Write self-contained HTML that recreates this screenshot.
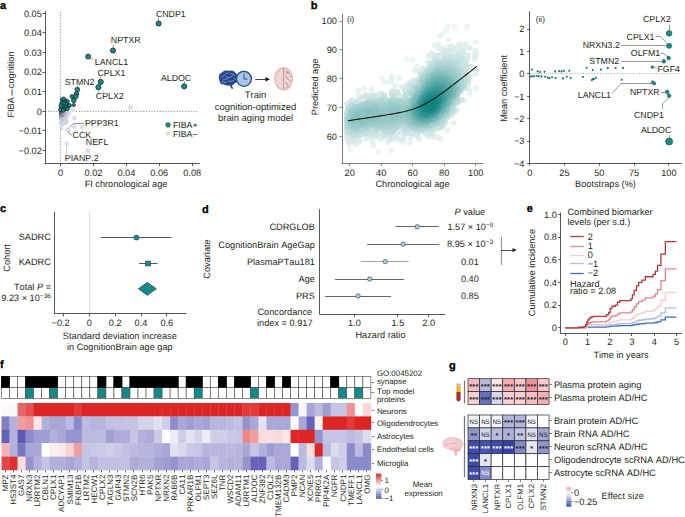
<!DOCTYPE html>
<html><head><meta charset="utf-8"><style>
html,body{margin:0;padding:0;background:#fff;}
svg{display:block;font-family:"Liberation Sans", sans-serif;text-rendering:geometricPrecision;font-kerning:none;}
</style></head><body>
<svg width="685" height="517" viewBox="0 0 685 517">
<rect width="685" height="517" fill="#fff"/>
<text x="0" y="8.6" font-size="11" font-weight="bold" fill="#000" stroke="#000" stroke-width="0.3">a</text>
<line x1="45.50" y1="11.00" x2="45.50" y2="163.40" stroke="#231f20" stroke-width="0.75" />
<line x1="44.65" y1="163.50" x2="199.80" y2="163.50" stroke="#231f20" stroke-width="0.75" />
<line x1="42.50" y1="13.50" x2="45.00" y2="13.50" stroke="#231f20" stroke-width="0.75" />
<text x="41.80" y="16.51" font-size="9.2" text-anchor="end" fill="#231f20" >0.05</text>
<line x1="42.50" y1="32.50" x2="45.00" y2="32.50" stroke="#231f20" stroke-width="0.75" />
<text x="41.80" y="36.11" font-size="9.2" text-anchor="end" fill="#231f20" >0.04</text>
<line x1="42.50" y1="52.50" x2="45.00" y2="52.50" stroke="#231f20" stroke-width="0.75" />
<text x="41.80" y="55.71" font-size="9.2" text-anchor="end" fill="#231f20" >0.03</text>
<line x1="42.50" y1="72.50" x2="45.00" y2="72.50" stroke="#231f20" stroke-width="0.75" />
<text x="41.80" y="75.31" font-size="9.2" text-anchor="end" fill="#231f20" >0.02</text>
<line x1="42.50" y1="91.50" x2="45.00" y2="91.50" stroke="#231f20" stroke-width="0.75" />
<text x="41.80" y="94.91" font-size="9.2" text-anchor="end" fill="#231f20" >0.01</text>
<line x1="42.50" y1="111.50" x2="45.00" y2="111.50" stroke="#231f20" stroke-width="0.75" />
<text x="41.80" y="114.51" font-size="9.2" text-anchor="end" fill="#231f20" >0</text>
<line x1="42.50" y1="130.50" x2="45.00" y2="130.50" stroke="#231f20" stroke-width="0.75" />
<text x="41.80" y="134.11" font-size="9.2" text-anchor="end" fill="#231f20" >−0.01</text>
<line x1="42.50" y1="150.50" x2="45.00" y2="150.50" stroke="#231f20" stroke-width="0.75" />
<text x="41.80" y="153.71" font-size="9.2" text-anchor="end" fill="#231f20" >−0.02</text>
<line x1="60.50" y1="163.40" x2="60.50" y2="166.00" stroke="#231f20" stroke-width="0.75" />
<text x="60.60" y="175.91" font-size="9.2" text-anchor="middle" fill="#231f20" >0</text>
<line x1="93.50" y1="163.40" x2="93.50" y2="166.00" stroke="#231f20" stroke-width="0.75" />
<text x="93.50" y="175.91" font-size="9.2" text-anchor="middle" fill="#231f20" >0.02</text>
<line x1="126.50" y1="163.40" x2="126.50" y2="166.00" stroke="#231f20" stroke-width="0.75" />
<text x="126.40" y="175.91" font-size="9.2" text-anchor="middle" fill="#231f20" >0.04</text>
<line x1="159.50" y1="163.40" x2="159.50" y2="166.00" stroke="#231f20" stroke-width="0.75" />
<text x="159.30" y="175.91" font-size="9.2" text-anchor="middle" fill="#231f20" >0.06</text>
<line x1="192.50" y1="163.40" x2="192.50" y2="166.00" stroke="#231f20" stroke-width="0.75" />
<text x="192.20" y="175.91" font-size="9.2" text-anchor="middle" fill="#231f20" >0.08</text>
<text x="126.00" y="187.01" font-size="9.2" text-anchor="middle" fill="#231f20" >FI chronological age</text>
<text transform="translate(14.11,84.50) rotate(-90)" font-size="9.2" text-anchor="middle" fill="#231f20">FIBA<tspan dx="1.3" dy="0.9" font-size="11.8">–</tspan><tspan dx="1.1" dy="-0.9">cognition</tspan></text>
<line x1="45.00" y1="111.50" x2="199.00" y2="111.50" stroke="#555" stroke-width="0.6" stroke-dasharray="1.2,1.6"/>
<line x1="60.50" y1="12.00" x2="60.50" y2="163.00" stroke="#555" stroke-width="0.6" stroke-dasharray="1.2,1.6"/>
<circle cx="72.60" cy="109.80" r="2.40" fill="#dcdfeb" stroke="none" stroke-width="0.5" />
<circle cx="74.50" cy="118.20" r="2.40" fill="#dcdfeb" stroke="none" stroke-width="0.5" />
<circle cx="74.50" cy="126.40" r="2.40" fill="#dcdfeb" stroke="none" stroke-width="0.5" />
<circle cx="82.10" cy="127.00" r="2.40" fill="#dcdfeb" stroke="none" stroke-width="0.5" />
<circle cx="67.00" cy="129.60" r="2.40" fill="#dcdfeb" stroke="none" stroke-width="0.5" />
<circle cx="130.60" cy="107.50" r="2.50" fill="#dcdfeb" stroke="none" stroke-width="0.5" />
<circle cx="87.70" cy="150.60" r="2.50" fill="#dcdfeb" stroke="none" stroke-width="0.5" />
<circle cx="66.70" cy="144.00" r="2.20" fill="#dcdfeb" stroke="none" stroke-width="0.5" />
<circle cx="68.50" cy="130.50" r="2.30" fill="#dcdfeb" stroke="none" stroke-width="0.5" />
<circle cx="66.00" cy="116.00" r="2.30" fill="#dcdfeb" stroke="none" stroke-width="0.5" />
<circle cx="63.00" cy="124.00" r="2.00" fill="#dcdfeb" stroke="none" stroke-width="0.5" />
<circle cx="69.00" cy="113.00" r="2.20" fill="#dcdfeb" stroke="none" stroke-width="0.5" />
<circle cx="64.00" cy="119.00" r="2.00" fill="#dcdfeb" stroke="none" stroke-width="0.5" />
<circle cx="60.93" cy="117.38" r="1.70" fill="#a0a3b7" stroke="none" stroke-width="0.5" />
<circle cx="63.62" cy="115.18" r="1.70" fill="#abaec1" stroke="none" stroke-width="0.5" />
<circle cx="66.21" cy="111.37" r="1.70" fill="#d0d3e4" stroke="none" stroke-width="0.5" />
<circle cx="61.74" cy="128.55" r="1.70" fill="#d0d3e4" stroke="none" stroke-width="0.5" />
<circle cx="62.73" cy="115.86" r="1.70" fill="#9fa2b7" stroke="none" stroke-width="0.5" />
<circle cx="63.73" cy="116.83" r="1.70" fill="#bcc0d2" stroke="none" stroke-width="0.5" />
<circle cx="65.89" cy="111.81" r="1.70" fill="#d0d3e4" stroke="none" stroke-width="0.5" />
<circle cx="65.56" cy="114.13" r="1.70" fill="#d0d3e4" stroke="none" stroke-width="0.5" />
<circle cx="61.48" cy="111.81" r="1.70" fill="#565972" stroke="none" stroke-width="0.5" />
<circle cx="65.96" cy="111.99" r="1.70" fill="#d0d3e4" stroke="none" stroke-width="0.5" />
<circle cx="62.18" cy="122.58" r="1.70" fill="#d0d3e4" stroke="none" stroke-width="0.5" />
<circle cx="62.35" cy="116.16" r="1.70" fill="#9ca0b4" stroke="none" stroke-width="0.5" />
<circle cx="61.35" cy="112.22" r="1.70" fill="#565972" stroke="none" stroke-width="0.5" />
<circle cx="62.33" cy="124.46" r="1.70" fill="#d0d3e4" stroke="none" stroke-width="0.5" />
<circle cx="62.59" cy="113.83" r="1.70" fill="#868aa0" stroke="none" stroke-width="0.5" />
<circle cx="63.00" cy="113.86" r="1.70" fill="#9194a9" stroke="none" stroke-width="0.5" />
<circle cx="66.63" cy="116.52" r="1.70" fill="#d0d3e4" stroke="none" stroke-width="0.5" />
<circle cx="66.72" cy="115.18" r="1.70" fill="#d0d3e4" stroke="none" stroke-width="0.5" />
<circle cx="62.08" cy="113.39" r="1.70" fill="#767990" stroke="none" stroke-width="0.5" />
<circle cx="67.23" cy="113.13" r="1.70" fill="#d0d3e4" stroke="none" stroke-width="0.5" />
<circle cx="61.66" cy="114.19" r="1.70" fill="#777a91" stroke="none" stroke-width="0.5" />
<circle cx="62.48" cy="112.51" r="1.70" fill="#797c93" stroke="none" stroke-width="0.5" />
<circle cx="65.83" cy="123.73" r="1.70" fill="#d0d3e4" stroke="none" stroke-width="0.5" />
<circle cx="61.34" cy="115.87" r="1.70" fill="#8c8fa4" stroke="none" stroke-width="0.5" />
<circle cx="62.65" cy="119.56" r="1.70" fill="#cccfe0" stroke="none" stroke-width="0.5" />
<circle cx="64.24" cy="112.58" r="1.70" fill="#aaadc1" stroke="none" stroke-width="0.5" />
<circle cx="61.79" cy="115.33" r="1.70" fill="#898ca2" stroke="none" stroke-width="0.5" />
<circle cx="64.93" cy="111.29" r="1.70" fill="#bbbed0" stroke="none" stroke-width="0.5" />
<circle cx="61.36" cy="112.55" r="1.70" fill="#5a5e76" stroke="none" stroke-width="0.5" />
<circle cx="62.64" cy="111.21" r="1.70" fill="#797d93" stroke="none" stroke-width="0.5" />
<circle cx="61.59" cy="112.55" r="1.70" fill="#60647c" stroke="none" stroke-width="0.5" />
<circle cx="63.11" cy="114.02" r="1.70" fill="#9598ad" stroke="none" stroke-width="0.5" />
<circle cx="63.08" cy="113.74" r="1.70" fill="#9295aa" stroke="none" stroke-width="0.5" />
<circle cx="65.19" cy="111.49" r="1.70" fill="#c2c5d7" stroke="none" stroke-width="0.5" />
<circle cx="65.22" cy="113.28" r="1.70" fill="#c6c9db" stroke="none" stroke-width="0.5" />
<circle cx="64.25" cy="110.76" r="1.70" fill="#a8abbf" stroke="none" stroke-width="0.5" />
<circle cx="61.57" cy="115.14" r="1.70" fill="#83879d" stroke="none" stroke-width="0.5" />
<circle cx="63.96" cy="111.42" r="1.70" fill="#a0a3b7" stroke="none" stroke-width="0.5" />
<circle cx="63.63" cy="114.18" r="1.70" fill="#a3a6ba" stroke="none" stroke-width="0.5" />
<circle cx="63.44" cy="115.67" r="1.70" fill="#abaec2" stroke="none" stroke-width="0.5" />
<circle cx="63.36" cy="114.92" r="1.70" fill="#a2a6ba" stroke="none" stroke-width="0.5" />
<circle cx="63.91" cy="117.39" r="1.70" fill="#c5c8da" stroke="none" stroke-width="0.5" />
<circle cx="62.06" cy="110.77" r="1.70" fill="#676a82" stroke="none" stroke-width="0.5" />
<circle cx="62.97" cy="111.46" r="1.70" fill="#83879d" stroke="none" stroke-width="0.5" />
<circle cx="62.84" cy="113.16" r="1.70" fill="#878ba0" stroke="none" stroke-width="0.5" />
<circle cx="62.02" cy="115.38" r="1.70" fill="#8d90a6" stroke="none" stroke-width="0.5" />
<circle cx="62.04" cy="115.59" r="1.70" fill="#9093a8" stroke="none" stroke-width="0.5" />
<circle cx="64.92" cy="111.70" r="1.70" fill="#bbbed0" stroke="none" stroke-width="0.5" />
<circle cx="61.95" cy="114.13" r="1.70" fill="#7b7f95" stroke="none" stroke-width="0.5" />
<circle cx="60.86" cy="114.03" r="1.70" fill="#6a6e85" stroke="none" stroke-width="0.5" />
<circle cx="61.03" cy="112.91" r="1.70" fill="#595d75" stroke="none" stroke-width="0.5" />
<circle cx="63.58" cy="119.51" r="1.70" fill="#d0d3e4" stroke="none" stroke-width="0.5" />
<circle cx="61.73" cy="113.14" r="1.70" fill="#6a6e86" stroke="none" stroke-width="0.5" />
<circle cx="64.40" cy="119.76" r="1.70" fill="#d0d3e4" stroke="none" stroke-width="0.5" />
<circle cx="61.07" cy="113.26" r="1.70" fill="#5f637b" stroke="none" stroke-width="0.5" />
<circle cx="63.18" cy="119.79" r="1.70" fill="#d0d3e4" stroke="none" stroke-width="0.5" />
<circle cx="62.15" cy="114.56" r="1.70" fill="#85889e" stroke="none" stroke-width="0.5" />
<circle cx="64.03" cy="118.25" r="1.70" fill="#d0d3e4" stroke="none" stroke-width="0.5" />
<circle cx="62.86" cy="113.83" r="1.70" fill="#8d91a6" stroke="none" stroke-width="0.5" />
<circle cx="61.07" cy="115.53" r="1.70" fill="#84879d" stroke="none" stroke-width="0.5" />
<circle cx="64.00" cy="113.23" r="1.70" fill="#a7aabd" stroke="none" stroke-width="0.5" />
<circle cx="61.49" cy="110.94" r="1.70" fill="#535770" stroke="none" stroke-width="0.5" />
<circle cx="67.16" cy="121.59" r="1.70" fill="#d0d3e4" stroke="none" stroke-width="0.5" />
<circle cx="67.00" cy="114.38" r="1.70" fill="#d0d3e4" stroke="none" stroke-width="0.5" />
<circle cx="61.16" cy="120.97" r="1.70" fill="#d0d3e4" stroke="none" stroke-width="0.5" />
<circle cx="63.07" cy="111.04" r="1.70" fill="#86899f" stroke="none" stroke-width="0.5" />
<circle cx="61.07" cy="112.54" r="1.70" fill="#535770" stroke="none" stroke-width="0.5" />
<circle cx="61.51" cy="120.26" r="1.70" fill="#cccfe0" stroke="none" stroke-width="0.5" />
<circle cx="65.10" cy="115.32" r="1.70" fill="#ced1e2" stroke="none" stroke-width="0.5" />
<circle cx="66.01" cy="117.64" r="1.70" fill="#d0d3e4" stroke="none" stroke-width="0.5" />
<circle cx="65.35" cy="111.25" r="1.70" fill="#c6c9da" stroke="none" stroke-width="0.5" />
<circle cx="62.19" cy="118.22" r="1.70" fill="#b5b8cb" stroke="none" stroke-width="0.5" />
<circle cx="67.01" cy="117.21" r="1.70" fill="#d0d3e4" stroke="none" stroke-width="0.5" />
<circle cx="62.48" cy="114.02" r="1.70" fill="#86899f" stroke="none" stroke-width="0.5" />
<circle cx="65.81" cy="111.87" r="1.70" fill="#d0d3e4" stroke="none" stroke-width="0.5" />
<circle cx="62.39" cy="116.93" r="1.70" fill="#a7aabe" stroke="none" stroke-width="0.5" />
<circle cx="63.83" cy="119.07" r="1.70" fill="#d0d3e4" stroke="none" stroke-width="0.5" />
<circle cx="62.14" cy="120.11" r="1.70" fill="#ced1e2" stroke="none" stroke-width="0.5" />
<circle cx="64.39" cy="118.42" r="1.70" fill="#d0d3e4" stroke="none" stroke-width="0.5" />
<circle cx="61.15" cy="114.81" r="1.70" fill="#797d93" stroke="none" stroke-width="0.5" />
<circle cx="64.14" cy="113.40" r="1.70" fill="#abaec2" stroke="none" stroke-width="0.5" />
<circle cx="61.36" cy="110.52" r="1.70" fill="#4f536c" stroke="none" stroke-width="0.5" />
<circle cx="62.17" cy="111.96" r="1.70" fill="#6d7088" stroke="none" stroke-width="0.5" />
<circle cx="61.58" cy="112.35" r="1.70" fill="#5e617a" stroke="none" stroke-width="0.5" />
<circle cx="61.67" cy="114.88" r="1.70" fill="#81849a" stroke="none" stroke-width="0.5" />
<circle cx="63.04" cy="116.33" r="1.70" fill="#aaadc1" stroke="none" stroke-width="0.5" />
<circle cx="61.32" cy="115.08" r="1.70" fill="#7f8399" stroke="none" stroke-width="0.5" />
<circle cx="65.13" cy="113.48" r="1.70" fill="#c5c8da" stroke="none" stroke-width="0.5" />
<circle cx="62.30" cy="112.16" r="1.70" fill="#71758c" stroke="none" stroke-width="0.5" />
<circle cx="64.81" cy="116.36" r="1.70" fill="#ced1e2" stroke="none" stroke-width="0.5" />
<circle cx="62.04" cy="117.79" r="1.70" fill="#aeb1c4" stroke="none" stroke-width="0.5" />
<circle cx="63.49" cy="115.13" r="1.70" fill="#a7aabe" stroke="none" stroke-width="0.5" />
<circle cx="64.81" cy="114.55" r="1.70" fill="#c2c5d7" stroke="none" stroke-width="0.5" />
<circle cx="61.15" cy="117.31" r="1.70" fill="#a0a3b7" stroke="none" stroke-width="0.5" />
<circle cx="63.55" cy="113.02" r="1.70" fill="#9a9db1" stroke="none" stroke-width="0.5" />
<circle cx="65.77" cy="119.36" r="1.70" fill="#d0d3e4" stroke="none" stroke-width="0.5" />
<circle cx="64.77" cy="116.33" r="1.70" fill="#cdd0e1" stroke="none" stroke-width="0.5" />
<circle cx="62.68" cy="111.13" r="1.70" fill="#7a7e94" stroke="none" stroke-width="0.5" />
<circle cx="64.43" cy="120.29" r="1.70" fill="#d0d3e4" stroke="none" stroke-width="0.5" />
<circle cx="63.29" cy="118.27" r="1.70" fill="#c5c8d9" stroke="none" stroke-width="0.5" />
<circle cx="63.39" cy="114.92" r="1.70" fill="#a3a6ba" stroke="none" stroke-width="0.5" />
<circle cx="63.46" cy="117.94" r="1.70" fill="#c3c7d8" stroke="none" stroke-width="0.5" />
<circle cx="62.41" cy="111.87" r="1.70" fill="#73778e" stroke="none" stroke-width="0.5" />
<circle cx="61.49" cy="111.58" r="1.70" fill="#555871" stroke="none" stroke-width="0.5" />
<circle cx="65.19" cy="117.82" r="1.70" fill="#d0d3e4" stroke="none" stroke-width="0.5" />
<circle cx="64.71" cy="122.13" r="1.70" fill="#d0d3e4" stroke="none" stroke-width="0.5" />
<circle cx="61.37" cy="111.93" r="1.70" fill="#535770" stroke="none" stroke-width="0.5" />
<circle cx="65.07" cy="111.12" r="1.70" fill="#bec1d3" stroke="none" stroke-width="0.5" />
<circle cx="60.32" cy="123.34" r="1.70" fill="#d0d3e4" stroke="none" stroke-width="0.5" />
<circle cx="62.93" cy="116.83" r="1.70" fill="#aeb1c4" stroke="none" stroke-width="0.5" />
<circle cx="60.59" cy="113.96" r="1.70" fill="#686b83" stroke="none" stroke-width="0.5" />
<circle cx="64.42" cy="116.63" r="1.70" fill="#c8cbdd" stroke="none" stroke-width="0.5" />
<circle cx="62.65" cy="114.59" r="1.70" fill="#8f93a8" stroke="none" stroke-width="0.5" />
<circle cx="61.89" cy="111.63" r="1.70" fill="#62667e" stroke="none" stroke-width="0.5" />
<circle cx="64.15" cy="111.46" r="1.70" fill="#a5a9bc" stroke="none" stroke-width="0.5" />
<circle cx="63.56" cy="117.63" r="1.70" fill="#c2c5d7" stroke="none" stroke-width="0.5" />
<circle cx="62.45" cy="116.39" r="1.70" fill="#a1a4b8" stroke="none" stroke-width="0.5" />
<circle cx="64.37" cy="119.68" r="1.70" fill="#d0d3e4" stroke="none" stroke-width="0.5" />
<circle cx="65.41" cy="115.67" r="1.70" fill="#d0d3e4" stroke="none" stroke-width="0.5" />
<circle cx="64.29" cy="111.14" r="1.70" fill="#a9acc0" stroke="none" stroke-width="0.5" />
<circle cx="61.36" cy="114.49" r="1.70" fill="#777a91" stroke="none" stroke-width="0.5" />
<circle cx="62.72" cy="112.95" r="1.70" fill="#83869c" stroke="none" stroke-width="0.5" />
<circle cx="63.24" cy="123.20" r="1.70" fill="#d0d3e4" stroke="none" stroke-width="0.5" />
<circle cx="62.08" cy="115.96" r="1.70" fill="#9699ae" stroke="none" stroke-width="0.5" />
<circle cx="62.50" cy="112.70" r="1.70" fill="#7b7e95" stroke="none" stroke-width="0.5" />
<circle cx="64.05" cy="111.41" r="1.70" fill="#a3a6ba" stroke="none" stroke-width="0.5" />
<circle cx="61.92" cy="115.09" r="1.70" fill="#878ba1" stroke="none" stroke-width="0.5" />
<circle cx="61.64" cy="113.53" r="1.70" fill="#6d7188" stroke="none" stroke-width="0.5" />
<circle cx="64.78" cy="111.45" r="1.70" fill="#b7bacc" stroke="none" stroke-width="0.5" />
<circle cx="63.69" cy="119.30" r="1.70" fill="#d0d3e4" stroke="none" stroke-width="0.5" />
<circle cx="65.99" cy="111.53" r="1.70" fill="#d0d3e4" stroke="none" stroke-width="0.5" />
<circle cx="65.30" cy="115.75" r="1.70" fill="#d0d3e4" stroke="none" stroke-width="0.5" />
<circle cx="62.60" cy="111.31" r="1.70" fill="#787b92" stroke="none" stroke-width="0.5" />
<circle cx="62.26" cy="118.58" r="1.70" fill="#bbbed0" stroke="none" stroke-width="0.5" />
<circle cx="61.78" cy="113.75" r="1.70" fill="#73778e" stroke="none" stroke-width="0.5" />
<circle cx="61.15" cy="114.04" r="1.70" fill="#6d7088" stroke="none" stroke-width="0.5" />
<circle cx="64.56" cy="119.66" r="1.70" fill="#d0d3e4" stroke="none" stroke-width="0.5" />
<circle cx="62.43" cy="114.08" r="1.70" fill="#85899e" stroke="none" stroke-width="0.5" />
<circle cx="60.48" cy="112.81" r="1.70" fill="#52566f" stroke="none" stroke-width="0.5" />
<circle cx="61.88" cy="114.45" r="1.70" fill="#7e8298" stroke="none" stroke-width="0.5" />
<circle cx="64.15" cy="114.49" r="1.70" fill="#b2b5c8" stroke="none" stroke-width="0.5" />
<circle cx="62.41" cy="115.57" r="1.70" fill="#9699ae" stroke="none" stroke-width="0.5" />
<circle cx="62.33" cy="117.57" r="1.70" fill="#aeb2c5" stroke="none" stroke-width="0.5" />
<circle cx="63.26" cy="114.86" r="1.70" fill="#a0a3b7" stroke="none" stroke-width="0.5" />
<circle cx="61.02" cy="118.54" r="1.70" fill="#b1b5c7" stroke="none" stroke-width="0.5" />
<circle cx="65.30" cy="118.33" r="1.70" fill="#d0d3e4" stroke="none" stroke-width="0.5" />
<circle cx="63.84" cy="112.42" r="1.70" fill="#9fa2b6" stroke="none" stroke-width="0.5" />
<circle cx="61.13" cy="115.10" r="1.70" fill="#7e8197" stroke="none" stroke-width="0.5" />
<circle cx="63.60" cy="118.71" r="1.70" fill="#ced1e2" stroke="none" stroke-width="0.5" />
<circle cx="61.21" cy="124.52" r="1.70" fill="#d0d3e4" stroke="none" stroke-width="0.5" />
<circle cx="62.23" cy="111.11" r="1.70" fill="#6c6f87" stroke="none" stroke-width="0.5" />
<circle cx="63.87" cy="117.51" r="1.70" fill="#c6c9db" stroke="none" stroke-width="0.5" />
<circle cx="62.71" cy="111.91" r="1.70" fill="#7d8097" stroke="none" stroke-width="0.5" />
<circle cx="62.55" cy="113.03" r="1.70" fill="#7f8298" stroke="none" stroke-width="0.5" />
<circle cx="62.18" cy="112.84" r="1.70" fill="#73768e" stroke="none" stroke-width="0.5" />
<circle cx="62.76" cy="114.33" r="1.70" fill="#8f93a8" stroke="none" stroke-width="0.5" />
<circle cx="64.10" cy="114.52" r="1.70" fill="#b1b4c7" stroke="none" stroke-width="0.5" />
<circle cx="62.92" cy="111.75" r="1.70" fill="#82869c" stroke="none" stroke-width="0.5" />
<circle cx="65.43" cy="114.15" r="1.70" fill="#cfd2e3" stroke="none" stroke-width="0.5" />
<circle cx="65.37" cy="112.92" r="1.70" fill="#c9ccdd" stroke="none" stroke-width="0.5" />
<circle cx="61.54" cy="115.88" r="1.70" fill="#8e91a6" stroke="none" stroke-width="0.5" />
<circle cx="63.93" cy="112.21" r="1.70" fill="#a1a4b8" stroke="none" stroke-width="0.5" />
<circle cx="60.93" cy="115.61" r="1.70" fill="#84889e" stroke="none" stroke-width="0.5" />
<circle cx="64.20" cy="114.42" r="1.70" fill="#b2b6c9" stroke="none" stroke-width="0.5" />
<circle cx="63.84" cy="119.01" r="1.70" fill="#d0d3e4" stroke="none" stroke-width="0.5" />
<circle cx="60.51" cy="113.00" r="1.70" fill="#565a72" stroke="none" stroke-width="0.5" />
<circle cx="61.30" cy="119.22" r="1.70" fill="#bcbfd2" stroke="none" stroke-width="0.5" />
<circle cx="62.25" cy="115.80" r="1.70" fill="#969aae" stroke="none" stroke-width="0.5" />
<circle cx="62.91" cy="118.87" r="1.70" fill="#c6c9db" stroke="none" stroke-width="0.5" />
<circle cx="62.26" cy="114.91" r="1.70" fill="#8b8fa4" stroke="none" stroke-width="0.5" />
<line x1="66.50" y1="146.40" x2="66.50" y2="153.60" stroke="#c8cad6" stroke-width="0.9" />
<path d="M83.7,123.5 L73.5,123.5 L68.5,128.2" stroke="#555" stroke-width="0.6" fill="none" />
<path d="M72,135.2 Q69,134.5 68.6,131.5" stroke="#555" stroke-width="0.6" fill="none" />
<circle cx="158.60" cy="23.50" r="2.60" fill="#178b89" stroke="#101c1c" stroke-width="0.7" />
<circle cx="113.00" cy="50.50" r="2.60" fill="#178b89" stroke="#101c1c" stroke-width="0.7" />
<circle cx="88.20" cy="56.60" r="2.50" fill="#178b89" stroke="#101c1c" stroke-width="0.7" />
<circle cx="100.70" cy="81.90" r="2.60" fill="#178b89" stroke="#101c1c" stroke-width="0.7" />
<circle cx="98.40" cy="87.20" r="2.60" fill="#178b89" stroke="#101c1c" stroke-width="0.7" />
<circle cx="184.20" cy="86.30" r="2.60" fill="#178b89" stroke="#101c1c" stroke-width="0.7" />
<circle cx="77.30" cy="89.70" r="2.40" fill="#178b89" stroke="#101c1c" stroke-width="0.7" />
<circle cx="76.40" cy="94.10" r="2.30" fill="#178b89" stroke="#101c1c" stroke-width="0.7" />
<circle cx="72.00" cy="96.50" r="2.00" fill="#178b89" stroke="#101c1c" stroke-width="0.7" />
<circle cx="75.80" cy="96.50" r="2.30" fill="#178b89" stroke="#101c1c" stroke-width="0.7" />
<circle cx="73.80" cy="100.40" r="2.30" fill="#178b89" stroke="#101c1c" stroke-width="0.7" />
<circle cx="73.80" cy="105.00" r="1.60" fill="#178b89" stroke="#101c1c" stroke-width="0.7" />
<circle cx="62.20" cy="99.60" r="1.85" fill="#178b89" stroke="#101c1c" stroke-width="0.7" />
<circle cx="65.10" cy="100.40" r="1.85" fill="#178b89" stroke="#101c1c" stroke-width="0.7" />
<circle cx="67.40" cy="101.30" r="1.85" fill="#178b89" stroke="#101c1c" stroke-width="0.7" />
<circle cx="61.60" cy="103.10" r="1.85" fill="#178b89" stroke="#101c1c" stroke-width="0.7" />
<circle cx="64.50" cy="103.60" r="1.85" fill="#178b89" stroke="#101c1c" stroke-width="0.7" />
<circle cx="67.20" cy="104.20" r="1.85" fill="#178b89" stroke="#101c1c" stroke-width="0.7" />
<circle cx="68.60" cy="106.00" r="1.85" fill="#178b89" stroke="#101c1c" stroke-width="0.7" />
<circle cx="62.80" cy="106.20" r="1.85" fill="#178b89" stroke="#101c1c" stroke-width="0.7" />
<circle cx="65.70" cy="107.10" r="1.85" fill="#178b89" stroke="#101c1c" stroke-width="0.7" />
<circle cx="61.60" cy="108.30" r="1.85" fill="#178b89" stroke="#101c1c" stroke-width="0.7" />
<circle cx="64.50" cy="109.20" r="1.85" fill="#178b89" stroke="#101c1c" stroke-width="0.7" />
<circle cx="67.40" cy="108.90" r="1.85" fill="#178b89" stroke="#101c1c" stroke-width="0.7" />
<circle cx="69.60" cy="105.40" r="1.85" fill="#178b89" stroke="#101c1c" stroke-width="0.7" />
<circle cx="60.40" cy="110.00" r="1.85" fill="#178b89" stroke="#101c1c" stroke-width="0.7" />
<circle cx="63.30" cy="110.40" r="1.85" fill="#178b89" stroke="#101c1c" stroke-width="0.7" />
<circle cx="60.80" cy="105.50" r="1.85" fill="#178b89" stroke="#101c1c" stroke-width="0.7" />
<circle cx="63.60" cy="98.80" r="1.85" fill="#178b89" stroke="#101c1c" stroke-width="0.7" />
<line x1="158.50" y1="17.80" x2="158.50" y2="20.80" stroke="#555" stroke-width="0.6" />
<line x1="113.50" y1="45.20" x2="113.50" y2="47.80" stroke="#555" stroke-width="0.6" />
<line x1="90.60" y1="58.00" x2="93.30" y2="59.60" stroke="#555" stroke-width="0.6" />
<line x1="77.50" y1="85.80" x2="77.50" y2="87.20" stroke="#555" stroke-width="0.6" />
<line x1="100.50" y1="77.30" x2="100.50" y2="79.20" stroke="#555" stroke-width="0.6" />
<line x1="98.50" y1="89.90" x2="98.50" y2="91.60" stroke="#555" stroke-width="0.6" />
<line x1="184.50" y1="81.80" x2="184.50" y2="83.60" stroke="#555" stroke-width="0.6" />
<text x="155.90" y="16.80" font-size="8.8" fill="#231f20" >CNDP1</text>
<text x="110.80" y="43.40" font-size="8.8" fill="#231f20" >NPTXR</text>
<text x="94.80" y="64.70" font-size="8.8" fill="#231f20" >LANCL1</text>
<text x="97.50" y="76.10" font-size="8.8" fill="#231f20" >CPLX1</text>
<text x="95.80" y="99.40" font-size="8.8" fill="#231f20" >CPLX2</text>
<text x="160.90" y="80.50" font-size="8.8" fill="#231f20" >ALDOC</text>
<text x="64.70" y="84.50" font-size="8.8" fill="#231f20" >STMN2</text>
<text x="85.00" y="126.20" font-size="8.8" fill="#231f20" >PPP3R1</text>
<text x="72.60" y="137.50" font-size="8.8" fill="#231f20" >CCK</text>
<text x="85.80" y="145.30" font-size="8.8" fill="#231f20" >NEFL</text>
<text x="64.80" y="161.00" font-size="8.8" fill="#231f20" >PIANP.2</text>
<circle cx="168.00" cy="124.90" r="2.30" fill="#178b89" stroke="#203a3a" stroke-width="0.55" />
<circle cx="168.00" cy="133.60" r="2.30" fill="#dcdfeb" stroke="none" stroke-width="0.5" />
<text x="172.90" y="128.07" font-size="8.8" fill="#231f20" >FIBA+</text>
<text x="172.90" y="136.57" font-size="8.8" fill="#231f20" >FIBA–</text>
<path d="M219.5,80 C218,77 219,73.5 222,72.5 C223.5,70.5 227,70 229,71 C231.5,70 234.5,71 235.5,73 C237.5,74 238,77 237,79 C237.8,81 236.5,83 234.5,83.3 C234,85 232.5,85.5 231.5,85 L233.3,88.5 L231.8,89 L229.5,85.3 C227.5,86 225,85.5 224,84.3 C222,84.8 220,83.5 220,82 C219.3,81.5 219.2,80.8 219.5,80 Z" fill="#24458f"/>
<g stroke="#dfe8f6" stroke-width="0.5" fill="none" stroke-linecap="round">
<path d="M221,77.5 C222.5,75.5 224,76.5 225,74.5 C226,73 227.5,74 228.5,72.8 M223,80 C225,78.5 226.5,79.8 228,78 C229.5,76.5 231,77.8 232.5,76 M221.5,82 C223.5,81.5 224.5,83 226.5,82 M228.5,81.5 C230,80.5 231.5,82 233.5,80.8 M230.5,73.5 C232,74.8 233.5,73.8 234.5,75.5 M226,76.5 L227.5,77.3 M234,78.5 C235,79.5 236,78.5 236.5,80"/>
</g>
<circle cx="243.90" cy="78.80" r="7.50" fill="#a9c6e6" stroke="#24448c" stroke-width="1.3" />
<path d="M243.9,73.6 L243.9,79 L247.6,79" stroke="#24448c" stroke-width="0.9" fill="none" />
<line x1="255.30" y1="79.50" x2="267.00" y2="79.50" stroke="#111" stroke-width="0.8" />
<path d="M270,79.2 L265.5,77 L265.5,81.4 Z" fill="#111"/>
<ellipse cx="283.6" cy="78.8" rx="8.9" ry="11" fill="#f3d6d6" stroke="#dcb6ac" stroke-width="1.2"/>
<g fill="#e0b4b4"><circle cx="277" cy="74" r="0.45"/><circle cx="279" cy="71.5" r="0.45"/><circle cx="278.5" cy="77" r="0.45"/><circle cx="280.5" cy="75" r="0.45"/><circle cx="277.5" cy="80.5" r="0.45"/><circle cx="280" cy="82" r="0.45"/><circle cx="278" cy="85" r="0.45"/><circle cx="281" cy="87" r="0.45"/><circle cx="281.5" cy="72.5" r="0.45"/><circle cx="280.5" cy="78.5" r="0.45"/><circle cx="276.8" cy="77.6" r="0.45"/><circle cx="279.5" cy="88" r="0.45"/><circle cx="282" cy="84.5" r="0.45"/><circle cx="282.2" cy="80" r="0.45"/></g>
<path d="M283.8,68.2 C283.2,72 284.3,75 283.4,79 C284.2,83 283.3,86 283.8,89.5" stroke="#8c6464" stroke-width="0.6" fill="none" />
<path d="M285.5,70.5 C287.5,71.5 286,73.5 288.5,74 M285.3,75.5 C287,77 285.8,78.5 288,79.2 C289.3,79.8 289.5,81 290.8,81.3 M285.6,82 C287.3,83 286.6,85 288.5,85.6 M287.2,71.8 L289.6,73.6 M286.2,87.2 L288.4,86.4 M289.8,76.5 L291.5,76" stroke="#6e4c4c" stroke-width="0.55" fill="none" />
<text x="255.50" y="98.40" font-size="9.45" text-anchor="middle" fill="#231f20" >Train</text>
<text x="255.50" y="109.90" font-size="9.45" text-anchor="middle" fill="#231f20" >cognition-optimized</text>
<text x="255.50" y="120.80" font-size="9.45" text-anchor="middle" fill="#231f20" >brain aging model</text>
<text x="310.8" y="8.9" font-size="11" font-weight="bold" fill="#000" stroke="#000" stroke-width="0.3">b</text>
<line x1="342.50" y1="14.00" x2="342.50" y2="163.00" stroke="#6d6d6d" stroke-width="0.9" />
<line x1="341.50" y1="163.50" x2="483.20" y2="163.50" stroke="#6d6d6d" stroke-width="0.9" />
<line x1="339.50" y1="21.50" x2="342.00" y2="21.50" stroke="#6d6d6d" stroke-width="0.8" />
<text x="336.90" y="24.31" font-size="9.2" text-anchor="end" fill="#231f20" >100</text>
<line x1="339.50" y1="49.50" x2="342.00" y2="49.50" stroke="#6d6d6d" stroke-width="0.8" />
<text x="336.90" y="53.11" font-size="9.2" text-anchor="end" fill="#231f20" >90</text>
<line x1="339.50" y1="78.50" x2="342.00" y2="78.50" stroke="#6d6d6d" stroke-width="0.8" />
<text x="336.90" y="81.91" font-size="9.2" text-anchor="end" fill="#231f20" >80</text>
<line x1="339.50" y1="107.50" x2="342.00" y2="107.50" stroke="#6d6d6d" stroke-width="0.8" />
<text x="336.90" y="110.71" font-size="9.2" text-anchor="end" fill="#231f20" >70</text>
<line x1="339.50" y1="136.50" x2="342.00" y2="136.50" stroke="#6d6d6d" stroke-width="0.8" />
<text x="336.90" y="139.51" font-size="9.2" text-anchor="end" fill="#231f20" >60</text>
<line x1="349.50" y1="163.40" x2="349.50" y2="166.00" stroke="#6d6d6d" stroke-width="0.8" />
<text x="349.70" y="175.91" font-size="9.2" text-anchor="middle" fill="#231f20" >20</text>
<line x1="381.50" y1="163.40" x2="381.50" y2="166.00" stroke="#6d6d6d" stroke-width="0.8" />
<text x="381.20" y="175.91" font-size="9.2" text-anchor="middle" fill="#231f20" >40</text>
<line x1="412.50" y1="163.40" x2="412.50" y2="166.00" stroke="#6d6d6d" stroke-width="0.8" />
<text x="412.70" y="175.91" font-size="9.2" text-anchor="middle" fill="#231f20" >60</text>
<line x1="444.50" y1="163.40" x2="444.50" y2="166.00" stroke="#6d6d6d" stroke-width="0.8" />
<text x="444.20" y="175.91" font-size="9.2" text-anchor="middle" fill="#231f20" >80</text>
<line x1="475.50" y1="163.40" x2="475.50" y2="166.00" stroke="#6d6d6d" stroke-width="0.8" />
<text x="475.70" y="175.91" font-size="9.2" text-anchor="middle" fill="#231f20" >100</text>
<text x="412.50" y="187.01" font-size="9.2" text-anchor="middle" fill="#231f20" >Chronological age</text>
<text transform="translate(317.51,86.90) rotate(-90)" font-size="9.2" text-anchor="middle" fill="#231f20">Predicted age</text>
<text x="347.00" y="22.25" font-size="8.2" fill="#231f20" >(i)</text>
<circle cx="467.0" cy="26.8" r="2.9" fill="#e8f2f1" fill-opacity="0.8"/>
<circle cx="406.7" cy="59.3" r="2.9" fill="#e8f2f1" fill-opacity="0.8"/>
<circle cx="454.4" cy="26.8" r="2.9" fill="#e8f2f1" fill-opacity="0.8"/>
<circle cx="378.5" cy="152.1" r="2.9" fill="#e8f2f1" fill-opacity="0.8"/>
<circle cx="448.1" cy="26.8" r="2.9" fill="#e7f2f1" fill-opacity="0.8"/>
<circle cx="391.5" cy="150.5" r="2.9" fill="#e7f2f1" fill-opacity="0.8"/>
<circle cx="412.4" cy="59.5" r="2.9" fill="#e7f2f1" fill-opacity="0.8"/>
<circle cx="382.0" cy="78.5" r="2.9" fill="#e7f2f1" fill-opacity="0.8"/>
<circle cx="445.9" cy="30.6" r="2.9" fill="#e7f2f1" fill-opacity="0.8"/>
<circle cx="442.2" cy="34.5" r="2.9" fill="#e7f2f1" fill-opacity="0.8"/>
<circle cx="439.9" cy="36.0" r="2.9" fill="#e7f2f1" fill-opacity="0.8"/>
<circle cx="475.7" cy="42.1" r="2.9" fill="#e6f1f0" fill-opacity="0.8"/>
<circle cx="392.2" cy="76.4" r="2.9" fill="#e6f1f0" fill-opacity="0.8"/>
<circle cx="350.2" cy="149.4" r="2.9" fill="#e6f1f0" fill-opacity="0.8"/>
<circle cx="391.1" cy="78.9" r="2.9" fill="#e5f1f0" fill-opacity="0.8"/>
<circle cx="385.3" cy="82.2" r="2.9" fill="#e5f1f0" fill-opacity="0.8"/>
<circle cx="398.9" cy="78.0" r="2.9" fill="#e5f1f0" fill-opacity="0.8"/>
<circle cx="434.5" cy="44.9" r="2.9" fill="#e5f1f0" fill-opacity="0.8"/>
<circle cx="448.6" cy="39.8" r="2.9" fill="#e5f1f0" fill-opacity="0.8"/>
<circle cx="440.5" cy="138.9" r="2.9" fill="#e5f1f0" fill-opacity="0.8"/>
<circle cx="475.7" cy="88.2" r="2.9" fill="#e5f1f0" fill-opacity="0.8"/>
<circle cx="373.5" cy="144.9" r="2.9" fill="#e5f0ef" fill-opacity="0.8"/>
<circle cx="358.4" cy="90.4" r="2.9" fill="#e4f0ef" fill-opacity="0.8"/>
<circle cx="364.2" cy="88.3" r="2.9" fill="#e4f0ef" fill-opacity="0.8"/>
<circle cx="391.5" cy="81.8" r="2.9" fill="#e4f0ef" fill-opacity="0.8"/>
<circle cx="409.9" cy="142.8" r="2.9" fill="#e4f0ef" fill-opacity="0.8"/>
<circle cx="438.8" cy="44.3" r="2.9" fill="#e4f0ef" fill-opacity="0.8"/>
<circle cx="403.3" cy="142.4" r="2.9" fill="#e3f0ef" fill-opacity="0.8"/>
<circle cx="475.3" cy="50.1" r="2.9" fill="#e3f0ee" fill-opacity="0.8"/>
<circle cx="475.7" cy="51.1" r="2.9" fill="#e3efee" fill-opacity="0.8"/>
<circle cx="465.0" cy="43.8" r="2.9" fill="#e2efee" fill-opacity="0.8"/>
<circle cx="475.7" cy="52.6" r="2.9" fill="#e2efee" fill-opacity="0.8"/>
<circle cx="438.1" cy="137.3" r="2.9" fill="#e2efee" fill-opacity="0.8"/>
<circle cx="465.9" cy="44.4" r="2.9" fill="#e2efee" fill-opacity="0.8"/>
<circle cx="447.2" cy="130.7" r="2.9" fill="#e2efee" fill-opacity="0.8"/>
<circle cx="416.8" cy="67.0" r="2.9" fill="#e1efee" fill-opacity="0.8"/>
<circle cx="453.2" cy="123.1" r="2.9" fill="#e1efee" fill-opacity="0.8"/>
<circle cx="475.3" cy="54.5" r="2.9" fill="#e1efee" fill-opacity="0.8"/>
<circle cx="475.7" cy="57.1" r="2.9" fill="#e1efee" fill-opacity="0.8"/>
<circle cx="475.3" cy="55.1" r="2.9" fill="#e1efee" fill-opacity="0.8"/>
<circle cx="469.9" cy="93.9" r="2.9" fill="#e1efee" fill-opacity="0.8"/>
<circle cx="371.6" cy="89.6" r="2.9" fill="#e1efee" fill-opacity="0.8"/>
<circle cx="414.5" cy="70.5" r="2.9" fill="#e1efee" fill-opacity="0.8"/>
<circle cx="416.5" cy="68.1" r="2.9" fill="#e1efee" fill-opacity="0.8"/>
<circle cx="475.7" cy="73.5" r="2.9" fill="#e1efee" fill-opacity="0.8"/>
<circle cx="475.7" cy="73.1" r="2.9" fill="#e1efee" fill-opacity="0.8"/>
<circle cx="469.6" cy="47.8" r="2.9" fill="#e1eeed" fill-opacity="0.8"/>
<circle cx="348.6" cy="143.6" r="2.9" fill="#e1eeed" fill-opacity="0.8"/>
<circle cx="460.1" cy="44.9" r="2.9" fill="#e0eeed" fill-opacity="0.8"/>
<circle cx="475.7" cy="68.9" r="2.9" fill="#e0eeed" fill-opacity="0.8"/>
<circle cx="438.6" cy="48.3" r="2.9" fill="#e0eeed" fill-opacity="0.8"/>
<circle cx="475.6" cy="68.8" r="2.9" fill="#e0eeed" fill-opacity="0.8"/>
<circle cx="419.4" cy="138.9" r="2.9" fill="#e0eeed" fill-opacity="0.8"/>
<circle cx="458.9" cy="45.1" r="2.9" fill="#e0eeed" fill-opacity="0.8"/>
<circle cx="469.2" cy="48.1" r="2.9" fill="#e0eeed" fill-opacity="0.8"/>
<circle cx="372.3" cy="141.1" r="2.9" fill="#e0eeed" fill-opacity="0.8"/>
<circle cx="387.7" cy="142.0" r="2.9" fill="#e0eeed" fill-opacity="0.8"/>
<circle cx="474.6" cy="56.6" r="2.9" fill="#e0eeed" fill-opacity="0.8"/>
<circle cx="355.4" cy="144.3" r="2.9" fill="#e0eeed" fill-opacity="0.8"/>
<circle cx="474.8" cy="58.9" r="2.9" fill="#e0eeed" fill-opacity="0.8"/>
<circle cx="466.1" cy="46.8" r="2.9" fill="#e0eeed" fill-opacity="0.8"/>
<circle cx="428.5" cy="56.0" r="2.9" fill="#e0eeed" fill-opacity="0.8"/>
<circle cx="395.2" cy="85.6" r="2.9" fill="#e0eeed" fill-opacity="0.8"/>
<circle cx="432.0" cy="53.1" r="2.9" fill="#dfeeed" fill-opacity="0.8"/>
<circle cx="400.0" cy="140.1" r="2.9" fill="#dfeeed" fill-opacity="0.8"/>
<circle cx="433.5" cy="136.7" r="2.9" fill="#dfeeed" fill-opacity="0.8"/>
<circle cx="434.5" cy="136.5" r="2.9" fill="#dfeeed" fill-opacity="0.8"/>
<circle cx="451.7" cy="46.3" r="2.9" fill="#dfeeed" fill-opacity="0.8"/>
<circle cx="349.8" cy="142.7" r="2.9" fill="#dfedec" fill-opacity="0.8"/>
<circle cx="443.7" cy="48.1" r="2.9" fill="#deedec" fill-opacity="0.8"/>
<circle cx="448.6" cy="47.0" r="2.9" fill="#deedec" fill-opacity="0.8"/>
<circle cx="410.7" cy="138.4" r="2.9" fill="#deedec" fill-opacity="0.8"/>
<circle cx="404.1" cy="138.7" r="2.9" fill="#deedec" fill-opacity="0.8"/>
<circle cx="358.4" cy="142.1" r="2.9" fill="#ddedec" fill-opacity="0.8"/>
<circle cx="473.4" cy="68.1" r="2.9" fill="#ddedec" fill-opacity="0.8"/>
<circle cx="398.8" cy="138.8" r="2.9" fill="#ddedec" fill-opacity="0.8"/>
<circle cx="428.6" cy="136.4" r="2.9" fill="#dceceb" fill-opacity="0.8"/>
<circle cx="401.4" cy="86.5" r="2.9" fill="#dceceb" fill-opacity="0.8"/>
<circle cx="431.5" cy="56.1" r="2.9" fill="#dceceb" fill-opacity="0.8"/>
<circle cx="455.2" cy="48.5" r="2.9" fill="#dceceb" fill-opacity="0.8"/>
<circle cx="346.7" cy="138.8" r="2.9" fill="#dceceb" fill-opacity="0.8"/>
<circle cx="463.3" cy="49.9" r="2.9" fill="#dceceb" fill-opacity="0.8"/>
<circle cx="456.0" cy="48.7" r="2.9" fill="#dbeceb" fill-opacity="0.8"/>
<circle cx="442.4" cy="50.7" r="2.9" fill="#dbeceb" fill-opacity="0.8"/>
<circle cx="469.3" cy="89.1" r="2.9" fill="#dbeceb" fill-opacity="0.8"/>
<circle cx="461.2" cy="49.8" r="2.9" fill="#dbecea" fill-opacity="0.8"/>
<circle cx="380.9" cy="138.6" r="2.9" fill="#dbecea" fill-opacity="0.8"/>
<circle cx="390.1" cy="139.2" r="2.9" fill="#dbecea" fill-opacity="0.8"/>
<circle cx="393.1" cy="138.9" r="2.9" fill="#dbecea" fill-opacity="0.8"/>
<circle cx="358.8" cy="96.1" r="2.9" fill="#daebea" fill-opacity="0.8"/>
<circle cx="451.0" cy="49.4" r="2.9" fill="#daebea" fill-opacity="0.8"/>
<circle cx="350.9" cy="140.8" r="2.9" fill="#daebea" fill-opacity="0.8"/>
<circle cx="366.1" cy="138.8" r="2.9" fill="#daebea" fill-opacity="0.8"/>
<circle cx="462.9" cy="50.8" r="2.9" fill="#daebea" fill-opacity="0.8"/>
<circle cx="468.1" cy="55.0" r="2.9" fill="#daebea" fill-opacity="0.8"/>
<circle cx="355.2" cy="141.3" r="2.9" fill="#daebea" fill-opacity="0.8"/>
<circle cx="348.9" cy="139.7" r="2.9" fill="#daebea" fill-opacity="0.8"/>
<circle cx="471.5" cy="66.7" r="2.9" fill="#daebea" fill-opacity="0.8"/>
<circle cx="463.1" cy="100.2" r="2.9" fill="#d9ebea" fill-opacity="0.8"/>
<circle cx="396.7" cy="137.4" r="2.9" fill="#d9ebea" fill-opacity="0.8"/>
<circle cx="449.6" cy="50.4" r="2.9" fill="#d9ebea" fill-opacity="0.8"/>
<circle cx="445.8" cy="51.3" r="2.9" fill="#d9ebe9" fill-opacity="0.8"/>
<circle cx="418.0" cy="135.8" r="2.9" fill="#d9ebe9" fill-opacity="0.8"/>
<circle cx="467.9" cy="57.0" r="2.9" fill="#d9eae9" fill-opacity="0.8"/>
<circle cx="359.2" cy="139.9" r="2.9" fill="#d8eae9" fill-opacity="0.8"/>
<circle cx="431.7" cy="134.1" r="2.9" fill="#d8eae9" fill-opacity="0.8"/>
<circle cx="463.0" cy="52.7" r="2.9" fill="#d8eae9" fill-opacity="0.8"/>
<circle cx="365.6" cy="94.8" r="2.9" fill="#d8eae9" fill-opacity="0.8"/>
<circle cx="352.1" cy="99.8" r="2.9" fill="#d8eae9" fill-opacity="0.8"/>
<circle cx="346.7" cy="103.6" r="2.9" fill="#d7eae9" fill-opacity="0.8"/>
<circle cx="409.6" cy="82.4" r="2.9" fill="#d7eae9" fill-opacity="0.8"/>
<circle cx="462.6" cy="53.2" r="2.9" fill="#d7eae9" fill-opacity="0.8"/>
<circle cx="449.3" cy="51.7" r="2.9" fill="#d7eae9" fill-opacity="0.8"/>
<circle cx="470.6" cy="75.8" r="2.9" fill="#d7eae9" fill-opacity="0.8"/>
<circle cx="392.3" cy="91.3" r="2.9" fill="#d7eae8" fill-opacity="0.8"/>
<circle cx="406.8" cy="85.5" r="2.9" fill="#d7e9e8" fill-opacity="0.8"/>
<circle cx="393.8" cy="91.2" r="2.9" fill="#d7e9e8" fill-opacity="0.8"/>
<circle cx="443.5" cy="53.1" r="2.9" fill="#d7e9e8" fill-opacity="0.8"/>
<circle cx="379.5" cy="93.6" r="2.9" fill="#d6e9e8" fill-opacity="0.8"/>
<circle cx="451.5" cy="51.9" r="2.9" fill="#d6e9e8" fill-opacity="0.8"/>
<circle cx="370.8" cy="136.4" r="2.9" fill="#d6e9e8" fill-opacity="0.8"/>
<circle cx="375.9" cy="136.3" r="2.9" fill="#d6e9e8" fill-opacity="0.8"/>
<circle cx="391.3" cy="137.2" r="2.9" fill="#d6e9e8" fill-opacity="0.8"/>
<circle cx="352.6" cy="139.5" r="2.9" fill="#d6e9e8" fill-opacity="0.8"/>
<circle cx="448.3" cy="52.3" r="2.9" fill="#d6e9e8" fill-opacity="0.8"/>
<circle cx="415.4" cy="135.0" r="2.9" fill="#d6e9e8" fill-opacity="0.8"/>
<circle cx="396.0" cy="136.2" r="2.9" fill="#d6e9e8" fill-opacity="0.8"/>
<circle cx="437.1" cy="55.5" r="2.9" fill="#d6e9e8" fill-opacity="0.8"/>
<circle cx="435.4" cy="56.4" r="2.9" fill="#d6e9e8" fill-opacity="0.8"/>
<circle cx="392.6" cy="91.6" r="2.9" fill="#d6e9e8" fill-opacity="0.8"/>
<circle cx="436.7" cy="55.8" r="2.9" fill="#d6e9e8" fill-opacity="0.8"/>
<circle cx="383.8" cy="136.9" r="2.9" fill="#d6e9e8" fill-opacity="0.8"/>
<circle cx="425.6" cy="134.2" r="2.9" fill="#d6e9e8" fill-opacity="0.8"/>
<circle cx="403.4" cy="134.5" r="2.9" fill="#d5e9e8" fill-opacity="0.8"/>
<circle cx="419.5" cy="71.8" r="2.9" fill="#d5e9e8" fill-opacity="0.8"/>
<circle cx="382.3" cy="93.6" r="2.9" fill="#d5e9e8" fill-opacity="0.8"/>
<circle cx="428.4" cy="62.5" r="2.9" fill="#d5e9e8" fill-opacity="0.8"/>
<circle cx="462.1" cy="99.9" r="2.9" fill="#d5e9e8" fill-opacity="0.8"/>
<circle cx="432.5" cy="132.9" r="2.9" fill="#d5e9e8" fill-opacity="0.8"/>
<circle cx="428.7" cy="133.6" r="2.9" fill="#d5e9e8" fill-opacity="0.8"/>
<circle cx="372.4" cy="135.9" r="2.9" fill="#d5e9e8" fill-opacity="0.8"/>
<circle cx="423.0" cy="68.3" r="2.9" fill="#d5e8e7" fill-opacity="0.8"/>
<circle cx="465.7" cy="58.4" r="2.9" fill="#d5e8e7" fill-opacity="0.8"/>
<circle cx="390.3" cy="136.7" r="2.9" fill="#d5e8e7" fill-opacity="0.8"/>
<circle cx="440.2" cy="55.0" r="2.9" fill="#d5e8e7" fill-opacity="0.8"/>
<circle cx="413.0" cy="80.2" r="2.9" fill="#d5e8e7" fill-opacity="0.8"/>
<circle cx="457.1" cy="53.2" r="2.9" fill="#d5e8e7" fill-opacity="0.8"/>
<circle cx="376.8" cy="135.7" r="2.9" fill="#d4e8e7" fill-opacity="0.8"/>
<circle cx="468.8" cy="66.7" r="2.9" fill="#d4e8e7" fill-opacity="0.8"/>
<circle cx="397.6" cy="91.8" r="2.9" fill="#d4e8e7" fill-opacity="0.8"/>
<circle cx="466.9" cy="60.9" r="2.9" fill="#d4e8e7" fill-opacity="0.8"/>
<circle cx="456.6" cy="109.4" r="2.9" fill="#d4e8e7" fill-opacity="0.8"/>
<circle cx="405.5" cy="88.2" r="2.9" fill="#d4e8e7" fill-opacity="0.8"/>
<circle cx="461.5" cy="55.2" r="2.9" fill="#d4e8e7" fill-opacity="0.8"/>
<circle cx="435.0" cy="57.5" r="2.9" fill="#d4e8e7" fill-opacity="0.8"/>
<circle cx="446.0" cy="53.9" r="2.9" fill="#d4e8e7" fill-opacity="0.8"/>
<circle cx="468.3" cy="66.8" r="2.9" fill="#d3e8e7" fill-opacity="0.8"/>
<circle cx="366.2" cy="96.1" r="2.9" fill="#d3e8e7" fill-opacity="0.8"/>
<circle cx="404.9" cy="89.2" r="2.9" fill="#d3e8e7" fill-opacity="0.8"/>
<circle cx="363.6" cy="96.8" r="2.9" fill="#d3e8e7" fill-opacity="0.8"/>
<circle cx="351.8" cy="101.4" r="2.9" fill="#d3e8e7" fill-opacity="0.8"/>
<circle cx="395.0" cy="92.4" r="2.9" fill="#d3e8e7" fill-opacity="0.8"/>
<circle cx="468.5" cy="83.6" r="2.9" fill="#d3e8e7" fill-opacity="0.8"/>
<circle cx="454.9" cy="111.8" r="2.9" fill="#d3e8e6" fill-opacity="0.8"/>
<circle cx="468.1" cy="66.9" r="2.9" fill="#d3e8e6" fill-opacity="0.8"/>
<circle cx="459.1" cy="54.8" r="2.9" fill="#d3e7e6" fill-opacity="0.8"/>
<circle cx="394.5" cy="92.6" r="2.9" fill="#d3e7e6" fill-opacity="0.8"/>
<circle cx="362.5" cy="97.4" r="2.9" fill="#d3e7e6" fill-opacity="0.8"/>
<circle cx="349.4" cy="103.0" r="2.9" fill="#d2e7e6" fill-opacity="0.8"/>
<circle cx="404.7" cy="89.9" r="2.9" fill="#d2e7e6" fill-opacity="0.8"/>
<circle cx="463.1" cy="57.6" r="2.9" fill="#d2e7e6" fill-opacity="0.8"/>
<circle cx="406.2" cy="133.2" r="2.9" fill="#d2e7e6" fill-opacity="0.8"/>
<circle cx="371.6" cy="95.5" r="2.9" fill="#d2e7e6" fill-opacity="0.8"/>
<circle cx="374.7" cy="95.3" r="2.9" fill="#d2e7e6" fill-opacity="0.8"/>
<circle cx="407.9" cy="86.9" r="2.9" fill="#d2e7e6" fill-opacity="0.8"/>
<circle cx="398.1" cy="92.7" r="2.9" fill="#d2e7e6" fill-opacity="0.8"/>
<circle cx="410.1" cy="84.5" r="2.9" fill="#d2e7e6" fill-opacity="0.8"/>
<circle cx="369.4" cy="95.9" r="2.9" fill="#d2e7e6" fill-opacity="0.8"/>
<circle cx="377.4" cy="134.8" r="2.9" fill="#d2e7e6" fill-opacity="0.8"/>
<circle cx="429.0" cy="63.4" r="2.9" fill="#d2e7e6" fill-opacity="0.8"/>
<circle cx="412.9" cy="133.5" r="2.9" fill="#d1e7e6" fill-opacity="0.8"/>
<circle cx="405.0" cy="132.8" r="2.9" fill="#d1e7e6" fill-opacity="0.8"/>
<circle cx="468.4" cy="81.3" r="2.9" fill="#d1e7e6" fill-opacity="0.8"/>
<circle cx="391.5" cy="93.5" r="2.9" fill="#d1e7e5" fill-opacity="0.8"/>
<circle cx="346.9" cy="134.0" r="2.9" fill="#d1e7e5" fill-opacity="0.8"/>
<circle cx="410.2" cy="133.2" r="2.9" fill="#d1e7e5" fill-opacity="0.8"/>
<circle cx="441.9" cy="127.0" r="2.9" fill="#d1e6e5" fill-opacity="0.8"/>
<circle cx="410.9" cy="84.1" r="2.9" fill="#d1e6e5" fill-opacity="0.8"/>
<circle cx="467.4" cy="68.3" r="2.9" fill="#d1e6e5" fill-opacity="0.8"/>
<circle cx="434.4" cy="59.3" r="2.9" fill="#d0e6e5" fill-opacity="0.8"/>
<circle cx="390.7" cy="135.3" r="2.9" fill="#d0e6e5" fill-opacity="0.8"/>
<circle cx="347.9" cy="134.6" r="2.9" fill="#d0e6e5" fill-opacity="0.8"/>
<circle cx="440.9" cy="127.5" r="2.9" fill="#d0e6e5" fill-opacity="0.8"/>
<circle cx="375.1" cy="95.9" r="2.9" fill="#d0e6e5" fill-opacity="0.8"/>
<circle cx="468.0" cy="76.6" r="2.9" fill="#cfe6e5" fill-opacity="0.8"/>
<circle cx="383.6" cy="134.9" r="2.9" fill="#cfe6e5" fill-opacity="0.8"/>
<circle cx="461.1" cy="58.0" r="2.9" fill="#cfe6e5" fill-opacity="0.8"/>
<circle cx="454.4" cy="111.1" r="2.9" fill="#cfe6e5" fill-opacity="0.8"/>
<circle cx="468.0" cy="78.0" r="2.9" fill="#cfe6e5" fill-opacity="0.8"/>
<circle cx="373.9" cy="96.2" r="2.9" fill="#cfe6e4" fill-opacity="0.8"/>
<circle cx="405.0" cy="132.1" r="2.9" fill="#cfe6e4" fill-opacity="0.8"/>
<circle cx="463.9" cy="61.3" r="2.9" fill="#cfe5e4" fill-opacity="0.8"/>
<circle cx="465.3" cy="64.0" r="2.9" fill="#cfe5e4" fill-opacity="0.8"/>
<circle cx="384.1" cy="134.7" r="2.9" fill="#cee5e4" fill-opacity="0.8"/>
<circle cx="465.7" cy="65.4" r="2.9" fill="#cee5e4" fill-opacity="0.8"/>
<circle cx="405.3" cy="91.3" r="2.9" fill="#cee5e4" fill-opacity="0.8"/>
<circle cx="451.7" cy="115.1" r="2.9" fill="#cee5e4" fill-opacity="0.8"/>
<circle cx="406.2" cy="132.0" r="2.9" fill="#cee5e4" fill-opacity="0.8"/>
<circle cx="359.3" cy="99.7" r="2.9" fill="#cee5e4" fill-opacity="0.8"/>
<circle cx="467.6" cy="79.6" r="2.9" fill="#cee5e4" fill-opacity="0.8"/>
<circle cx="427.4" cy="131.9" r="2.9" fill="#cee5e4" fill-opacity="0.8"/>
<circle cx="456.4" cy="56.7" r="2.9" fill="#cee5e4" fill-opacity="0.8"/>
<circle cx="465.8" cy="67.2" r="2.9" fill="#cee5e4" fill-opacity="0.8"/>
<circle cx="381.6" cy="134.1" r="2.9" fill="#cde5e4" fill-opacity="0.8"/>
<circle cx="460.7" cy="58.9" r="2.9" fill="#cde5e4" fill-opacity="0.8"/>
<circle cx="387.5" cy="134.5" r="2.9" fill="#cde5e4" fill-opacity="0.8"/>
<circle cx="397.5" cy="94.4" r="2.9" fill="#cde5e3" fill-opacity="0.8"/>
<circle cx="462.7" cy="61.4" r="2.9" fill="#cde4e3" fill-opacity="0.8"/>
<circle cx="368.6" cy="97.4" r="2.9" fill="#cde4e3" fill-opacity="0.8"/>
<circle cx="367.2" cy="97.7" r="2.9" fill="#cde4e3" fill-opacity="0.8"/>
<circle cx="449.8" cy="56.6" r="2.9" fill="#cce4e3" fill-opacity="0.8"/>
<circle cx="457.0" cy="57.5" r="2.9" fill="#cce4e3" fill-opacity="0.8"/>
<circle cx="436.9" cy="128.8" r="2.9" fill="#cce4e3" fill-opacity="0.8"/>
<circle cx="384.9" cy="95.9" r="2.9" fill="#cce4e3" fill-opacity="0.8"/>
<circle cx="443.3" cy="124.5" r="2.9" fill="#cce4e3" fill-opacity="0.8"/>
<circle cx="445.5" cy="122.3" r="2.9" fill="#cce4e3" fill-opacity="0.8"/>
<circle cx="452.1" cy="56.7" r="2.9" fill="#cce4e3" fill-opacity="0.8"/>
<circle cx="392.5" cy="94.9" r="2.9" fill="#cce4e3" fill-opacity="0.8"/>
<circle cx="464.3" cy="64.9" r="2.9" fill="#cce4e3" fill-opacity="0.8"/>
<circle cx="399.0" cy="131.8" r="2.9" fill="#cce4e3" fill-opacity="0.8"/>
<circle cx="413.6" cy="83.0" r="2.9" fill="#cce4e3" fill-opacity="0.8"/>
<circle cx="433.7" cy="61.4" r="2.9" fill="#cce4e3" fill-opacity="0.8"/>
<circle cx="462.7" cy="62.3" r="2.9" fill="#cce4e3" fill-opacity="0.8"/>
<circle cx="444.8" cy="57.4" r="2.9" fill="#cce4e3" fill-opacity="0.8"/>
<circle cx="420.8" cy="74.1" r="2.9" fill="#cce4e3" fill-opacity="0.8"/>
<circle cx="346.9" cy="131.8" r="2.9" fill="#cbe4e3" fill-opacity="0.8"/>
<circle cx="464.8" cy="66.9" r="2.9" fill="#cbe4e3" fill-opacity="0.8"/>
<circle cx="458.9" cy="101.5" r="2.9" fill="#cbe4e3" fill-opacity="0.8"/>
<circle cx="391.8" cy="95.2" r="2.9" fill="#cbe4e2" fill-opacity="0.8"/>
<circle cx="357.0" cy="136.0" r="2.9" fill="#cbe4e2" fill-opacity="0.8"/>
<circle cx="462.7" cy="62.7" r="2.9" fill="#cbe4e2" fill-opacity="0.8"/>
<circle cx="366.2" cy="133.6" r="2.9" fill="#cbe4e2" fill-opacity="0.8"/>
<circle cx="459.5" cy="59.6" r="2.9" fill="#cbe4e2" fill-opacity="0.8"/>
<circle cx="347.7" cy="132.6" r="2.9" fill="#cbe3e2" fill-opacity="0.8"/>
<circle cx="383.8" cy="96.5" r="2.9" fill="#cbe3e2" fill-opacity="0.8"/>
<circle cx="439.1" cy="127.2" r="2.9" fill="#cbe3e2" fill-opacity="0.8"/>
<circle cx="370.7" cy="132.8" r="2.9" fill="#cbe3e2" fill-opacity="0.8"/>
<circle cx="356.3" cy="101.7" r="2.9" fill="#cae3e2" fill-opacity="0.8"/>
<circle cx="354.4" cy="135.9" r="2.9" fill="#cae3e2" fill-opacity="0.8"/>
<circle cx="444.1" cy="58.0" r="2.9" fill="#cae3e2" fill-opacity="0.8"/>
<circle cx="464.8" cy="68.3" r="2.9" fill="#cae3e2" fill-opacity="0.8"/>
<circle cx="354.2" cy="135.8" r="2.9" fill="#cae3e2" fill-opacity="0.8"/>
<circle cx="346.7" cy="131.1" r="2.9" fill="#cae3e2" fill-opacity="0.8"/>
<circle cx="410.2" cy="87.8" r="2.9" fill="#cae3e2" fill-opacity="0.8"/>
<circle cx="451.8" cy="57.6" r="2.9" fill="#cae3e2" fill-opacity="0.8"/>
<circle cx="348.5" cy="133.0" r="2.9" fill="#cae3e2" fill-opacity="0.8"/>
<circle cx="449.5" cy="57.7" r="2.9" fill="#cae3e2" fill-opacity="0.8"/>
<circle cx="364.9" cy="133.5" r="2.9" fill="#c9e3e2" fill-opacity="0.8"/>
<circle cx="466.2" cy="81.3" r="2.9" fill="#c9e3e1" fill-opacity="0.8"/>
<circle cx="432.3" cy="63.4" r="2.9" fill="#c9e3e1" fill-opacity="0.8"/>
<circle cx="391.9" cy="95.8" r="2.9" fill="#c9e3e1" fill-opacity="0.8"/>
<circle cx="464.7" cy="88.2" r="2.9" fill="#c9e3e1" fill-opacity="0.8"/>
<circle cx="357.2" cy="135.4" r="2.9" fill="#c9e2e1" fill-opacity="0.8"/>
<circle cx="410.3" cy="88.1" r="2.9" fill="#c9e2e1" fill-opacity="0.8"/>
<circle cx="365.9" cy="133.1" r="2.9" fill="#c9e2e1" fill-opacity="0.8"/>
<circle cx="436.9" cy="60.6" r="2.9" fill="#c8e2e1" fill-opacity="0.8"/>
<circle cx="360.6" cy="134.5" r="2.9" fill="#c8e2e1" fill-opacity="0.8"/>
<circle cx="352.5" cy="135.0" r="2.9" fill="#c8e2e1" fill-opacity="0.8"/>
<circle cx="352.2" cy="134.9" r="2.9" fill="#c8e2e1" fill-opacity="0.8"/>
<circle cx="354.8" cy="102.7" r="2.9" fill="#c8e2e1" fill-opacity="0.8"/>
<circle cx="405.7" cy="130.1" r="2.9" fill="#c8e2e1" fill-opacity="0.8"/>
<circle cx="412.1" cy="86.1" r="2.9" fill="#c8e2e1" fill-opacity="0.8"/>
<circle cx="465.2" cy="72.9" r="2.9" fill="#c8e2e1" fill-opacity="0.8"/>
<circle cx="417.3" cy="79.8" r="2.9" fill="#c8e2e1" fill-opacity="0.8"/>
<circle cx="432.0" cy="129.6" r="2.9" fill="#c8e2e1" fill-opacity="0.8"/>
<circle cx="359.6" cy="134.6" r="2.9" fill="#c8e2e1" fill-opacity="0.8"/>
<circle cx="383.6" cy="97.3" r="2.9" fill="#c8e2e1" fill-opacity="0.8"/>
<circle cx="438.2" cy="127.0" r="2.9" fill="#c8e2e1" fill-opacity="0.8"/>
<circle cx="369.3" cy="132.2" r="2.9" fill="#c8e2e1" fill-opacity="0.8"/>
<circle cx="348.7" cy="106.8" r="2.9" fill="#c7e2e0" fill-opacity="0.8"/>
<circle cx="375.2" cy="131.8" r="2.9" fill="#c7e2e0" fill-opacity="0.8"/>
<circle cx="458.3" cy="60.9" r="2.9" fill="#c7e2e0" fill-opacity="0.8"/>
<circle cx="440.9" cy="59.8" r="2.9" fill="#c7e1e0" fill-opacity="0.8"/>
<circle cx="436.0" cy="61.6" r="2.9" fill="#c7e1e0" fill-opacity="0.8"/>
<circle cx="351.6" cy="104.6" r="2.9" fill="#c7e1e0" fill-opacity="0.8"/>
<circle cx="364.9" cy="132.8" r="2.9" fill="#c7e1e0" fill-opacity="0.8"/>
<circle cx="465.5" cy="82.2" r="2.9" fill="#c6e1e0" fill-opacity="0.8"/>
<circle cx="419.6" cy="131.2" r="2.9" fill="#c6e1e0" fill-opacity="0.8"/>
<circle cx="442.1" cy="123.9" r="2.9" fill="#c6e1e0" fill-opacity="0.8"/>
<circle cx="404.4" cy="129.4" r="2.9" fill="#c6e1e0" fill-opacity="0.8"/>
<circle cx="465.4" cy="82.5" r="2.9" fill="#c6e1e0" fill-opacity="0.8"/>
<circle cx="440.0" cy="125.6" r="2.9" fill="#c6e1e0" fill-opacity="0.8"/>
<circle cx="358.9" cy="134.4" r="2.9" fill="#c6e1e0" fill-opacity="0.8"/>
<circle cx="465.5" cy="79.5" r="2.9" fill="#c6e1e0" fill-opacity="0.8"/>
<circle cx="441.2" cy="124.6" r="2.9" fill="#c6e1e0" fill-opacity="0.8"/>
<circle cx="389.9" cy="132.3" r="2.9" fill="#c6e1e0" fill-opacity="0.8"/>
<circle cx="450.9" cy="59.1" r="2.9" fill="#c6e1e0" fill-opacity="0.8"/>
<circle cx="456.1" cy="60.3" r="2.9" fill="#c6e1e0" fill-opacity="0.8"/>
<circle cx="367.7" cy="131.9" r="2.9" fill="#c6e1e0" fill-opacity="0.8"/>
<circle cx="353.5" cy="134.5" r="2.9" fill="#c5e1e0" fill-opacity="0.8"/>
<circle cx="452.9" cy="110.1" r="2.9" fill="#c5e1e0" fill-opacity="0.8"/>
<circle cx="348.5" cy="107.6" r="2.9" fill="#c5e1df" fill-opacity="0.8"/>
<circle cx="457.1" cy="102.5" r="2.9" fill="#c5e0df" fill-opacity="0.8"/>
<circle cx="464.8" cy="76.0" r="2.9" fill="#c5e0df" fill-opacity="0.8"/>
<circle cx="394.1" cy="96.8" r="2.9" fill="#c5e0df" fill-opacity="0.8"/>
<circle cx="428.1" cy="68.6" r="2.9" fill="#c4e0df" fill-opacity="0.8"/>
<circle cx="421.0" cy="76.2" r="2.9" fill="#c4e0df" fill-opacity="0.8"/>
<circle cx="403.2" cy="96.7" r="2.9" fill="#c4e0df" fill-opacity="0.8"/>
<circle cx="406.1" cy="95.0" r="2.9" fill="#c4e0df" fill-opacity="0.8"/>
<circle cx="415.7" cy="130.7" r="2.9" fill="#c4e0df" fill-opacity="0.8"/>
<circle cx="464.9" cy="78.1" r="2.9" fill="#c4e0df" fill-opacity="0.8"/>
<circle cx="422.7" cy="130.6" r="2.9" fill="#c4e0df" fill-opacity="0.8"/>
<circle cx="463.2" cy="70.2" r="2.9" fill="#c4e0df" fill-opacity="0.8"/>
<circle cx="424.4" cy="72.3" r="2.9" fill="#c4e0df" fill-opacity="0.8"/>
<circle cx="426.6" cy="70.0" r="2.9" fill="#c4e0df" fill-opacity="0.8"/>
<circle cx="464.6" cy="84.4" r="2.9" fill="#c4e0df" fill-opacity="0.8"/>
<circle cx="464.2" cy="86.3" r="2.9" fill="#c4e0df" fill-opacity="0.8"/>
<circle cx="393.1" cy="131.2" r="2.9" fill="#c4e0df" fill-opacity="0.8"/>
<circle cx="353.5" cy="134.1" r="2.9" fill="#c4e0df" fill-opacity="0.8"/>
<circle cx="374.4" cy="130.9" r="2.9" fill="#c3e0df" fill-opacity="0.8"/>
<circle cx="434.7" cy="63.3" r="2.9" fill="#c3e0de" fill-opacity="0.8"/>
<circle cx="464.6" cy="77.7" r="2.9" fill="#c3e0de" fill-opacity="0.8"/>
<circle cx="437.7" cy="61.8" r="2.9" fill="#c3e0de" fill-opacity="0.8"/>
<circle cx="353.9" cy="133.9" r="2.9" fill="#c3dfde" fill-opacity="0.8"/>
<circle cx="372.9" cy="99.1" r="2.9" fill="#c3dfde" fill-opacity="0.8"/>
<circle cx="445.3" cy="60.2" r="2.9" fill="#c3dfde" fill-opacity="0.8"/>
<circle cx="382.4" cy="98.6" r="2.9" fill="#c3dfde" fill-opacity="0.8"/>
<circle cx="391.1" cy="131.4" r="2.9" fill="#c3dfde" fill-opacity="0.8"/>
<circle cx="433.1" cy="128.2" r="2.9" fill="#c3dfde" fill-opacity="0.8"/>
<circle cx="451.1" cy="60.2" r="2.9" fill="#c3dfde" fill-opacity="0.8"/>
<circle cx="413.3" cy="86.7" r="2.9" fill="#c3dfde" fill-opacity="0.8"/>
<circle cx="437.1" cy="62.3" r="2.9" fill="#c3dfde" fill-opacity="0.8"/>
<circle cx="375.2" cy="130.7" r="2.9" fill="#c3dfde" fill-opacity="0.8"/>
<circle cx="350.9" cy="106.1" r="2.9" fill="#c2dfde" fill-opacity="0.8"/>
<circle cx="427.9" cy="69.3" r="2.9" fill="#c2dfde" fill-opacity="0.8"/>
<circle cx="406.5" cy="95.3" r="2.9" fill="#c2dfde" fill-opacity="0.8"/>
<circle cx="351.1" cy="106.0" r="2.9" fill="#c2dfde" fill-opacity="0.8"/>
<circle cx="439.9" cy="124.6" r="2.9" fill="#c2dfde" fill-opacity="0.8"/>
<circle cx="436.7" cy="62.6" r="2.9" fill="#c2dfde" fill-opacity="0.8"/>
<circle cx="430.5" cy="67.0" r="2.9" fill="#c2dfde" fill-opacity="0.8"/>
<circle cx="456.6" cy="102.5" r="2.9" fill="#c2dfde" fill-opacity="0.8"/>
<circle cx="435.9" cy="126.8" r="2.9" fill="#c2dfde" fill-opacity="0.8"/>
<circle cx="458.1" cy="99.8" r="2.9" fill="#c2dfde" fill-opacity="0.8"/>
<circle cx="387.5" cy="131.4" r="2.9" fill="#c2dfde" fill-opacity="0.8"/>
<circle cx="447.8" cy="116.7" r="2.9" fill="#c2dfde" fill-opacity="0.8"/>
<circle cx="403.4" cy="128.1" r="2.9" fill="#c2dfde" fill-opacity="0.8"/>
<circle cx="409.5" cy="92.1" r="2.9" fill="#c1dfde" fill-opacity="0.8"/>
<circle cx="410.5" cy="129.3" r="2.9" fill="#c1dfdd" fill-opacity="0.8"/>
<circle cx="393.8" cy="130.3" r="2.9" fill="#c1dfdd" fill-opacity="0.8"/>
<circle cx="346.7" cy="127.6" r="2.9" fill="#c1dfdd" fill-opacity="0.8"/>
<circle cx="389.4" cy="131.2" r="2.9" fill="#c1dfdd" fill-opacity="0.8"/>
<circle cx="380.7" cy="99.2" r="2.9" fill="#c1dfdd" fill-opacity="0.8"/>
<circle cx="382.7" cy="99.0" r="2.9" fill="#c1dfdd" fill-opacity="0.8"/>
<circle cx="462.0" cy="69.9" r="2.9" fill="#c1dedd" fill-opacity="0.8"/>
<circle cx="420.3" cy="130.2" r="2.9" fill="#c1dedd" fill-opacity="0.8"/>
<circle cx="463.8" cy="76.1" r="2.9" fill="#c1dedd" fill-opacity="0.8"/>
<circle cx="454.4" cy="61.6" r="2.9" fill="#c1dedd" fill-opacity="0.8"/>
<circle cx="427.3" cy="70.2" r="2.9" fill="#c1dedd" fill-opacity="0.8"/>
<circle cx="441.1" cy="123.4" r="2.9" fill="#c1dedd" fill-opacity="0.8"/>
<circle cx="347.7" cy="110.0" r="2.9" fill="#c1dedd" fill-opacity="0.8"/>
<circle cx="459.1" cy="65.2" r="2.9" fill="#c1dedd" fill-opacity="0.8"/>
<circle cx="348.5" cy="130.2" r="2.9" fill="#c0dedd" fill-opacity="0.8"/>
<circle cx="456.1" cy="62.7" r="2.9" fill="#c0dedd" fill-opacity="0.8"/>
<circle cx="407.6" cy="128.4" r="2.9" fill="#c0dedd" fill-opacity="0.8"/>
<circle cx="422.5" cy="75.6" r="2.9" fill="#c0dedd" fill-opacity="0.8"/>
<circle cx="463.8" cy="84.3" r="2.9" fill="#c0dedd" fill-opacity="0.8"/>
<circle cx="377.0" cy="99.6" r="2.9" fill="#c0dedd" fill-opacity="0.8"/>
<circle cx="384.5" cy="99.0" r="2.9" fill="#c0dedd" fill-opacity="0.8"/>
<circle cx="446.9" cy="61.0" r="2.9" fill="#c0dedd" fill-opacity="0.8"/>
<circle cx="362.7" cy="131.8" r="2.9" fill="#c0dedd" fill-opacity="0.8"/>
<circle cx="408.2" cy="128.4" r="2.9" fill="#c0dedd" fill-opacity="0.8"/>
<circle cx="378.5" cy="99.6" r="2.9" fill="#c0dedd" fill-opacity="0.8"/>
<circle cx="440.5" cy="123.7" r="2.9" fill="#c0dedd" fill-opacity="0.8"/>
<circle cx="453.0" cy="108.1" r="2.9" fill="#c0dedd" fill-opacity="0.8"/>
<circle cx="457.3" cy="63.9" r="2.9" fill="#c0dedd" fill-opacity="0.8"/>
<circle cx="428.8" cy="128.8" r="2.9" fill="#bfdedc" fill-opacity="0.8"/>
<circle cx="410.8" cy="91.2" r="2.9" fill="#bfdedc" fill-opacity="0.8"/>
<circle cx="422.0" cy="76.5" r="2.9" fill="#bfdddc" fill-opacity="0.8"/>
<circle cx="461.5" cy="70.4" r="2.9" fill="#bfdddc" fill-opacity="0.8"/>
<circle cx="378.2" cy="99.9" r="2.9" fill="#bfdddc" fill-opacity="0.8"/>
<circle cx="463.6" cy="78.7" r="2.9" fill="#bfdddc" fill-opacity="0.8"/>
<circle cx="394.0" cy="129.6" r="2.9" fill="#bfdddc" fill-opacity="0.8"/>
<circle cx="378.8" cy="130.0" r="2.9" fill="#bfdddc" fill-opacity="0.8"/>
<circle cx="393.7" cy="98.3" r="2.9" fill="#bedddc" fill-opacity="0.8"/>
<circle cx="446.0" cy="118.1" r="2.9" fill="#bedddc" fill-opacity="0.8"/>
<circle cx="384.8" cy="99.4" r="2.9" fill="#bedddc" fill-opacity="0.8"/>
<circle cx="463.3" cy="85.0" r="2.9" fill="#bedddc" fill-opacity="0.8"/>
<circle cx="384.7" cy="130.4" r="2.9" fill="#bedddc" fill-opacity="0.8"/>
<circle cx="463.2" cy="85.2" r="2.9" fill="#bedddc" fill-opacity="0.8"/>
<circle cx="393.6" cy="98.5" r="2.9" fill="#bedddc" fill-opacity="0.8"/>
<circle cx="379.4" cy="100.1" r="2.9" fill="#bedddc" fill-opacity="0.8"/>
<circle cx="460.7" cy="69.7" r="2.9" fill="#bedddc" fill-opacity="0.8"/>
<circle cx="385.5" cy="130.3" r="2.9" fill="#bddddb" fill-opacity="0.8"/>
<circle cx="347.0" cy="112.6" r="2.9" fill="#bddddb" fill-opacity="0.8"/>
<circle cx="438.6" cy="63.1" r="2.9" fill="#bddddb" fill-opacity="0.8"/>
<circle cx="351.6" cy="131.8" r="2.9" fill="#bddddb" fill-opacity="0.8"/>
<circle cx="393.6" cy="129.3" r="2.9" fill="#bddddb" fill-opacity="0.8"/>
<circle cx="404.5" cy="98.4" r="2.9" fill="#bddddb" fill-opacity="0.8"/>
<circle cx="405.9" cy="97.7" r="2.9" fill="#bddcdb" fill-opacity="0.8"/>
<circle cx="432.8" cy="66.5" r="2.9" fill="#bcdcdb" fill-opacity="0.8"/>
<circle cx="457.3" cy="99.6" r="2.9" fill="#bcdcdb" fill-opacity="0.8"/>
<circle cx="461.4" cy="72.3" r="2.9" fill="#bcdcdb" fill-opacity="0.8"/>
<circle cx="362.3" cy="131.1" r="2.9" fill="#bcdcdb" fill-opacity="0.8"/>
<circle cx="463.2" cy="81.9" r="2.9" fill="#bcdcdb" fill-opacity="0.8"/>
<circle cx="453.8" cy="63.3" r="2.9" fill="#bcdcdb" fill-opacity="0.8"/>
<circle cx="443.7" cy="120.0" r="2.9" fill="#bcdcdb" fill-opacity="0.8"/>
<circle cx="426.4" cy="72.4" r="2.9" fill="#bcdcdb" fill-opacity="0.8"/>
<circle cx="452.9" cy="63.0" r="2.9" fill="#bcdcdb" fill-opacity="0.8"/>
<circle cx="432.2" cy="67.2" r="2.9" fill="#bbdcda" fill-opacity="0.8"/>
<circle cx="416.9" cy="129.2" r="2.9" fill="#bbdcda" fill-opacity="0.8"/>
<circle cx="461.6" cy="73.6" r="2.9" fill="#bbdcda" fill-opacity="0.8"/>
<circle cx="415.3" cy="129.0" r="2.9" fill="#bbdcda" fill-opacity="0.8"/>
<circle cx="390.4" cy="129.6" r="2.9" fill="#bbdcda" fill-opacity="0.8"/>
<circle cx="444.7" cy="62.5" r="2.9" fill="#bbdbda" fill-opacity="0.8"/>
<circle cx="356.2" cy="132.2" r="2.9" fill="#bbdbda" fill-opacity="0.8"/>
<circle cx="391.2" cy="129.3" r="2.9" fill="#bbdbda" fill-opacity="0.8"/>
<circle cx="369.6" cy="101.2" r="2.9" fill="#bbdbda" fill-opacity="0.8"/>
<circle cx="455.5" cy="64.7" r="2.9" fill="#bbdbda" fill-opacity="0.8"/>
<circle cx="348.2" cy="127.8" r="2.9" fill="#bbdbda" fill-opacity="0.8"/>
<circle cx="453.6" cy="63.7" r="2.9" fill="#bbdbda" fill-opacity="0.8"/>
<circle cx="346.9" cy="114.0" r="2.9" fill="#badbda" fill-opacity="0.8"/>
<circle cx="452.3" cy="63.3" r="2.9" fill="#badbda" fill-opacity="0.8"/>
<circle cx="460.0" cy="70.6" r="2.9" fill="#badbda" fill-opacity="0.8"/>
<circle cx="429.6" cy="127.6" r="2.9" fill="#badbda" fill-opacity="0.8"/>
<circle cx="351.3" cy="107.7" r="2.9" fill="#badbda" fill-opacity="0.8"/>
<circle cx="437.0" cy="64.6" r="2.9" fill="#badbda" fill-opacity="0.8"/>
<circle cx="380.6" cy="100.9" r="2.9" fill="#badbda" fill-opacity="0.8"/>
<circle cx="347.6" cy="126.6" r="2.9" fill="#badbda" fill-opacity="0.8"/>
<circle cx="349.8" cy="109.1" r="2.9" fill="#badbda" fill-opacity="0.8"/>
<circle cx="350.2" cy="108.7" r="2.9" fill="#b9dbd9" fill-opacity="0.8"/>
<circle cx="449.1" cy="63.0" r="2.9" fill="#b9dbd9" fill-opacity="0.8"/>
<circle cx="414.7" cy="87.7" r="2.9" fill="#b9dbd9" fill-opacity="0.8"/>
<circle cx="453.7" cy="104.9" r="2.9" fill="#b9dbd9" fill-opacity="0.8"/>
<circle cx="448.7" cy="113.3" r="2.9" fill="#b9dad9" fill-opacity="0.8"/>
<circle cx="432.1" cy="67.9" r="2.9" fill="#b9dad9" fill-opacity="0.8"/>
<circle cx="396.7" cy="127.2" r="2.9" fill="#b9dad9" fill-opacity="0.8"/>
<circle cx="393.0" cy="128.4" r="2.9" fill="#b9dad9" fill-opacity="0.8"/>
<circle cx="349.9" cy="109.1" r="2.9" fill="#b9dad9" fill-opacity="0.8"/>
<circle cx="365.9" cy="129.4" r="2.9" fill="#b9dad9" fill-opacity="0.8"/>
<circle cx="418.6" cy="82.7" r="2.9" fill="#b9dad9" fill-opacity="0.8"/>
<circle cx="376.4" cy="128.5" r="2.9" fill="#b9dad9" fill-opacity="0.8"/>
<circle cx="351.8" cy="130.8" r="2.9" fill="#b9dad9" fill-opacity="0.8"/>
<circle cx="460.7" cy="91.2" r="2.9" fill="#b9dad9" fill-opacity="0.8"/>
<circle cx="398.1" cy="100.1" r="2.9" fill="#b8dad9" fill-opacity="0.8"/>
<circle cx="441.9" cy="63.5" r="2.9" fill="#b8dad9" fill-opacity="0.8"/>
<circle cx="361.6" cy="103.8" r="2.9" fill="#b8dad9" fill-opacity="0.8"/>
<circle cx="376.7" cy="101.4" r="2.9" fill="#b8dad9" fill-opacity="0.8"/>
<circle cx="449.1" cy="112.5" r="2.9" fill="#b8dad9" fill-opacity="0.8"/>
<circle cx="395.3" cy="127.4" r="2.9" fill="#b8dad9" fill-opacity="0.8"/>
<circle cx="371.5" cy="128.4" r="2.9" fill="#b8dad9" fill-opacity="0.8"/>
<circle cx="358.5" cy="131.2" r="2.9" fill="#b8dad9" fill-opacity="0.8"/>
<circle cx="422.7" cy="128.5" r="2.9" fill="#b8dad9" fill-opacity="0.8"/>
<circle cx="414.1" cy="89.1" r="2.9" fill="#b8dad8" fill-opacity="0.8"/>
<circle cx="399.4" cy="100.5" r="2.9" fill="#b8dad8" fill-opacity="0.8"/>
<circle cx="411.0" cy="93.5" r="2.9" fill="#b7dad8" fill-opacity="0.8"/>
<circle cx="348.0" cy="126.5" r="2.9" fill="#b7dad8" fill-opacity="0.8"/>
<circle cx="451.7" cy="64.1" r="2.9" fill="#b7dad8" fill-opacity="0.8"/>
<circle cx="391.9" cy="128.3" r="2.9" fill="#b7dad8" fill-opacity="0.8"/>
<circle cx="407.8" cy="126.4" r="2.9" fill="#b7dad8" fill-opacity="0.8"/>
<circle cx="449.5" cy="111.6" r="2.9" fill="#b7d9d8" fill-opacity="0.8"/>
<circle cx="398.2" cy="126.3" r="2.9" fill="#b7d9d8" fill-opacity="0.8"/>
<circle cx="425.1" cy="128.2" r="2.9" fill="#b7d9d8" fill-opacity="0.8"/>
<circle cx="437.1" cy="65.3" r="2.9" fill="#b7d9d8" fill-opacity="0.8"/>
<circle cx="462.2" cy="82.7" r="2.9" fill="#b7d9d8" fill-opacity="0.8"/>
<circle cx="441.5" cy="64.0" r="2.9" fill="#b7d9d8" fill-opacity="0.8"/>
<circle cx="352.3" cy="107.6" r="2.9" fill="#b7d9d8" fill-opacity="0.8"/>
<circle cx="383.8" cy="128.6" r="2.9" fill="#b7d9d8" fill-opacity="0.8"/>
<circle cx="461.5" cy="87.4" r="2.9" fill="#b7d9d8" fill-opacity="0.8"/>
<circle cx="347.1" cy="123.8" r="2.9" fill="#b6d9d8" fill-opacity="0.8"/>
<circle cx="398.9" cy="100.7" r="2.9" fill="#b6d9d8" fill-opacity="0.8"/>
<circle cx="354.4" cy="106.5" r="2.9" fill="#b6d9d8" fill-opacity="0.8"/>
<circle cx="376.9" cy="101.8" r="2.9" fill="#b6d9d8" fill-opacity="0.8"/>
<circle cx="346.6" cy="119.5" r="2.9" fill="#b6d9d8" fill-opacity="0.8"/>
<circle cx="365.7" cy="102.9" r="2.9" fill="#b6d9d8" fill-opacity="0.8"/>
<circle cx="461.4" cy="87.5" r="2.9" fill="#b6d9d8" fill-opacity="0.8"/>
<circle cx="347.6" cy="124.9" r="2.9" fill="#b6d9d8" fill-opacity="0.8"/>
<circle cx="441.6" cy="64.2" r="2.9" fill="#b6d9d8" fill-opacity="0.8"/>
<circle cx="385.2" cy="128.5" r="2.9" fill="#b6d9d8" fill-opacity="0.8"/>
<circle cx="351.3" cy="129.8" r="2.9" fill="#b6d9d8" fill-opacity="0.8"/>
<circle cx="400.7" cy="125.3" r="2.9" fill="#b6d9d8" fill-opacity="0.8"/>
<circle cx="346.9" cy="117.0" r="2.9" fill="#b6d9d8" fill-opacity="0.8"/>
<circle cx="436.9" cy="65.7" r="2.9" fill="#b6d9d7" fill-opacity="0.8"/>
<circle cx="346.8" cy="121.0" r="2.9" fill="#b6d9d7" fill-opacity="0.8"/>
<circle cx="425.7" cy="74.6" r="2.9" fill="#b5d9d7" fill-opacity="0.8"/>
<circle cx="404.1" cy="125.1" r="2.9" fill="#b5d9d7" fill-opacity="0.8"/>
<circle cx="349.0" cy="127.4" r="2.9" fill="#b5d9d7" fill-opacity="0.8"/>
<circle cx="424.1" cy="128.0" r="2.9" fill="#b5d9d7" fill-opacity="0.8"/>
<circle cx="461.6" cy="79.7" r="2.9" fill="#b5d9d7" fill-opacity="0.8"/>
<circle cx="389.3" cy="100.7" r="2.9" fill="#b5d8d7" fill-opacity="0.8"/>
<circle cx="388.1" cy="128.3" r="2.9" fill="#b5d8d7" fill-opacity="0.8"/>
<circle cx="416.2" cy="87.1" r="2.9" fill="#b5d8d7" fill-opacity="0.8"/>
<circle cx="384.1" cy="128.1" r="2.9" fill="#b5d8d7" fill-opacity="0.8"/>
<circle cx="382.6" cy="128.0" r="2.9" fill="#b5d8d7" fill-opacity="0.8"/>
<circle cx="413.2" cy="127.5" r="2.9" fill="#b4d8d7" fill-opacity="0.8"/>
<circle cx="377.7" cy="127.6" r="2.9" fill="#b4d8d7" fill-opacity="0.8"/>
<circle cx="395.2" cy="126.6" r="2.9" fill="#b4d8d7" fill-opacity="0.8"/>
<circle cx="442.1" cy="120.0" r="2.9" fill="#b4d8d7" fill-opacity="0.8"/>
<circle cx="451.4" cy="107.7" r="2.9" fill="#b4d8d7" fill-opacity="0.8"/>
<circle cx="450.4" cy="64.8" r="2.9" fill="#b4d8d7" fill-opacity="0.8"/>
<circle cx="363.9" cy="103.8" r="2.9" fill="#b4d8d7" fill-opacity="0.8"/>
<circle cx="425.2" cy="127.7" r="2.9" fill="#b4d8d7" fill-opacity="0.8"/>
<circle cx="363.5" cy="129.1" r="2.9" fill="#b4d8d7" fill-opacity="0.8"/>
<circle cx="371.3" cy="102.3" r="2.9" fill="#b4d8d7" fill-opacity="0.8"/>
<circle cx="392.5" cy="100.6" r="2.9" fill="#b4d8d7" fill-opacity="0.8"/>
<circle cx="457.4" cy="69.7" r="2.9" fill="#b4d8d7" fill-opacity="0.8"/>
<circle cx="383.4" cy="102.0" r="2.9" fill="#b4d8d7" fill-opacity="0.8"/>
<circle cx="420.7" cy="81.2" r="2.9" fill="#b4d8d7" fill-opacity="0.8"/>
<circle cx="452.0" cy="65.4" r="2.9" fill="#b4d8d7" fill-opacity="0.8"/>
<circle cx="449.9" cy="64.8" r="2.9" fill="#b4d8d7" fill-opacity="0.8"/>
<circle cx="417.8" cy="128.0" r="2.9" fill="#b4d8d6" fill-opacity="0.8"/>
<circle cx="383.9" cy="102.0" r="2.9" fill="#b4d8d6" fill-opacity="0.8"/>
<circle cx="461.0" cy="87.4" r="2.9" fill="#b4d8d6" fill-opacity="0.8"/>
<circle cx="423.6" cy="77.4" r="2.9" fill="#b4d8d6" fill-opacity="0.8"/>
<circle cx="420.3" cy="81.9" r="2.9" fill="#b3d8d6" fill-opacity="0.8"/>
<circle cx="413.0" cy="127.2" r="2.9" fill="#b3d8d6" fill-opacity="0.8"/>
<circle cx="441.1" cy="120.7" r="2.9" fill="#b3d8d6" fill-opacity="0.8"/>
<circle cx="456.1" cy="68.5" r="2.9" fill="#b3d8d6" fill-opacity="0.8"/>
<circle cx="402.3" cy="101.8" r="2.9" fill="#b3d8d6" fill-opacity="0.8"/>
<circle cx="457.9" cy="70.9" r="2.9" fill="#b3d7d6" fill-opacity="0.8"/>
<circle cx="433.3" cy="125.4" r="2.9" fill="#b3d7d6" fill-opacity="0.8"/>
<circle cx="369.6" cy="102.7" r="2.9" fill="#b3d7d6" fill-opacity="0.8"/>
<circle cx="439.9" cy="65.3" r="2.9" fill="#b3d7d6" fill-opacity="0.8"/>
<circle cx="430.6" cy="70.6" r="2.9" fill="#b3d7d6" fill-opacity="0.8"/>
<circle cx="412.6" cy="92.7" r="2.9" fill="#b3d7d6" fill-opacity="0.8"/>
<circle cx="448.6" cy="111.9" r="2.9" fill="#b3d7d6" fill-opacity="0.8"/>
<circle cx="371.1" cy="102.6" r="2.9" fill="#b3d7d6" fill-opacity="0.8"/>
<circle cx="347.2" cy="117.7" r="2.9" fill="#b2d7d6" fill-opacity="0.8"/>
<circle cx="448.3" cy="65.0" r="2.9" fill="#b2d7d6" fill-opacity="0.8"/>
<circle cx="454.7" cy="67.6" r="2.9" fill="#b2d7d6" fill-opacity="0.8"/>
<circle cx="458.0" cy="71.6" r="2.9" fill="#b2d7d6" fill-opacity="0.8"/>
<circle cx="390.3" cy="127.4" r="2.9" fill="#b2d7d6" fill-opacity="0.8"/>
<circle cx="399.3" cy="101.7" r="2.9" fill="#b2d7d6" fill-opacity="0.8"/>
<circle cx="356.4" cy="106.5" r="2.9" fill="#b2d7d6" fill-opacity="0.8"/>
<circle cx="364.7" cy="128.3" r="2.9" fill="#b2d7d6" fill-opacity="0.8"/>
<circle cx="421.2" cy="80.9" r="2.9" fill="#b2d7d6" fill-opacity="0.8"/>
<circle cx="422.1" cy="79.8" r="2.9" fill="#b2d7d6" fill-opacity="0.8"/>
<circle cx="416.7" cy="87.3" r="2.9" fill="#b2d7d6" fill-opacity="0.8"/>
<circle cx="460.9" cy="79.6" r="2.9" fill="#b2d7d6" fill-opacity="0.8"/>
<circle cx="382.3" cy="127.3" r="2.9" fill="#b2d7d5" fill-opacity="0.8"/>
<circle cx="401.2" cy="102.2" r="2.9" fill="#b2d7d5" fill-opacity="0.8"/>
<circle cx="450.6" cy="65.7" r="2.9" fill="#b2d7d5" fill-opacity="0.8"/>
<circle cx="354.3" cy="107.5" r="2.9" fill="#b2d7d5" fill-opacity="0.8"/>
<circle cx="356.6" cy="130.2" r="2.9" fill="#b2d7d5" fill-opacity="0.8"/>
<circle cx="349.3" cy="126.7" r="2.9" fill="#b2d7d5" fill-opacity="0.8"/>
<circle cx="419.5" cy="83.5" r="2.9" fill="#b2d7d5" fill-opacity="0.8"/>
<circle cx="449.8" cy="65.5" r="2.9" fill="#b1d7d5" fill-opacity="0.8"/>
<circle cx="395.1" cy="101.3" r="2.9" fill="#b1d7d5" fill-opacity="0.8"/>
<circle cx="461.1" cy="82.3" r="2.9" fill="#b1d6d5" fill-opacity="0.8"/>
<circle cx="442.5" cy="118.9" r="2.9" fill="#b1d6d5" fill-opacity="0.8"/>
<circle cx="453.4" cy="103.2" r="2.9" fill="#b1d6d5" fill-opacity="0.8"/>
<circle cx="461.0" cy="82.6" r="2.9" fill="#b1d6d5" fill-opacity="0.8"/>
<circle cx="448.4" cy="65.4" r="2.9" fill="#b1d6d5" fill-opacity="0.8"/>
<circle cx="389.9" cy="101.5" r="2.9" fill="#b1d6d5" fill-opacity="0.8"/>
<circle cx="367.4" cy="127.5" r="2.9" fill="#b1d6d5" fill-opacity="0.8"/>
<circle cx="365.1" cy="104.2" r="2.9" fill="#b1d6d5" fill-opacity="0.8"/>
<circle cx="395.7" cy="125.5" r="2.9" fill="#b1d6d5" fill-opacity="0.8"/>
<circle cx="384.0" cy="127.2" r="2.9" fill="#b1d6d5" fill-opacity="0.8"/>
<circle cx="452.9" cy="67.1" r="2.9" fill="#b0d6d5" fill-opacity="0.8"/>
<circle cx="366.8" cy="103.7" r="2.9" fill="#b0d6d5" fill-opacity="0.8"/>
<circle cx="358.1" cy="106.3" r="2.9" fill="#b0d6d5" fill-opacity="0.8"/>
<circle cx="390.0" cy="101.7" r="2.9" fill="#b0d6d5" fill-opacity="0.8"/>
<circle cx="422.9" cy="79.2" r="2.9" fill="#b0d6d5" fill-opacity="0.8"/>
<circle cx="383.3" cy="102.9" r="2.9" fill="#b0d6d5" fill-opacity="0.8"/>
<circle cx="386.9" cy="102.3" r="2.9" fill="#b0d6d5" fill-opacity="0.8"/>
<circle cx="393.8" cy="125.9" r="2.9" fill="#b0d6d5" fill-opacity="0.8"/>
<circle cx="398.6" cy="124.4" r="2.9" fill="#b0d6d5" fill-opacity="0.8"/>
<circle cx="407.7" cy="100.2" r="2.9" fill="#b0d6d5" fill-opacity="0.8"/>
<circle cx="379.5" cy="103.2" r="2.9" fill="#b0d6d5" fill-opacity="0.8"/>
<circle cx="385.1" cy="102.7" r="2.9" fill="#b0d6d5" fill-opacity="0.8"/>
<circle cx="377.0" cy="103.2" r="2.9" fill="#b0d6d4" fill-opacity="0.8"/>
<circle cx="436.3" cy="123.4" r="2.9" fill="#b0d6d4" fill-opacity="0.8"/>
<circle cx="351.8" cy="109.4" r="2.9" fill="#b0d6d4" fill-opacity="0.8"/>
<circle cx="358.1" cy="129.6" r="2.9" fill="#b0d6d4" fill-opacity="0.8"/>
<circle cx="404.3" cy="123.8" r="2.9" fill="#b0d6d4" fill-opacity="0.8"/>
<circle cx="453.6" cy="67.9" r="2.9" fill="#b0d6d4" fill-opacity="0.8"/>
<circle cx="377.3" cy="126.6" r="2.9" fill="#b0d6d4" fill-opacity="0.8"/>
<circle cx="375.8" cy="126.5" r="2.9" fill="#afd6d4" fill-opacity="0.8"/>
<circle cx="452.6" cy="67.3" r="2.9" fill="#afd5d4" fill-opacity="0.8"/>
<circle cx="403.3" cy="102.8" r="2.9" fill="#afd5d4" fill-opacity="0.8"/>
<circle cx="458.3" cy="73.8" r="2.9" fill="#afd5d4" fill-opacity="0.8"/>
<circle cx="382.4" cy="103.3" r="2.9" fill="#afd5d4" fill-opacity="0.8"/>
<circle cx="348.9" cy="125.1" r="2.9" fill="#afd5d4" fill-opacity="0.8"/>
<circle cx="455.2" cy="99.7" r="2.9" fill="#afd5d4" fill-opacity="0.8"/>
<circle cx="368.0" cy="103.9" r="2.9" fill="#afd5d4" fill-opacity="0.8"/>
<circle cx="367.5" cy="104.0" r="2.9" fill="#aed5d4" fill-opacity="0.8"/>
<circle cx="450.4" cy="66.6" r="2.9" fill="#aed5d4" fill-opacity="0.8"/>
<circle cx="348.2" cy="122.9" r="2.9" fill="#aed5d4" fill-opacity="0.8"/>
<circle cx="357.4" cy="129.4" r="2.9" fill="#aed5d4" fill-opacity="0.8"/>
<circle cx="412.7" cy="93.9" r="2.9" fill="#aed5d4" fill-opacity="0.8"/>
<circle cx="456.3" cy="71.1" r="2.9" fill="#aed5d4" fill-opacity="0.8"/>
<circle cx="365.9" cy="104.4" r="2.9" fill="#aed5d4" fill-opacity="0.8"/>
<circle cx="353.9" cy="129.2" r="2.9" fill="#aed5d4" fill-opacity="0.8"/>
<circle cx="457.7" cy="73.5" r="2.9" fill="#aed5d3" fill-opacity="0.8"/>
<circle cx="438.6" cy="66.9" r="2.9" fill="#aed5d3" fill-opacity="0.8"/>
<circle cx="375.7" cy="126.2" r="2.9" fill="#aed5d3" fill-opacity="0.8"/>
<circle cx="384.7" cy="126.5" r="2.9" fill="#aed5d3" fill-opacity="0.8"/>
<circle cx="413.6" cy="126.4" r="2.9" fill="#aed5d3" fill-opacity="0.8"/>
<circle cx="359.4" cy="106.4" r="2.9" fill="#aed5d3" fill-opacity="0.8"/>
<circle cx="364.6" cy="104.9" r="2.9" fill="#add5d3" fill-opacity="0.8"/>
<circle cx="360.2" cy="106.2" r="2.9" fill="#add4d3" fill-opacity="0.8"/>
<circle cx="444.8" cy="115.7" r="2.9" fill="#add4d3" fill-opacity="0.8"/>
<circle cx="356.0" cy="107.6" r="2.9" fill="#add4d3" fill-opacity="0.8"/>
<circle cx="445.7" cy="114.8" r="2.9" fill="#add4d3" fill-opacity="0.8"/>
<circle cx="426.4" cy="75.7" r="2.9" fill="#add4d3" fill-opacity="0.8"/>
<circle cx="410.0" cy="125.1" r="2.9" fill="#add4d3" fill-opacity="0.8"/>
<circle cx="440.7" cy="66.5" r="2.9" fill="#add4d3" fill-opacity="0.8"/>
<circle cx="391.2" cy="102.3" r="2.9" fill="#add4d3" fill-opacity="0.8"/>
<circle cx="459.8" cy="79.4" r="2.9" fill="#add4d3" fill-opacity="0.8"/>
<circle cx="377.9" cy="126.0" r="2.9" fill="#add4d3" fill-opacity="0.8"/>
<circle cx="399.9" cy="103.2" r="2.9" fill="#add4d3" fill-opacity="0.8"/>
<circle cx="405.1" cy="102.9" r="2.9" fill="#add4d3" fill-opacity="0.8"/>
<circle cx="437.5" cy="122.3" r="2.9" fill="#add4d3" fill-opacity="0.8"/>
<circle cx="442.8" cy="66.3" r="2.9" fill="#add4d3" fill-opacity="0.8"/>
<circle cx="438.3" cy="67.2" r="2.9" fill="#add4d3" fill-opacity="0.8"/>
<circle cx="413.8" cy="126.3" r="2.9" fill="#add4d3" fill-opacity="0.8"/>
<circle cx="396.3" cy="102.5" r="2.9" fill="#add4d3" fill-opacity="0.8"/>
<circle cx="400.0" cy="103.3" r="2.9" fill="#add4d3" fill-opacity="0.8"/>
<circle cx="460.0" cy="86.9" r="2.9" fill="#add4d3" fill-opacity="0.8"/>
<circle cx="388.8" cy="126.1" r="2.9" fill="#add4d3" fill-opacity="0.8"/>
<circle cx="443.3" cy="117.3" r="2.9" fill="#acd4d3" fill-opacity="0.8"/>
<circle cx="459.3" cy="78.0" r="2.9" fill="#acd4d3" fill-opacity="0.8"/>
<circle cx="372.2" cy="103.8" r="2.9" fill="#acd4d3" fill-opacity="0.8"/>
<circle cx="350.4" cy="111.8" r="2.9" fill="#acd4d3" fill-opacity="0.8"/>
<circle cx="349.2" cy="124.8" r="2.9" fill="#acd4d3" fill-opacity="0.8"/>
<circle cx="459.7" cy="88.3" r="2.9" fill="#acd4d3" fill-opacity="0.8"/>
<circle cx="377.8" cy="104.0" r="2.9" fill="#acd4d3" fill-opacity="0.8"/>
<circle cx="436.7" cy="68.0" r="2.9" fill="#acd4d3" fill-opacity="0.8"/>
<circle cx="348.2" cy="117.3" r="2.9" fill="#acd4d3" fill-opacity="0.8"/>
<circle cx="457.5" cy="94.7" r="2.9" fill="#acd4d3" fill-opacity="0.8"/>
<circle cx="399.4" cy="103.3" r="2.9" fill="#acd4d3" fill-opacity="0.8"/>
<circle cx="446.4" cy="66.6" r="2.9" fill="#acd4d3" fill-opacity="0.8"/>
<circle cx="348.9" cy="114.7" r="2.9" fill="#acd4d2" fill-opacity="0.8"/>
<circle cx="353.1" cy="128.5" r="2.9" fill="#acd4d2" fill-opacity="0.8"/>
<circle cx="446.1" cy="114.0" r="2.9" fill="#acd4d2" fill-opacity="0.8"/>
<circle cx="424.5" cy="78.1" r="2.9" fill="#acd4d2" fill-opacity="0.8"/>
<circle cx="426.9" cy="126.3" r="2.9" fill="#acd4d2" fill-opacity="0.8"/>
<circle cx="364.1" cy="105.4" r="2.9" fill="#acd4d2" fill-opacity="0.8"/>
<circle cx="455.3" cy="98.9" r="2.9" fill="#abd4d2" fill-opacity="0.8"/>
<circle cx="417.6" cy="87.8" r="2.9" fill="#abd4d2" fill-opacity="0.8"/>
<circle cx="348.4" cy="122.1" r="2.9" fill="#abd4d2" fill-opacity="0.8"/>
<circle cx="398.5" cy="123.3" r="2.9" fill="#abd4d2" fill-opacity="0.8"/>
<circle cx="458.2" cy="92.8" r="2.9" fill="#abd4d2" fill-opacity="0.8"/>
<circle cx="417.3" cy="126.8" r="2.9" fill="#abd4d2" fill-opacity="0.8"/>
<circle cx="422.7" cy="80.7" r="2.9" fill="#abd3d2" fill-opacity="0.8"/>
<circle cx="386.2" cy="125.9" r="2.9" fill="#abd3d2" fill-opacity="0.8"/>
<circle cx="380.8" cy="104.3" r="2.9" fill="#abd3d2" fill-opacity="0.8"/>
<circle cx="430.8" cy="125.1" r="2.9" fill="#abd3d2" fill-opacity="0.8"/>
<circle cx="366.5" cy="126.5" r="2.9" fill="#abd3d2" fill-opacity="0.8"/>
<circle cx="391.9" cy="102.6" r="2.9" fill="#abd3d2" fill-opacity="0.8"/>
<circle cx="459.5" cy="88.5" r="2.9" fill="#abd3d2" fill-opacity="0.8"/>
<circle cx="369.3" cy="104.3" r="2.9" fill="#abd3d2" fill-opacity="0.8"/>
<circle cx="418.3" cy="126.8" r="2.9" fill="#abd3d2" fill-opacity="0.8"/>
<circle cx="355.9" cy="128.8" r="2.9" fill="#abd3d2" fill-opacity="0.8"/>
<circle cx="351.6" cy="110.7" r="2.9" fill="#abd3d2" fill-opacity="0.8"/>
<circle cx="390.1" cy="125.5" r="2.9" fill="#abd3d2" fill-opacity="0.8"/>
<circle cx="397.4" cy="123.4" r="2.9" fill="#abd3d2" fill-opacity="0.8"/>
<circle cx="395.9" cy="123.9" r="2.9" fill="#abd3d2" fill-opacity="0.8"/>
<circle cx="406.0" cy="103.0" r="2.9" fill="#abd3d2" fill-opacity="0.8"/>
<circle cx="348.3" cy="118.3" r="2.9" fill="#abd3d2" fill-opacity="0.8"/>
<circle cx="386.4" cy="125.7" r="2.9" fill="#abd3d2" fill-opacity="0.8"/>
<circle cx="365.9" cy="105.1" r="2.9" fill="#aad3d2" fill-opacity="0.8"/>
<circle cx="451.7" cy="68.5" r="2.9" fill="#aad3d2" fill-opacity="0.8"/>
<circle cx="436.8" cy="122.3" r="2.9" fill="#aad3d2" fill-opacity="0.8"/>
<circle cx="353.1" cy="109.6" r="2.9" fill="#aad3d2" fill-opacity="0.8"/>
<circle cx="390.0" cy="103.0" r="2.9" fill="#aad3d2" fill-opacity="0.8"/>
<circle cx="408.1" cy="101.4" r="2.9" fill="#aad3d2" fill-opacity="0.8"/>
<circle cx="355.2" cy="108.5" r="2.9" fill="#aad3d2" fill-opacity="0.8"/>
<circle cx="350.0" cy="125.4" r="2.9" fill="#aad3d2" fill-opacity="0.8"/>
<circle cx="353.2" cy="109.7" r="2.9" fill="#aad3d1" fill-opacity="0.8"/>
<circle cx="396.6" cy="103.3" r="2.9" fill="#a9d3d1" fill-opacity="0.8"/>
<circle cx="388.2" cy="103.5" r="2.9" fill="#a9d3d1" fill-opacity="0.8"/>
<circle cx="430.7" cy="124.9" r="2.9" fill="#a9d2d1" fill-opacity="0.8"/>
<circle cx="362.7" cy="106.3" r="2.9" fill="#a9d2d1" fill-opacity="0.8"/>
<circle cx="418.6" cy="87.0" r="2.9" fill="#a9d2d1" fill-opacity="0.8"/>
<circle cx="429.3" cy="73.7" r="2.9" fill="#a9d2d1" fill-opacity="0.8"/>
<circle cx="448.6" cy="67.7" r="2.9" fill="#a9d2d1" fill-opacity="0.8"/>
<circle cx="429.5" cy="125.2" r="2.9" fill="#a9d2d1" fill-opacity="0.8"/>
<circle cx="353.9" cy="128.1" r="2.9" fill="#a9d2d1" fill-opacity="0.8"/>
<circle cx="349.1" cy="115.4" r="2.9" fill="#a9d2d1" fill-opacity="0.8"/>
<circle cx="383.9" cy="125.3" r="2.9" fill="#a9d2d1" fill-opacity="0.8"/>
<circle cx="411.0" cy="124.7" r="2.9" fill="#a9d2d1" fill-opacity="0.8"/>
<circle cx="450.0" cy="68.2" r="2.9" fill="#a9d2d1" fill-opacity="0.8"/>
<circle cx="394.3" cy="124.0" r="2.9" fill="#a9d2d1" fill-opacity="0.8"/>
<circle cx="368.1" cy="104.9" r="2.9" fill="#a9d2d1" fill-opacity="0.8"/>
<circle cx="410.4" cy="124.4" r="2.9" fill="#a9d2d1" fill-opacity="0.8"/>
<circle cx="351.1" cy="111.8" r="2.9" fill="#a9d2d1" fill-opacity="0.8"/>
<circle cx="410.7" cy="124.5" r="2.9" fill="#a9d2d1" fill-opacity="0.8"/>
<circle cx="380.1" cy="125.0" r="2.9" fill="#a9d2d1" fill-opacity="0.8"/>
<circle cx="374.1" cy="104.6" r="2.9" fill="#a9d2d1" fill-opacity="0.8"/>
<circle cx="394.8" cy="123.7" r="2.9" fill="#a9d2d1" fill-opacity="0.8"/>
<circle cx="443.5" cy="67.3" r="2.9" fill="#a8d2d1" fill-opacity="0.8"/>
<circle cx="388.4" cy="125.0" r="2.9" fill="#a8d2d1" fill-opacity="0.8"/>
<circle cx="428.4" cy="74.7" r="2.9" fill="#a8d2d1" fill-opacity="0.8"/>
<circle cx="397.7" cy="103.8" r="2.9" fill="#a8d2d1" fill-opacity="0.8"/>
<circle cx="388.1" cy="125.0" r="2.9" fill="#a8d2d1" fill-opacity="0.8"/>
<circle cx="447.1" cy="111.8" r="2.9" fill="#a8d2d1" fill-opacity="0.8"/>
<circle cx="355.2" cy="128.1" r="2.9" fill="#a8d2d0" fill-opacity="0.8"/>
<circle cx="393.6" cy="103.3" r="2.9" fill="#a8d2d0" fill-opacity="0.8"/>
<circle cx="392.1" cy="103.3" r="2.9" fill="#a8d2d0" fill-opacity="0.8"/>
<circle cx="438.2" cy="68.4" r="2.9" fill="#a8d2d0" fill-opacity="0.8"/>
<circle cx="457.4" cy="76.0" r="2.9" fill="#a8d2d0" fill-opacity="0.8"/>
<circle cx="443.8" cy="67.6" r="2.9" fill="#a7d2d0" fill-opacity="0.8"/>
<circle cx="373.6" cy="124.9" r="2.9" fill="#a7d1d0" fill-opacity="0.8"/>
<circle cx="351.1" cy="112.1" r="2.9" fill="#a7d1d0" fill-opacity="0.8"/>
<circle cx="455.1" cy="72.6" r="2.9" fill="#a7d1d0" fill-opacity="0.8"/>
<circle cx="364.9" cy="126.0" r="2.9" fill="#a7d1d0" fill-opacity="0.8"/>
<circle cx="379.1" cy="124.6" r="2.9" fill="#a7d1d0" fill-opacity="0.8"/>
<circle cx="437.0" cy="121.6" r="2.9" fill="#a7d1d0" fill-opacity="0.8"/>
<circle cx="356.2" cy="127.9" r="2.9" fill="#a7d1d0" fill-opacity="0.8"/>
<circle cx="363.0" cy="106.7" r="2.9" fill="#a6d1d0" fill-opacity="0.8"/>
<circle cx="393.2" cy="123.6" r="2.9" fill="#a6d1d0" fill-opacity="0.8"/>
<circle cx="386.4" cy="124.6" r="2.9" fill="#a6d1d0" fill-opacity="0.8"/>
<circle cx="436.4" cy="69.4" r="2.9" fill="#a6d1d0" fill-opacity="0.8"/>
<circle cx="367.5" cy="105.6" r="2.9" fill="#a6d1d0" fill-opacity="0.8"/>
<circle cx="434.8" cy="70.3" r="2.9" fill="#a6d1d0" fill-opacity="0.8"/>
<circle cx="447.4" cy="68.3" r="2.9" fill="#a6d1cf" fill-opacity="0.8"/>
<circle cx="458.8" cy="88.4" r="2.9" fill="#a6d1cf" fill-opacity="0.8"/>
<circle cx="390.7" cy="103.9" r="2.9" fill="#a6d1cf" fill-opacity="0.8"/>
<circle cx="415.6" cy="125.7" r="2.9" fill="#a6d1cf" fill-opacity="0.8"/>
<circle cx="376.7" cy="124.4" r="2.9" fill="#a6d1cf" fill-opacity="0.8"/>
<circle cx="413.3" cy="125.0" r="2.9" fill="#a6d1cf" fill-opacity="0.8"/>
<circle cx="392.0" cy="103.8" r="2.9" fill="#a6d1cf" fill-opacity="0.8"/>
<circle cx="417.8" cy="88.9" r="2.9" fill="#a5d1cf" fill-opacity="0.8"/>
<circle cx="422.4" cy="82.5" r="2.9" fill="#a5d1cf" fill-opacity="0.8"/>
<circle cx="393.9" cy="123.2" r="2.9" fill="#a5d1cf" fill-opacity="0.8"/>
<circle cx="375.2" cy="124.4" r="2.9" fill="#a5d1cf" fill-opacity="0.8"/>
<circle cx="397.0" cy="104.4" r="2.9" fill="#a5d0cf" fill-opacity="0.8"/>
<circle cx="427.1" cy="76.6" r="2.9" fill="#a5d0cf" fill-opacity="0.8"/>
<circle cx="368.8" cy="105.5" r="2.9" fill="#a5d0cf" fill-opacity="0.8"/>
<circle cx="395.9" cy="122.5" r="2.9" fill="#a5d0cf" fill-opacity="0.8"/>
<circle cx="445.9" cy="112.9" r="2.9" fill="#a5d0cf" fill-opacity="0.8"/>
<circle cx="384.6" cy="105.4" r="2.9" fill="#a5d0cf" fill-opacity="0.8"/>
<circle cx="380.7" cy="124.2" r="2.9" fill="#a5d0cf" fill-opacity="0.8"/>
<circle cx="397.0" cy="104.4" r="2.9" fill="#a5d0cf" fill-opacity="0.8"/>
<circle cx="458.1" cy="90.7" r="2.9" fill="#a5d0cf" fill-opacity="0.8"/>
<circle cx="406.0" cy="104.6" r="2.9" fill="#a5d0cf" fill-opacity="0.8"/>
<circle cx="439.2" cy="68.7" r="2.9" fill="#a5d0cf" fill-opacity="0.8"/>
<circle cx="357.4" cy="127.5" r="2.9" fill="#a5d0cf" fill-opacity="0.8"/>
<circle cx="456.3" cy="75.3" r="2.9" fill="#a5d0cf" fill-opacity="0.8"/>
<circle cx="458.9" cy="84.9" r="2.9" fill="#a5d0cf" fill-opacity="0.8"/>
<circle cx="455.4" cy="74.1" r="2.9" fill="#a5d0cf" fill-opacity="0.8"/>
<circle cx="351.5" cy="125.6" r="2.9" fill="#a5d0cf" fill-opacity="0.8"/>
<circle cx="417.5" cy="89.6" r="2.9" fill="#a5d0cf" fill-opacity="0.8"/>
<circle cx="432.2" cy="72.3" r="2.9" fill="#a5d0cf" fill-opacity="0.8"/>
<circle cx="415.0" cy="125.3" r="2.9" fill="#a4d0cf" fill-opacity="0.8"/>
<circle cx="352.0" cy="111.8" r="2.9" fill="#a4d0cf" fill-opacity="0.8"/>
<circle cx="399.2" cy="121.2" r="2.9" fill="#a4d0ce" fill-opacity="0.8"/>
<circle cx="371.5" cy="124.4" r="2.9" fill="#a4d0ce" fill-opacity="0.8"/>
<circle cx="443.7" cy="115.3" r="2.9" fill="#a4d0ce" fill-opacity="0.8"/>
<circle cx="405.9" cy="121.2" r="2.9" fill="#a4d0ce" fill-opacity="0.8"/>
<circle cx="383.4" cy="106.0" r="2.9" fill="#a4d0ce" fill-opacity="0.8"/>
<circle cx="377.6" cy="105.9" r="2.9" fill="#a4d0ce" fill-opacity="0.8"/>
<circle cx="372.7" cy="124.3" r="2.9" fill="#a4d0ce" fill-opacity="0.8"/>
<circle cx="371.4" cy="124.3" r="2.9" fill="#a4d0ce" fill-opacity="0.8"/>
<circle cx="373.2" cy="105.5" r="2.9" fill="#a4d0ce" fill-opacity="0.8"/>
<circle cx="404.2" cy="105.9" r="2.9" fill="#a4d0ce" fill-opacity="0.8"/>
<circle cx="353.6" cy="110.6" r="2.9" fill="#a4d0ce" fill-opacity="0.8"/>
<circle cx="456.3" cy="95.0" r="2.9" fill="#a4d0ce" fill-opacity="0.8"/>
<circle cx="367.0" cy="124.8" r="2.9" fill="#a4d0ce" fill-opacity="0.8"/>
<circle cx="349.8" cy="122.2" r="2.9" fill="#a4d0ce" fill-opacity="0.8"/>
<circle cx="372.4" cy="105.6" r="2.9" fill="#a3cfce" fill-opacity="0.8"/>
<circle cx="451.2" cy="70.6" r="2.9" fill="#a3cfce" fill-opacity="0.8"/>
<circle cx="448.4" cy="69.3" r="2.9" fill="#a3cfce" fill-opacity="0.8"/>
<circle cx="453.6" cy="72.5" r="2.9" fill="#a3cfce" fill-opacity="0.8"/>
<circle cx="395.6" cy="122.1" r="2.9" fill="#a3cfce" fill-opacity="0.8"/>
<circle cx="358.6" cy="108.6" r="2.9" fill="#a3cfce" fill-opacity="0.8"/>
<circle cx="384.2" cy="123.6" r="2.9" fill="#a3cfce" fill-opacity="0.8"/>
<circle cx="450.8" cy="70.5" r="2.9" fill="#a3cfce" fill-opacity="0.8"/>
<circle cx="402.5" cy="106.2" r="2.9" fill="#a3cfce" fill-opacity="0.8"/>
<circle cx="436.7" cy="121.2" r="2.9" fill="#a3cfce" fill-opacity="0.8"/>
<circle cx="438.1" cy="69.5" r="2.9" fill="#a3cfce" fill-opacity="0.8"/>
<circle cx="386.7" cy="123.6" r="2.9" fill="#a3cfce" fill-opacity="0.8"/>
<circle cx="457.7" cy="79.3" r="2.9" fill="#a3cfce" fill-opacity="0.8"/>
<circle cx="422.6" cy="82.8" r="2.9" fill="#a3cfce" fill-opacity="0.8"/>
<circle cx="351.2" cy="113.3" r="2.9" fill="#a3cfce" fill-opacity="0.8"/>
<circle cx="383.5" cy="123.5" r="2.9" fill="#a3cfce" fill-opacity="0.8"/>
<circle cx="438.0" cy="69.5" r="2.9" fill="#a3cfce" fill-opacity="0.8"/>
<circle cx="350.4" cy="114.9" r="2.9" fill="#a3cfce" fill-opacity="0.8"/>
<circle cx="409.9" cy="101.3" r="2.9" fill="#a3cfce" fill-opacity="0.8"/>
<circle cx="390.0" cy="104.8" r="2.9" fill="#a3cfce" fill-opacity="0.8"/>
<circle cx="409.9" cy="122.9" r="2.9" fill="#a3cfce" fill-opacity="0.8"/>
<circle cx="401.7" cy="120.2" r="2.9" fill="#a2cfce" fill-opacity="0.8"/>
<circle cx="351.2" cy="113.4" r="2.9" fill="#a2cfce" fill-opacity="0.8"/>
<circle cx="360.7" cy="108.1" r="2.9" fill="#a2cfce" fill-opacity="0.8"/>
<circle cx="369.7" cy="106.0" r="2.9" fill="#a2cfce" fill-opacity="0.8"/>
<circle cx="391.7" cy="104.6" r="2.9" fill="#a2cfce" fill-opacity="0.8"/>
<circle cx="349.8" cy="121.2" r="2.9" fill="#a2cfce" fill-opacity="0.8"/>
<circle cx="350.2" cy="122.6" r="2.9" fill="#a2cfcd" fill-opacity="0.8"/>
<circle cx="439.9" cy="69.2" r="2.9" fill="#a2cfcd" fill-opacity="0.8"/>
<circle cx="385.9" cy="123.3" r="2.9" fill="#a2cfcd" fill-opacity="0.8"/>
<circle cx="443.7" cy="69.0" r="2.9" fill="#a2cfcd" fill-opacity="0.8"/>
<circle cx="433.0" cy="123.0" r="2.9" fill="#a2cfcd" fill-opacity="0.8"/>
<circle cx="416.7" cy="91.4" r="2.9" fill="#a2cfcd" fill-opacity="0.8"/>
<circle cx="361.8" cy="108.0" r="2.9" fill="#a2cfcd" fill-opacity="0.8"/>
<circle cx="391.6" cy="104.8" r="2.9" fill="#a2cfcd" fill-opacity="0.8"/>
<circle cx="456.3" cy="76.8" r="2.9" fill="#a2cfcd" fill-opacity="0.8"/>
<circle cx="381.9" cy="123.2" r="2.9" fill="#a1cecd" fill-opacity="0.8"/>
<circle cx="371.8" cy="123.8" r="2.9" fill="#a1cecd" fill-opacity="0.8"/>
<circle cx="360.8" cy="108.4" r="2.9" fill="#a1cecd" fill-opacity="0.8"/>
<circle cx="456.4" cy="77.3" r="2.9" fill="#a1cecd" fill-opacity="0.8"/>
<circle cx="388.8" cy="122.9" r="2.9" fill="#a1cecd" fill-opacity="0.8"/>
<circle cx="419.9" cy="125.6" r="2.9" fill="#a1cecd" fill-opacity="0.8"/>
<circle cx="451.6" cy="102.6" r="2.9" fill="#a1cecd" fill-opacity="0.8"/>
<circle cx="416.3" cy="92.1" r="2.9" fill="#a1cecd" fill-opacity="0.8"/>
<circle cx="436.7" cy="120.9" r="2.9" fill="#a1cecd" fill-opacity="0.8"/>
<circle cx="405.4" cy="120.2" r="2.9" fill="#a1cecd" fill-opacity="0.8"/>
<circle cx="352.1" cy="112.7" r="2.9" fill="#a1cecd" fill-opacity="0.8"/>
<circle cx="368.1" cy="106.6" r="2.9" fill="#a1cecd" fill-opacity="0.8"/>
<circle cx="456.8" cy="78.3" r="2.9" fill="#a1cecd" fill-opacity="0.8"/>
<circle cx="374.9" cy="106.4" r="2.9" fill="#a1cecd" fill-opacity="0.8"/>
<circle cx="382.8" cy="122.9" r="2.9" fill="#a1cecd" fill-opacity="0.8"/>
<circle cx="369.9" cy="123.7" r="2.9" fill="#a0cecd" fill-opacity="0.8"/>
<circle cx="390.8" cy="105.2" r="2.9" fill="#a0cecd" fill-opacity="0.8"/>
<circle cx="399.4" cy="120.0" r="2.9" fill="#a0cecd" fill-opacity="0.8"/>
<circle cx="437.5" cy="70.3" r="2.9" fill="#a0cecc" fill-opacity="0.8"/>
<circle cx="395.7" cy="105.4" r="2.9" fill="#a0cecc" fill-opacity="0.8"/>
<circle cx="410.2" cy="101.6" r="2.9" fill="#a0cecc" fill-opacity="0.8"/>
<circle cx="352.0" cy="124.8" r="2.9" fill="#a0cecc" fill-opacity="0.8"/>
<circle cx="445.5" cy="69.6" r="2.9" fill="#a0cecc" fill-opacity="0.8"/>
<circle cx="381.6" cy="122.7" r="2.9" fill="#a0cecc" fill-opacity="0.8"/>
<circle cx="393.1" cy="105.2" r="2.9" fill="#a0cecc" fill-opacity="0.8"/>
<circle cx="350.0" cy="118.8" r="2.9" fill="#a0cecc" fill-opacity="0.8"/>
<circle cx="387.5" cy="122.6" r="2.9" fill="#a0cecc" fill-opacity="0.8"/>
<circle cx="405.7" cy="120.0" r="2.9" fill="#a0cecc" fill-opacity="0.8"/>
<circle cx="399.0" cy="106.5" r="2.9" fill="#a0cecc" fill-opacity="0.8"/>
<circle cx="400.0" cy="119.7" r="2.9" fill="#a0cecc" fill-opacity="0.8"/>
<circle cx="350.8" cy="122.8" r="2.9" fill="#9fcdcc" fill-opacity="0.8"/>
<circle cx="361.4" cy="125.4" r="2.9" fill="#9fcdcc" fill-opacity="0.8"/>
<circle cx="406.4" cy="106.1" r="2.9" fill="#9fcdcc" fill-opacity="0.8"/>
<circle cx="354.0" cy="111.4" r="2.9" fill="#9fcdcc" fill-opacity="0.8"/>
<circle cx="356.7" cy="126.3" r="2.9" fill="#9fcdcc" fill-opacity="0.8"/>
<circle cx="418.6" cy="89.3" r="2.9" fill="#9fcdcc" fill-opacity="0.8"/>
<circle cx="391.5" cy="122.0" r="2.9" fill="#9fcdcc" fill-opacity="0.8"/>
<circle cx="444.3" cy="69.7" r="2.9" fill="#9fcdcc" fill-opacity="0.8"/>
<circle cx="444.6" cy="69.7" r="2.9" fill="#9fcdcc" fill-opacity="0.8"/>
<circle cx="388.6" cy="106.1" r="2.9" fill="#9fcdcc" fill-opacity="0.8"/>
<circle cx="391.1" cy="122.0" r="2.9" fill="#9fcdcc" fill-opacity="0.8"/>
<circle cx="410.5" cy="122.6" r="2.9" fill="#9fcdcc" fill-opacity="0.8"/>
<circle cx="358.5" cy="126.1" r="2.9" fill="#9fcdcc" fill-opacity="0.8"/>
<circle cx="357.1" cy="109.9" r="2.9" fill="#9fcdcc" fill-opacity="0.8"/>
<circle cx="381.9" cy="122.4" r="2.9" fill="#9fcdcc" fill-opacity="0.8"/>
<circle cx="388.1" cy="106.3" r="2.9" fill="#9fcdcc" fill-opacity="0.8"/>
<circle cx="372.0" cy="106.6" r="2.9" fill="#9fcdcc" fill-opacity="0.8"/>
<circle cx="399.6" cy="106.9" r="2.9" fill="#9fcdcc" fill-opacity="0.8"/>
<circle cx="458.0" cy="86.1" r="2.9" fill="#9fcdcc" fill-opacity="0.8"/>
<circle cx="372.5" cy="123.2" r="2.9" fill="#9fcdcc" fill-opacity="0.8"/>
<circle cx="425.5" cy="124.9" r="2.9" fill="#9fcdcc" fill-opacity="0.8"/>
<circle cx="369.8" cy="106.8" r="2.9" fill="#9fcdcc" fill-opacity="0.8"/>
<circle cx="405.9" cy="119.8" r="2.9" fill="#9fcdcc" fill-opacity="0.8"/>
<circle cx="387.3" cy="106.6" r="2.9" fill="#9fcdcc" fill-opacity="0.8"/>
<circle cx="373.0" cy="123.1" r="2.9" fill="#9fcdcc" fill-opacity="0.8"/>
<circle cx="351.5" cy="123.8" r="2.9" fill="#9fcdcc" fill-opacity="0.8"/>
<circle cx="354.2" cy="125.8" r="2.9" fill="#9ecdcc" fill-opacity="0.8"/>
<circle cx="352.6" cy="112.7" r="2.9" fill="#9ecdcc" fill-opacity="0.8"/>
<circle cx="413.7" cy="96.7" r="2.9" fill="#9ecdcc" fill-opacity="0.8"/>
<circle cx="354.8" cy="126.0" r="2.9" fill="#9ecdcc" fill-opacity="0.8"/>
<circle cx="354.7" cy="125.9" r="2.9" fill="#9ecdcc" fill-opacity="0.8"/>
<circle cx="375.1" cy="107.0" r="2.9" fill="#9ecdcc" fill-opacity="0.8"/>
<circle cx="364.8" cy="124.2" r="2.9" fill="#9ecdcc" fill-opacity="0.8"/>
<circle cx="442.2" cy="69.8" r="2.9" fill="#9ecdcb" fill-opacity="0.8"/>
<circle cx="436.1" cy="71.3" r="2.9" fill="#9ecdcb" fill-opacity="0.8"/>
<circle cx="410.0" cy="102.4" r="2.9" fill="#9ecdcb" fill-opacity="0.8"/>
<circle cx="395.8" cy="120.6" r="2.9" fill="#9ecdcb" fill-opacity="0.8"/>
<circle cx="364.1" cy="108.2" r="2.9" fill="#9ecdcb" fill-opacity="0.8"/>
<circle cx="406.4" cy="106.5" r="2.9" fill="#9ecdcb" fill-opacity="0.8"/>
<circle cx="412.0" cy="99.5" r="2.9" fill="#9ecdcb" fill-opacity="0.8"/>
<circle cx="351.9" cy="113.7" r="2.9" fill="#9ecdcb" fill-opacity="0.8"/>
<circle cx="351.1" cy="122.8" r="2.9" fill="#9ecdcb" fill-opacity="0.8"/>
<circle cx="457.0" cy="80.2" r="2.9" fill="#9ecdcb" fill-opacity="0.8"/>
<circle cx="398.8" cy="106.9" r="2.9" fill="#9ecdcb" fill-opacity="0.8"/>
<circle cx="448.0" cy="108.1" r="2.9" fill="#9ecdcb" fill-opacity="0.8"/>
<circle cx="455.8" cy="94.4" r="2.9" fill="#9ecdcb" fill-opacity="0.8"/>
<circle cx="350.4" cy="119.7" r="2.9" fill="#9ecdcb" fill-opacity="0.8"/>
<circle cx="420.0" cy="87.7" r="2.9" fill="#9ecdcb" fill-opacity="0.8"/>
<circle cx="423.3" cy="125.1" r="2.9" fill="#9dcccb" fill-opacity="0.8"/>
<circle cx="413.7" cy="123.8" r="2.9" fill="#9dcccb" fill-opacity="0.8"/>
<circle cx="385.5" cy="107.5" r="2.9" fill="#9dcccb" fill-opacity="0.8"/>
<circle cx="401.4" cy="118.6" r="2.9" fill="#9dcccb" fill-opacity="0.8"/>
<circle cx="413.1" cy="97.9" r="2.9" fill="#9dcccb" fill-opacity="0.8"/>
<circle cx="382.0" cy="108.1" r="2.9" fill="#9dcccb" fill-opacity="0.8"/>
<circle cx="375.0" cy="107.2" r="2.9" fill="#9dcccb" fill-opacity="0.8"/>
<circle cx="387.7" cy="121.7" r="2.9" fill="#9dcccb" fill-opacity="0.8"/>
<circle cx="448.4" cy="71.1" r="2.9" fill="#9dcccb" fill-opacity="0.8"/>
<circle cx="367.8" cy="123.3" r="2.9" fill="#9dcccb" fill-opacity="0.8"/>
<circle cx="430.7" cy="74.9" r="2.9" fill="#9dcccb" fill-opacity="0.8"/>
<circle cx="353.4" cy="112.4" r="2.9" fill="#9dcccb" fill-opacity="0.8"/>
<circle cx="351.8" cy="123.5" r="2.9" fill="#9dcccb" fill-opacity="0.8"/>
<circle cx="398.1" cy="119.4" r="2.9" fill="#9dcccb" fill-opacity="0.8"/>
<circle cx="367.1" cy="123.3" r="2.9" fill="#9dcccb" fill-opacity="0.8"/>
<circle cx="356.8" cy="125.8" r="2.9" fill="#9dcccb" fill-opacity="0.8"/>
<circle cx="365.6" cy="123.6" r="2.9" fill="#9dcccb" fill-opacity="0.8"/>
<circle cx="401.0" cy="108.2" r="2.9" fill="#9ccccb" fill-opacity="0.8"/>
<circle cx="405.2" cy="118.8" r="2.9" fill="#9ccccb" fill-opacity="0.8"/>
<circle cx="420.6" cy="125.0" r="2.9" fill="#9ccccb" fill-opacity="0.8"/>
<circle cx="452.1" cy="73.6" r="2.9" fill="#9ccccb" fill-opacity="0.8"/>
<circle cx="423.8" cy="82.6" r="2.9" fill="#9cccca" fill-opacity="0.8"/>
<circle cx="393.7" cy="120.7" r="2.9" fill="#9cccca" fill-opacity="0.8"/>
<circle cx="446.1" cy="110.8" r="2.9" fill="#9cccca" fill-opacity="0.8"/>
<circle cx="350.8" cy="120.9" r="2.9" fill="#9cccca" fill-opacity="0.8"/>
<circle cx="453.5" cy="75.0" r="2.9" fill="#9cccca" fill-opacity="0.8"/>
<circle cx="455.2" cy="77.4" r="2.9" fill="#9cccca" fill-opacity="0.8"/>
<circle cx="383.4" cy="121.4" r="2.9" fill="#9cccca" fill-opacity="0.8"/>
<circle cx="396.6" cy="106.7" r="2.9" fill="#9cccca" fill-opacity="0.8"/>
<circle cx="373.5" cy="122.4" r="2.9" fill="#9cccca" fill-opacity="0.8"/>
<circle cx="447.8" cy="71.3" r="2.9" fill="#9cccca" fill-opacity="0.8"/>
<circle cx="370.3" cy="107.4" r="2.9" fill="#9cccca" fill-opacity="0.8"/>
<circle cx="456.1" cy="79.2" r="2.9" fill="#9cccca" fill-opacity="0.8"/>
<circle cx="376.2" cy="107.8" r="2.9" fill="#9cccca" fill-opacity="0.8"/>
<circle cx="398.7" cy="107.6" r="2.9" fill="#9ccbca" fill-opacity="0.8"/>
<circle cx="377.3" cy="121.9" r="2.9" fill="#9ccbca" fill-opacity="0.8"/>
<circle cx="374.3" cy="107.6" r="2.9" fill="#9bcbca" fill-opacity="0.8"/>
<circle cx="404.5" cy="108.6" r="2.9" fill="#9bcbca" fill-opacity="0.8"/>
<circle cx="388.2" cy="107.2" r="2.9" fill="#9bcbca" fill-opacity="0.8"/>
<circle cx="452.5" cy="99.9" r="2.9" fill="#9bcbca" fill-opacity="0.8"/>
<circle cx="415.6" cy="94.5" r="2.9" fill="#9bcbca" fill-opacity="0.8"/>
<circle cx="451.6" cy="73.5" r="2.9" fill="#9bcbca" fill-opacity="0.8"/>
<circle cx="377.0" cy="121.8" r="2.9" fill="#9bcbca" fill-opacity="0.8"/>
<circle cx="369.8" cy="122.6" r="2.9" fill="#9bcbca" fill-opacity="0.8"/>
<circle cx="396.7" cy="107.0" r="2.9" fill="#9bcbca" fill-opacity="0.8"/>
<circle cx="452.9" cy="74.7" r="2.9" fill="#9bcbca" fill-opacity="0.8"/>
<circle cx="354.0" cy="124.9" r="2.9" fill="#9bcbca" fill-opacity="0.8"/>
<circle cx="411.5" cy="122.4" r="2.9" fill="#9bcbca" fill-opacity="0.8"/>
<circle cx="350.9" cy="120.4" r="2.9" fill="#9bcbca" fill-opacity="0.8"/>
<circle cx="351.0" cy="117.5" r="2.9" fill="#9bcbca" fill-opacity="0.8"/>
<circle cx="383.9" cy="108.8" r="2.9" fill="#9bcbca" fill-opacity="0.8"/>
<circle cx="351.8" cy="115.0" r="2.9" fill="#9bcbca" fill-opacity="0.8"/>
<circle cx="434.8" cy="72.6" r="2.9" fill="#9bcbca" fill-opacity="0.8"/>
<circle cx="414.8" cy="95.8" r="2.9" fill="#9bcbca" fill-opacity="0.8"/>
<circle cx="351.2" cy="116.7" r="2.9" fill="#9bcbca" fill-opacity="0.8"/>
<circle cx="368.5" cy="107.9" r="2.9" fill="#9acbca" fill-opacity="0.8"/>
<circle cx="396.8" cy="119.1" r="2.9" fill="#9acbca" fill-opacity="0.8"/>
<circle cx="362.4" cy="124.0" r="2.9" fill="#9acbca" fill-opacity="0.8"/>
<circle cx="381.3" cy="109.1" r="2.9" fill="#9acbca" fill-opacity="0.8"/>
<circle cx="407.3" cy="119.3" r="2.9" fill="#9acbc9" fill-opacity="0.8"/>
<circle cx="445.2" cy="71.0" r="2.9" fill="#9acbc9" fill-opacity="0.8"/>
<circle cx="390.0" cy="120.5" r="2.9" fill="#9acbc9" fill-opacity="0.8"/>
<circle cx="375.1" cy="121.8" r="2.9" fill="#9acbc9" fill-opacity="0.8"/>
<circle cx="452.8" cy="75.0" r="2.9" fill="#9acbc9" fill-opacity="0.8"/>
<circle cx="386.0" cy="108.5" r="2.9" fill="#9acbc9" fill-opacity="0.8"/>
<circle cx="392.3" cy="106.7" r="2.9" fill="#9acbc9" fill-opacity="0.8"/>
<circle cx="411.1" cy="121.9" r="2.9" fill="#9acbc9" fill-opacity="0.8"/>
<circle cx="366.1" cy="108.6" r="2.9" fill="#9acbc9" fill-opacity="0.8"/>
<circle cx="403.1" cy="109.7" r="2.9" fill="#9acbc9" fill-opacity="0.8"/>
<circle cx="456.6" cy="91.0" r="2.9" fill="#9acbc9" fill-opacity="0.8"/>
<circle cx="383.0" cy="109.3" r="2.9" fill="#9acbc9" fill-opacity="0.8"/>
<circle cx="447.1" cy="71.7" r="2.9" fill="#9acac9" fill-opacity="0.8"/>
<circle cx="374.1" cy="121.8" r="2.9" fill="#9acac9" fill-opacity="0.8"/>
<circle cx="395.5" cy="107.2" r="2.9" fill="#99cac9" fill-opacity="0.8"/>
<circle cx="419.0" cy="90.1" r="2.9" fill="#99cac9" fill-opacity="0.8"/>
<circle cx="351.2" cy="120.3" r="2.9" fill="#99cac9" fill-opacity="0.8"/>
<circle cx="436.3" cy="120.2" r="2.9" fill="#99cac9" fill-opacity="0.8"/>
<circle cx="454.5" cy="77.3" r="2.9" fill="#99cac9" fill-opacity="0.8"/>
<circle cx="398.2" cy="118.2" r="2.9" fill="#99cac9" fill-opacity="0.8"/>
<circle cx="424.6" cy="82.2" r="2.9" fill="#99cac9" fill-opacity="0.8"/>
<circle cx="430.6" cy="75.8" r="2.9" fill="#99cac9" fill-opacity="0.8"/>
<circle cx="352.4" cy="123.1" r="2.9" fill="#99cac9" fill-opacity="0.8"/>
<circle cx="361.2" cy="124.0" r="2.9" fill="#99cac9" fill-opacity="0.8"/>
<circle cx="353.6" cy="124.1" r="2.9" fill="#99cac9" fill-opacity="0.8"/>
<circle cx="376.3" cy="108.6" r="2.9" fill="#99cac9" fill-opacity="0.8"/>
<circle cx="400.9" cy="109.7" r="2.9" fill="#99cac9" fill-opacity="0.8"/>
<circle cx="424.1" cy="83.0" r="2.9" fill="#99cac9" fill-opacity="0.8"/>
<circle cx="411.4" cy="101.8" r="2.9" fill="#99cac9" fill-opacity="0.8"/>
<circle cx="351.8" cy="116.1" r="2.9" fill="#99cac9" fill-opacity="0.8"/>
<circle cx="427.0" cy="79.3" r="2.9" fill="#99cac9" fill-opacity="0.8"/>
<circle cx="408.6" cy="119.9" r="2.9" fill="#99cac9" fill-opacity="0.8"/>
<circle cx="382.9" cy="109.8" r="2.9" fill="#99cac9" fill-opacity="0.8"/>
<circle cx="379.8" cy="120.5" r="2.9" fill="#98cac9" fill-opacity="0.8"/>
<circle cx="429.3" cy="77.0" r="2.9" fill="#98cac9" fill-opacity="0.8"/>
<circle cx="409.3" cy="120.3" r="2.9" fill="#98cac8" fill-opacity="0.8"/>
<circle cx="400.6" cy="116.7" r="2.9" fill="#98cac8" fill-opacity="0.8"/>
<circle cx="368.0" cy="108.5" r="2.9" fill="#98cac8" fill-opacity="0.8"/>
<circle cx="351.9" cy="116.1" r="2.9" fill="#98cac8" fill-opacity="0.8"/>
<circle cx="390.5" cy="119.8" r="2.9" fill="#98cac8" fill-opacity="0.8"/>
<circle cx="351.4" cy="119.6" r="2.9" fill="#98cac8" fill-opacity="0.8"/>
<circle cx="351.6" cy="120.6" r="2.9" fill="#98cac8" fill-opacity="0.8"/>
<circle cx="414.1" cy="97.5" r="2.9" fill="#98cac8" fill-opacity="0.8"/>
<circle cx="405.1" cy="109.8" r="2.9" fill="#98cac8" fill-opacity="0.8"/>
<circle cx="402.5" cy="115.9" r="2.9" fill="#98cac8" fill-opacity="0.8"/>
<circle cx="406.4" cy="117.9" r="2.9" fill="#98cac8" fill-opacity="0.8"/>
<circle cx="384.6" cy="119.6" r="2.9" fill="#98cac8" fill-opacity="0.8"/>
<circle cx="388.9" cy="119.7" r="2.9" fill="#98cac8" fill-opacity="0.8"/>
<circle cx="429.6" cy="76.8" r="2.9" fill="#98cac8" fill-opacity="0.8"/>
<circle cx="383.5" cy="119.7" r="2.9" fill="#98cac8" fill-opacity="0.8"/>
<circle cx="376.4" cy="109.0" r="2.9" fill="#98cac8" fill-opacity="0.8"/>
<circle cx="380.5" cy="110.0" r="2.9" fill="#98cac8" fill-opacity="0.8"/>
<circle cx="418.2" cy="124.3" r="2.9" fill="#98cac8" fill-opacity="0.8"/>
<circle cx="358.0" cy="124.5" r="2.9" fill="#98cac8" fill-opacity="0.8"/>
<circle cx="374.6" cy="108.6" r="2.9" fill="#98c9c8" fill-opacity="0.8"/>
<circle cx="358.3" cy="111.0" r="2.9" fill="#97c9c8" fill-opacity="0.8"/>
<circle cx="360.6" cy="123.9" r="2.9" fill="#97c9c8" fill-opacity="0.8"/>
<circle cx="356.4" cy="124.6" r="2.9" fill="#97c9c8" fill-opacity="0.8"/>
<circle cx="371.0" cy="121.6" r="2.9" fill="#97c9c8" fill-opacity="0.8"/>
<circle cx="396.8" cy="108.3" r="2.9" fill="#97c9c8" fill-opacity="0.8"/>
<circle cx="417.1" cy="124.0" r="2.9" fill="#97c9c8" fill-opacity="0.8"/>
<circle cx="454.7" cy="95.1" r="2.9" fill="#97c9c8" fill-opacity="0.8"/>
<circle cx="394.7" cy="118.7" r="2.9" fill="#97c9c8" fill-opacity="0.8"/>
<circle cx="398.9" cy="117.0" r="2.9" fill="#97c9c8" fill-opacity="0.8"/>
<circle cx="455.0" cy="79.0" r="2.9" fill="#97c9c8" fill-opacity="0.8"/>
<circle cx="361.4" cy="123.5" r="2.9" fill="#97c9c8" fill-opacity="0.8"/>
<circle cx="384.1" cy="119.3" r="2.9" fill="#97c9c8" fill-opacity="0.8"/>
<circle cx="397.1" cy="117.8" r="2.9" fill="#97c9c8" fill-opacity="0.8"/>
<circle cx="436.2" cy="119.9" r="2.9" fill="#97c9c8" fill-opacity="0.8"/>
<circle cx="353.6" cy="123.5" r="2.9" fill="#97c9c8" fill-opacity="0.8"/>
<circle cx="438.3" cy="118.5" r="2.9" fill="#97c9c8" fill-opacity="0.8"/>
<circle cx="388.3" cy="108.8" r="2.9" fill="#97c9c8" fill-opacity="0.8"/>
<circle cx="453.9" cy="77.4" r="2.9" fill="#97c9c8" fill-opacity="0.8"/>
<circle cx="421.8" cy="86.8" r="2.9" fill="#97c9c8" fill-opacity="0.8"/>
<circle cx="456.7" cy="88.5" r="2.9" fill="#97c9c8" fill-opacity="0.8"/>
<circle cx="407.0" cy="108.5" r="2.9" fill="#97c9c8" fill-opacity="0.8"/>
<circle cx="400.2" cy="115.9" r="2.9" fill="#97c9c8" fill-opacity="0.8"/>
<circle cx="413.3" cy="122.5" r="2.9" fill="#97c9c8" fill-opacity="0.8"/>
<circle cx="352.0" cy="120.9" r="2.9" fill="#96c9c8" fill-opacity="0.8"/>
<circle cx="401.0" cy="115.4" r="2.9" fill="#96c9c8" fill-opacity="0.8"/>
<circle cx="392.1" cy="107.9" r="2.9" fill="#96c9c8" fill-opacity="0.8"/>
<circle cx="360.3" cy="110.8" r="2.9" fill="#96c9c7" fill-opacity="0.8"/>
<circle cx="397.2" cy="117.5" r="2.9" fill="#96c9c7" fill-opacity="0.8"/>
<circle cx="361.6" cy="123.2" r="2.9" fill="#96c9c7" fill-opacity="0.8"/>
<circle cx="398.0" cy="117.0" r="2.9" fill="#96c9c7" fill-opacity="0.8"/>
<circle cx="439.6" cy="71.9" r="2.9" fill="#96c9c7" fill-opacity="0.8"/>
<circle cx="432.6" cy="74.8" r="2.9" fill="#96c9c7" fill-opacity="0.8"/>
<circle cx="450.5" cy="74.3" r="2.9" fill="#96c9c7" fill-opacity="0.8"/>
<circle cx="446.7" cy="108.7" r="2.9" fill="#96c9c7" fill-opacity="0.8"/>
<circle cx="403.0" cy="114.0" r="2.9" fill="#96c9c7" fill-opacity="0.8"/>
<circle cx="430.6" cy="76.4" r="2.9" fill="#96c9c7" fill-opacity="0.8"/>
<circle cx="408.5" cy="119.1" r="2.9" fill="#96c9c7" fill-opacity="0.8"/>
<circle cx="400.5" cy="111.2" r="2.9" fill="#96c9c7" fill-opacity="0.8"/>
<circle cx="385.9" cy="118.7" r="2.9" fill="#96c9c7" fill-opacity="0.8"/>
<circle cx="438.5" cy="72.2" r="2.9" fill="#96c9c7" fill-opacity="0.8"/>
<circle cx="403.8" cy="114.1" r="2.9" fill="#96c9c7" fill-opacity="0.8"/>
<circle cx="407.7" cy="118.3" r="2.9" fill="#96c9c7" fill-opacity="0.8"/>
<circle cx="417.6" cy="92.8" r="2.9" fill="#96c9c7" fill-opacity="0.8"/>
<circle cx="382.8" cy="118.8" r="2.9" fill="#96c9c7" fill-opacity="0.8"/>
<circle cx="446.7" cy="108.6" r="2.9" fill="#96c9c7" fill-opacity="0.8"/>
<circle cx="429.5" cy="77.4" r="2.9" fill="#96c9c7" fill-opacity="0.8"/>
<circle cx="425.8" cy="123.8" r="2.9" fill="#96c9c7" fill-opacity="0.8"/>
<circle cx="374.7" cy="109.2" r="2.9" fill="#96c8c7" fill-opacity="0.8"/>
<circle cx="401.0" cy="114.6" r="2.9" fill="#96c8c7" fill-opacity="0.8"/>
<circle cx="404.0" cy="112.9" r="2.9" fill="#96c8c7" fill-opacity="0.8"/>
<circle cx="399.5" cy="115.7" r="2.9" fill="#95c8c7" fill-opacity="0.8"/>
<circle cx="398.2" cy="116.6" r="2.9" fill="#95c8c7" fill-opacity="0.8"/>
<circle cx="359.6" cy="111.2" r="2.9" fill="#95c8c7" fill-opacity="0.8"/>
<circle cx="383.8" cy="111.2" r="2.9" fill="#95c8c7" fill-opacity="0.8"/>
<circle cx="435.9" cy="73.1" r="2.9" fill="#95c8c7" fill-opacity="0.8"/>
<circle cx="364.4" cy="122.2" r="2.9" fill="#95c8c7" fill-opacity="0.8"/>
<circle cx="397.6" cy="116.8" r="2.9" fill="#95c8c7" fill-opacity="0.8"/>
<circle cx="399.0" cy="110.4" r="2.9" fill="#95c8c7" fill-opacity="0.8"/>
<circle cx="447.7" cy="106.9" r="2.9" fill="#95c8c7" fill-opacity="0.8"/>
<circle cx="407.8" cy="118.2" r="2.9" fill="#95c8c7" fill-opacity="0.8"/>
<circle cx="383.3" cy="118.3" r="2.9" fill="#95c8c7" fill-opacity="0.8"/>
<circle cx="415.6" cy="95.8" r="2.9" fill="#95c8c7" fill-opacity="0.8"/>
<circle cx="405.6" cy="115.6" r="2.9" fill="#95c8c7" fill-opacity="0.8"/>
<circle cx="419.3" cy="90.6" r="2.9" fill="#95c8c7" fill-opacity="0.8"/>
<circle cx="440.1" cy="72.1" r="2.9" fill="#95c8c7" fill-opacity="0.8"/>
<circle cx="366.5" cy="121.6" r="2.9" fill="#95c8c7" fill-opacity="0.8"/>
<circle cx="451.0" cy="75.0" r="2.9" fill="#95c8c7" fill-opacity="0.8"/>
<circle cx="449.1" cy="104.3" r="2.9" fill="#95c8c7" fill-opacity="0.8"/>
<circle cx="384.5" cy="111.4" r="2.9" fill="#95c8c7" fill-opacity="0.8"/>
<circle cx="456.4" cy="89.1" r="2.9" fill="#95c8c7" fill-opacity="0.8"/>
<circle cx="433.2" cy="121.3" r="2.9" fill="#95c8c7" fill-opacity="0.8"/>
<circle cx="385.9" cy="117.9" r="2.9" fill="#95c8c7" fill-opacity="0.8"/>
<circle cx="443.7" cy="112.7" r="2.9" fill="#95c8c7" fill-opacity="0.8"/>
<circle cx="376.3" cy="120.0" r="2.9" fill="#95c8c7" fill-opacity="0.8"/>
<circle cx="384.6" cy="111.6" r="2.9" fill="#94c8c7" fill-opacity="0.8"/>
<circle cx="391.5" cy="118.2" r="2.9" fill="#94c8c6" fill-opacity="0.8"/>
<circle cx="378.9" cy="119.0" r="2.9" fill="#94c8c6" fill-opacity="0.8"/>
<circle cx="364.2" cy="121.9" r="2.9" fill="#94c8c6" fill-opacity="0.8"/>
<circle cx="373.7" cy="109.5" r="2.9" fill="#94c8c6" fill-opacity="0.8"/>
<circle cx="383.1" cy="117.6" r="2.9" fill="#94c8c6" fill-opacity="0.8"/>
<circle cx="366.4" cy="121.3" r="2.9" fill="#94c8c6" fill-opacity="0.8"/>
<circle cx="392.6" cy="108.7" r="2.9" fill="#94c8c6" fill-opacity="0.8"/>
<circle cx="379.5" cy="111.4" r="2.9" fill="#94c8c6" fill-opacity="0.8"/>
<circle cx="373.9" cy="109.6" r="2.9" fill="#94c8c6" fill-opacity="0.8"/>
<circle cx="399.0" cy="114.8" r="2.9" fill="#94c8c6" fill-opacity="0.8"/>
<circle cx="438.4" cy="72.6" r="2.9" fill="#94c8c6" fill-opacity="0.8"/>
<circle cx="427.5" cy="79.7" r="2.9" fill="#94c8c6" fill-opacity="0.8"/>
<circle cx="352.5" cy="120.2" r="2.9" fill="#94c8c6" fill-opacity="0.8"/>
<circle cx="373.7" cy="109.6" r="2.9" fill="#94c8c6" fill-opacity="0.8"/>
<circle cx="392.7" cy="117.8" r="2.9" fill="#94c7c6" fill-opacity="0.8"/>
<circle cx="453.4" cy="96.8" r="2.9" fill="#94c7c6" fill-opacity="0.8"/>
<circle cx="397.1" cy="116.2" r="2.9" fill="#94c7c6" fill-opacity="0.8"/>
<circle cx="389.3" cy="117.8" r="2.9" fill="#94c7c6" fill-opacity="0.8"/>
<circle cx="453.2" cy="77.7" r="2.9" fill="#94c7c6" fill-opacity="0.8"/>
<circle cx="445.4" cy="72.8" r="2.9" fill="#94c7c6" fill-opacity="0.8"/>
<circle cx="381.5" cy="112.4" r="2.9" fill="#94c7c6" fill-opacity="0.8"/>
<circle cx="365.9" cy="110.3" r="2.9" fill="#93c7c6" fill-opacity="0.8"/>
<circle cx="410.2" cy="119.9" r="2.9" fill="#93c7c6" fill-opacity="0.8"/>
<circle cx="398.7" cy="111.7" r="2.9" fill="#93c7c6" fill-opacity="0.8"/>
<circle cx="361.4" cy="122.5" r="2.9" fill="#93c7c6" fill-opacity="0.8"/>
<circle cx="352.8" cy="120.8" r="2.9" fill="#93c7c6" fill-opacity="0.8"/>
<circle cx="378.7" cy="118.6" r="2.9" fill="#93c7c6" fill-opacity="0.8"/>
<circle cx="352.4" cy="119.0" r="2.9" fill="#93c7c6" fill-opacity="0.8"/>
<circle cx="448.6" cy="74.1" r="2.9" fill="#93c7c6" fill-opacity="0.8"/>
<circle cx="385.1" cy="116.6" r="2.9" fill="#93c7c6" fill-opacity="0.8"/>
<circle cx="414.1" cy="122.4" r="2.9" fill="#93c7c6" fill-opacity="0.8"/>
<circle cx="384.7" cy="112.8" r="2.9" fill="#93c7c6" fill-opacity="0.8"/>
<circle cx="360.7" cy="111.6" r="2.9" fill="#93c7c6" fill-opacity="0.8"/>
<circle cx="397.2" cy="110.4" r="2.9" fill="#93c7c6" fill-opacity="0.8"/>
<circle cx="446.7" cy="73.3" r="2.9" fill="#93c7c6" fill-opacity="0.8"/>
<circle cx="415.0" cy="97.3" r="2.9" fill="#93c7c6" fill-opacity="0.8"/>
<circle cx="439.8" cy="116.6" r="2.9" fill="#93c7c6" fill-opacity="0.8"/>
<circle cx="444.7" cy="111.1" r="2.9" fill="#93c7c6" fill-opacity="0.8"/>
<circle cx="383.2" cy="116.3" r="2.9" fill="#93c7c6" fill-opacity="0.8"/>
<circle cx="378.1" cy="111.4" r="2.9" fill="#93c7c6" fill-opacity="0.8"/>
<circle cx="353.9" cy="122.3" r="2.9" fill="#93c7c6" fill-opacity="0.8"/>
<circle cx="372.4" cy="120.1" r="2.9" fill="#93c7c6" fill-opacity="0.8"/>
<circle cx="394.4" cy="117.0" r="2.9" fill="#93c7c6" fill-opacity="0.8"/>
<circle cx="418.2" cy="92.6" r="2.9" fill="#93c7c6" fill-opacity="0.8"/>
<circle cx="372.4" cy="109.8" r="2.9" fill="#92c7c5" fill-opacity="0.8"/>
<circle cx="448.5" cy="104.9" r="2.9" fill="#92c7c5" fill-opacity="0.8"/>
<circle cx="383.8" cy="114.9" r="2.9" fill="#92c7c5" fill-opacity="0.8"/>
<circle cx="365.8" cy="121.0" r="2.9" fill="#92c7c5" fill-opacity="0.8"/>
<circle cx="388.5" cy="110.9" r="2.9" fill="#92c7c5" fill-opacity="0.8"/>
<circle cx="397.6" cy="114.9" r="2.9" fill="#92c7c5" fill-opacity="0.8"/>
<circle cx="372.0" cy="120.1" r="2.9" fill="#92c7c5" fill-opacity="0.8"/>
<circle cx="411.9" cy="102.7" r="2.9" fill="#92c7c5" fill-opacity="0.8"/>
<circle cx="382.4" cy="115.6" r="2.9" fill="#92c7c5" fill-opacity="0.8"/>
<circle cx="447.6" cy="73.8" r="2.9" fill="#92c7c5" fill-opacity="0.8"/>
<circle cx="397.3" cy="111.0" r="2.9" fill="#92c7c5" fill-opacity="0.8"/>
<circle cx="364.4" cy="121.3" r="2.9" fill="#92c7c5" fill-opacity="0.8"/>
<circle cx="434.9" cy="74.2" r="2.9" fill="#92c7c5" fill-opacity="0.8"/>
<circle cx="385.0" cy="114.4" r="2.9" fill="#92c7c5" fill-opacity="0.8"/>
<circle cx="406.3" cy="114.2" r="2.9" fill="#92c7c5" fill-opacity="0.8"/>
<circle cx="392.8" cy="109.4" r="2.9" fill="#92c7c5" fill-opacity="0.8"/>
<circle cx="354.4" cy="114.6" r="2.9" fill="#92c7c5" fill-opacity="0.8"/>
<circle cx="382.3" cy="115.0" r="2.9" fill="#92c7c5" fill-opacity="0.8"/>
<circle cx="385.5" cy="115.0" r="2.9" fill="#92c7c5" fill-opacity="0.8"/>
<circle cx="395.1" cy="109.8" r="2.9" fill="#92c7c5" fill-opacity="0.8"/>
<circle cx="445.7" cy="109.5" r="2.9" fill="#92c7c5" fill-opacity="0.8"/>
<circle cx="381.8" cy="115.4" r="2.9" fill="#92c7c5" fill-opacity="0.8"/>
<circle cx="375.9" cy="110.8" r="2.9" fill="#92c7c5" fill-opacity="0.8"/>
<circle cx="387.7" cy="116.3" r="2.9" fill="#92c7c5" fill-opacity="0.8"/>
<circle cx="449.3" cy="103.3" r="2.9" fill="#92c7c5" fill-opacity="0.8"/>
<circle cx="353.0" cy="117.2" r="2.9" fill="#92c7c5" fill-opacity="0.8"/>
<circle cx="389.9" cy="110.4" r="2.9" fill="#92c7c5" fill-opacity="0.8"/>
<circle cx="381.5" cy="114.7" r="2.9" fill="#92c7c5" fill-opacity="0.8"/>
<circle cx="439.0" cy="72.9" r="2.9" fill="#92c7c5" fill-opacity="0.8"/>
<circle cx="380.6" cy="113.6" r="2.9" fill="#92c7c5" fill-opacity="0.8"/>
<circle cx="394.2" cy="109.7" r="2.9" fill="#92c7c5" fill-opacity="0.8"/>
<circle cx="397.6" cy="114.3" r="2.9" fill="#92c6c5" fill-opacity="0.8"/>
<circle cx="414.9" cy="122.5" r="2.9" fill="#92c6c5" fill-opacity="0.8"/>
<circle cx="386.5" cy="115.1" r="2.9" fill="#92c6c5" fill-opacity="0.8"/>
<circle cx="390.0" cy="110.5" r="2.9" fill="#92c6c5" fill-opacity="0.8"/>
<circle cx="361.3" cy="111.8" r="2.9" fill="#92c6c5" fill-opacity="0.8"/>
<circle cx="353.9" cy="115.3" r="2.9" fill="#92c6c5" fill-opacity="0.8"/>
<circle cx="367.5" cy="110.5" r="2.9" fill="#92c6c5" fill-opacity="0.8"/>
<circle cx="380.5" cy="113.8" r="2.9" fill="#91c6c5" fill-opacity="0.8"/>
<circle cx="456.1" cy="88.2" r="2.9" fill="#91c6c5" fill-opacity="0.8"/>
<circle cx="388.1" cy="111.9" r="2.9" fill="#91c6c5" fill-opacity="0.8"/>
<circle cx="386.7" cy="113.9" r="2.9" fill="#91c6c5" fill-opacity="0.8"/>
<circle cx="436.8" cy="73.6" r="2.9" fill="#91c6c5" fill-opacity="0.8"/>
<circle cx="390.9" cy="116.7" r="2.9" fill="#91c6c5" fill-opacity="0.8"/>
<circle cx="387.3" cy="115.2" r="2.9" fill="#91c6c5" fill-opacity="0.8"/>
<circle cx="376.4" cy="111.3" r="2.9" fill="#91c6c5" fill-opacity="0.8"/>
<circle cx="374.4" cy="119.3" r="2.9" fill="#91c6c5" fill-opacity="0.8"/>
<circle cx="358.1" cy="112.7" r="2.9" fill="#91c6c5" fill-opacity="0.8"/>
<circle cx="376.6" cy="118.5" r="2.9" fill="#91c6c5" fill-opacity="0.8"/>
<circle cx="393.5" cy="116.4" r="2.9" fill="#91c6c5" fill-opacity="0.8"/>
<circle cx="438.2" cy="73.2" r="2.9" fill="#91c6c5" fill-opacity="0.8"/>
<circle cx="361.0" cy="122.0" r="2.9" fill="#91c6c5" fill-opacity="0.8"/>
<circle cx="395.5" cy="110.6" r="2.9" fill="#91c6c5" fill-opacity="0.8"/>
<circle cx="387.9" cy="113.0" r="2.9" fill="#91c6c5" fill-opacity="0.8"/>
<circle cx="396.0" cy="115.1" r="2.9" fill="#91c6c5" fill-opacity="0.8"/>
<circle cx="445.7" cy="109.3" r="2.9" fill="#91c6c5" fill-opacity="0.8"/>
<circle cx="370.2" cy="110.4" r="2.9" fill="#91c6c5" fill-opacity="0.8"/>
<circle cx="353.1" cy="118.3" r="2.9" fill="#91c6c4" fill-opacity="0.8"/>
<circle cx="392.4" cy="110.3" r="2.9" fill="#90c6c4" fill-opacity="0.8"/>
<circle cx="396.5" cy="112.0" r="2.9" fill="#90c6c4" fill-opacity="0.8"/>
<circle cx="364.1" cy="111.6" r="2.9" fill="#90c6c4" fill-opacity="0.8"/>
<circle cx="391.7" cy="110.5" r="2.9" fill="#90c6c4" fill-opacity="0.8"/>
<circle cx="429.9" cy="78.0" r="2.9" fill="#90c6c4" fill-opacity="0.8"/>
<circle cx="396.7" cy="113.0" r="2.9" fill="#90c6c4" fill-opacity="0.8"/>
<circle cx="424.2" cy="123.5" r="2.9" fill="#90c6c4" fill-opacity="0.8"/>
<circle cx="425.6" cy="82.8" r="2.9" fill="#90c6c4" fill-opacity="0.8"/>
<circle cx="455.0" cy="81.9" r="2.9" fill="#90c6c4" fill-opacity="0.8"/>
<circle cx="395.0" cy="111.0" r="2.9" fill="#90c6c4" fill-opacity="0.8"/>
<circle cx="394.3" cy="110.7" r="2.9" fill="#90c6c4" fill-opacity="0.8"/>
<circle cx="454.5" cy="80.9" r="2.9" fill="#90c6c4" fill-opacity="0.8"/>
<circle cx="374.2" cy="118.8" r="2.9" fill="#90c6c4" fill-opacity="0.8"/>
<circle cx="407.1" cy="113.1" r="2.9" fill="#90c6c4" fill-opacity="0.8"/>
<circle cx="440.1" cy="115.9" r="2.9" fill="#90c6c4" fill-opacity="0.8"/>
<circle cx="367.0" cy="120.0" r="2.9" fill="#90c6c4" fill-opacity="0.8"/>
<circle cx="455.9" cy="87.3" r="2.9" fill="#90c6c4" fill-opacity="0.8"/>
<circle cx="362.5" cy="121.1" r="2.9" fill="#90c6c4" fill-opacity="0.8"/>
<circle cx="439.5" cy="116.5" r="2.9" fill="#90c6c4" fill-opacity="0.8"/>
<circle cx="395.1" cy="114.9" r="2.9" fill="#90c5c4" fill-opacity="0.8"/>
<circle cx="444.9" cy="110.4" r="2.9" fill="#90c5c4" fill-opacity="0.8"/>
<circle cx="389.6" cy="112.4" r="2.9" fill="#90c5c4" fill-opacity="0.8"/>
<circle cx="393.2" cy="115.6" r="2.9" fill="#90c5c4" fill-opacity="0.8"/>
<circle cx="353.6" cy="120.1" r="2.9" fill="#90c5c4" fill-opacity="0.8"/>
<circle cx="375.6" cy="111.7" r="2.9" fill="#90c5c4" fill-opacity="0.8"/>
<circle cx="364.8" cy="120.4" r="2.9" fill="#90c5c4" fill-opacity="0.8"/>
<circle cx="390.3" cy="111.8" r="2.9" fill="#90c5c4" fill-opacity="0.8"/>
<circle cx="395.6" cy="114.2" r="2.9" fill="#90c5c4" fill-opacity="0.8"/>
<circle cx="393.0" cy="111.0" r="2.9" fill="#8fc5c4" fill-opacity="0.8"/>
<circle cx="354.5" cy="121.5" r="2.9" fill="#8fc5c4" fill-opacity="0.8"/>
<circle cx="378.1" cy="116.4" r="2.9" fill="#8fc5c4" fill-opacity="0.8"/>
<circle cx="389.9" cy="114.6" r="2.9" fill="#8fc5c4" fill-opacity="0.8"/>
<circle cx="377.6" cy="113.2" r="2.9" fill="#8fc5c4" fill-opacity="0.8"/>
<circle cx="417.7" cy="93.9" r="2.9" fill="#8fc5c4" fill-opacity="0.8"/>
<circle cx="372.0" cy="119.1" r="2.9" fill="#8fc5c4" fill-opacity="0.8"/>
<circle cx="371.4" cy="110.8" r="2.9" fill="#8fc5c4" fill-opacity="0.8"/>
<circle cx="363.8" cy="112.1" r="2.9" fill="#8fc5c4" fill-opacity="0.8"/>
<circle cx="373.2" cy="118.8" r="2.9" fill="#8fc5c4" fill-opacity="0.8"/>
<circle cx="417.5" cy="94.3" r="2.9" fill="#8fc5c4" fill-opacity="0.8"/>
<circle cx="395.6" cy="113.2" r="2.9" fill="#8fc5c4" fill-opacity="0.8"/>
<circle cx="389.9" cy="113.4" r="2.9" fill="#8fc5c4" fill-opacity="0.8"/>
<circle cx="357.4" cy="113.5" r="2.9" fill="#8fc5c4" fill-opacity="0.8"/>
<circle cx="372.4" cy="111.0" r="2.9" fill="#8fc5c4" fill-opacity="0.8"/>
<circle cx="408.1" cy="110.5" r="2.9" fill="#8fc5c4" fill-opacity="0.8"/>
<circle cx="448.9" cy="103.5" r="2.9" fill="#8fc5c4" fill-opacity="0.8"/>
<circle cx="354.8" cy="115.4" r="2.9" fill="#8fc5c4" fill-opacity="0.8"/>
<circle cx="376.6" cy="112.7" r="2.9" fill="#8fc5c4" fill-opacity="0.8"/>
<circle cx="445.0" cy="110.0" r="2.9" fill="#8fc5c4" fill-opacity="0.8"/>
<circle cx="367.1" cy="119.6" r="2.9" fill="#8fc5c4" fill-opacity="0.8"/>
<circle cx="440.1" cy="73.4" r="2.9" fill="#8fc5c4" fill-opacity="0.8"/>
<circle cx="393.0" cy="111.6" r="2.9" fill="#8fc5c4" fill-opacity="0.8"/>
<circle cx="432.7" cy="76.1" r="2.9" fill="#8fc5c4" fill-opacity="0.8"/>
<circle cx="371.5" cy="118.9" r="2.9" fill="#8fc5c4" fill-opacity="0.8"/>
<circle cx="394.6" cy="112.2" r="2.9" fill="#8fc5c4" fill-opacity="0.8"/>
<circle cx="353.6" cy="118.4" r="2.9" fill="#8fc5c4" fill-opacity="0.8"/>
<circle cx="422.6" cy="123.4" r="2.9" fill="#8fc5c4" fill-opacity="0.8"/>
<circle cx="375.2" cy="117.8" r="2.9" fill="#8fc5c4" fill-opacity="0.8"/>
<circle cx="373.8" cy="111.5" r="2.9" fill="#8ec5c3" fill-opacity="0.8"/>
<circle cx="393.8" cy="112.2" r="2.9" fill="#8ec5c3" fill-opacity="0.8"/>
<circle cx="376.6" cy="116.9" r="2.9" fill="#8ec5c3" fill-opacity="0.8"/>
<circle cx="391.7" cy="112.4" r="2.9" fill="#8ec5c3" fill-opacity="0.8"/>
<circle cx="418.3" cy="123.1" r="2.9" fill="#8ec5c3" fill-opacity="0.8"/>
<circle cx="439.7" cy="73.5" r="2.9" fill="#8ec5c3" fill-opacity="0.8"/>
<circle cx="392.6" cy="112.3" r="2.9" fill="#8ec5c3" fill-opacity="0.8"/>
<circle cx="412.7" cy="120.7" r="2.9" fill="#8ec5c3" fill-opacity="0.8"/>
<circle cx="393.7" cy="113.7" r="2.9" fill="#8ec5c3" fill-opacity="0.8"/>
<circle cx="393.3" cy="112.5" r="2.9" fill="#8ec5c3" fill-opacity="0.8"/>
<circle cx="393.8" cy="113.0" r="2.9" fill="#8ec5c3" fill-opacity="0.8"/>
<circle cx="375.1" cy="117.6" r="2.9" fill="#8ec5c3" fill-opacity="0.8"/>
<circle cx="393.1" cy="113.7" r="2.9" fill="#8ec5c3" fill-opacity="0.8"/>
<circle cx="363.8" cy="112.5" r="2.9" fill="#8ec5c3" fill-opacity="0.8"/>
<circle cx="362.8" cy="112.7" r="2.9" fill="#8ec5c3" fill-opacity="0.8"/>
<circle cx="408.3" cy="110.7" r="2.9" fill="#8ec5c3" fill-opacity="0.8"/>
<circle cx="355.3" cy="115.3" r="2.9" fill="#8ec5c3" fill-opacity="0.8"/>
<circle cx="368.4" cy="119.1" r="2.9" fill="#8ec5c3" fill-opacity="0.8"/>
<circle cx="376.2" cy="116.5" r="2.9" fill="#8ec4c3" fill-opacity="0.8"/>
<circle cx="376.7" cy="114.3" r="2.9" fill="#8ec4c3" fill-opacity="0.8"/>
<circle cx="453.7" cy="80.5" r="2.9" fill="#8dc4c3" fill-opacity="0.8"/>
<circle cx="357.5" cy="114.1" r="2.9" fill="#8dc4c3" fill-opacity="0.8"/>
<circle cx="376.3" cy="114.0" r="2.9" fill="#8dc4c3" fill-opacity="0.8"/>
<circle cx="373.5" cy="117.8" r="2.9" fill="#8dc4c3" fill-opacity="0.8"/>
<circle cx="437.8" cy="117.5" r="2.9" fill="#8dc4c3" fill-opacity="0.8"/>
<circle cx="440.4" cy="115.3" r="2.9" fill="#8dc4c3" fill-opacity="0.8"/>
<circle cx="408.3" cy="115.1" r="2.9" fill="#8dc4c3" fill-opacity="0.8"/>
<circle cx="375.9" cy="113.9" r="2.9" fill="#8dc4c3" fill-opacity="0.8"/>
<circle cx="417.7" cy="122.8" r="2.9" fill="#8dc4c3" fill-opacity="0.8"/>
<circle cx="367.8" cy="112.1" r="2.9" fill="#8dc4c3" fill-opacity="0.8"/>
<circle cx="362.7" cy="113.2" r="2.9" fill="#8dc4c3" fill-opacity="0.8"/>
<circle cx="359.9" cy="121.0" r="2.9" fill="#8dc4c3" fill-opacity="0.8"/>
<circle cx="354.7" cy="120.2" r="2.9" fill="#8dc4c3" fill-opacity="0.8"/>
<circle cx="442.4" cy="73.8" r="2.9" fill="#8dc4c3" fill-opacity="0.8"/>
<circle cx="453.8" cy="80.8" r="2.9" fill="#8dc4c3" fill-opacity="0.8"/>
<circle cx="421.1" cy="123.2" r="2.9" fill="#8dc4c3" fill-opacity="0.8"/>
<circle cx="433.3" cy="76.1" r="2.9" fill="#8dc4c3" fill-opacity="0.8"/>
<circle cx="375.1" cy="116.7" r="2.9" fill="#8dc4c3" fill-opacity="0.8"/>
<circle cx="365.4" cy="119.1" r="2.9" fill="#8dc4c3" fill-opacity="0.8"/>
<circle cx="453.9" cy="94.1" r="2.9" fill="#8dc4c3" fill-opacity="0.8"/>
<circle cx="426.5" cy="122.7" r="2.9" fill="#8dc4c3" fill-opacity="0.8"/>
<circle cx="354.6" cy="119.8" r="2.9" fill="#8dc4c3" fill-opacity="0.8"/>
<circle cx="408.2" cy="112.4" r="2.9" fill="#8dc4c2" fill-opacity="0.8"/>
<circle cx="362.9" cy="113.3" r="2.9" fill="#8dc4c2" fill-opacity="0.8"/>
<circle cx="452.7" cy="79.3" r="2.9" fill="#8cc4c2" fill-opacity="0.8"/>
<circle cx="375.7" cy="115.5" r="2.9" fill="#8cc4c2" fill-opacity="0.8"/>
<circle cx="427.7" cy="122.4" r="2.9" fill="#8cc4c2" fill-opacity="0.8"/>
<circle cx="374.9" cy="116.4" r="2.9" fill="#8cc4c2" fill-opacity="0.8"/>
<circle cx="360.3" cy="120.7" r="2.9" fill="#8cc4c2" fill-opacity="0.8"/>
<circle cx="362.0" cy="113.6" r="2.9" fill="#8cc4c2" fill-opacity="0.8"/>
<circle cx="447.8" cy="104.7" r="2.9" fill="#8cc4c2" fill-opacity="0.8"/>
<circle cx="372.3" cy="117.6" r="2.9" fill="#8cc4c2" fill-opacity="0.8"/>
<circle cx="372.4" cy="117.5" r="2.9" fill="#8cc4c2" fill-opacity="0.8"/>
<circle cx="369.3" cy="112.3" r="2.9" fill="#8cc4c2" fill-opacity="0.8"/>
<circle cx="408.5" cy="111.7" r="2.9" fill="#8cc4c2" fill-opacity="0.8"/>
<circle cx="369.1" cy="112.4" r="2.9" fill="#8cc4c2" fill-opacity="0.8"/>
<circle cx="424.6" cy="85.1" r="2.9" fill="#8cc4c2" fill-opacity="0.8"/>
<circle cx="455.3" cy="88.1" r="2.9" fill="#8cc4c2" fill-opacity="0.8"/>
<circle cx="375.1" cy="115.2" r="2.9" fill="#8cc4c2" fill-opacity="0.8"/>
<circle cx="370.4" cy="112.3" r="2.9" fill="#8cc3c2" fill-opacity="0.8"/>
<circle cx="354.8" cy="119.1" r="2.9" fill="#8cc3c2" fill-opacity="0.8"/>
<circle cx="359.7" cy="120.6" r="2.9" fill="#8cc3c2" fill-opacity="0.8"/>
<circle cx="452.9" cy="79.8" r="2.9" fill="#8cc3c2" fill-opacity="0.8"/>
<circle cx="436.7" cy="74.7" r="2.9" fill="#8cc3c2" fill-opacity="0.8"/>
<circle cx="448.6" cy="76.0" r="2.9" fill="#8cc3c2" fill-opacity="0.8"/>
<circle cx="453.7" cy="94.2" r="2.9" fill="#8cc3c2" fill-opacity="0.8"/>
<circle cx="374.4" cy="113.9" r="2.9" fill="#8cc3c2" fill-opacity="0.8"/>
<circle cx="361.9" cy="114.0" r="2.9" fill="#8bc3c2" fill-opacity="0.8"/>
<circle cx="370.6" cy="112.7" r="2.9" fill="#8bc3c2" fill-opacity="0.8"/>
<circle cx="413.1" cy="102.4" r="2.9" fill="#8bc3c2" fill-opacity="0.8"/>
<circle cx="416.7" cy="122.3" r="2.9" fill="#8bc3c2" fill-opacity="0.8"/>
<circle cx="445.7" cy="108.2" r="2.9" fill="#8bc3c2" fill-opacity="0.8"/>
<circle cx="418.1" cy="94.4" r="2.9" fill="#8bc3c2" fill-opacity="0.8"/>
<circle cx="427.9" cy="122.2" r="2.9" fill="#8bc3c2" fill-opacity="0.8"/>
<circle cx="410.5" cy="107.3" r="2.9" fill="#8bc3c2" fill-opacity="0.8"/>
<circle cx="359.4" cy="120.4" r="2.9" fill="#8bc3c2" fill-opacity="0.8"/>
<circle cx="359.3" cy="114.6" r="2.9" fill="#8bc3c2" fill-opacity="0.8"/>
<circle cx="369.3" cy="117.4" r="2.9" fill="#8bc3c2" fill-opacity="0.8"/>
<circle cx="370.8" cy="117.2" r="2.9" fill="#8bc3c2" fill-opacity="0.8"/>
<circle cx="356.5" cy="120.4" r="2.9" fill="#8bc3c2" fill-opacity="0.8"/>
<circle cx="364.0" cy="118.5" r="2.9" fill="#8bc3c2" fill-opacity="0.8"/>
<circle cx="412.9" cy="120.2" r="2.9" fill="#8bc3c2" fill-opacity="0.8"/>
<circle cx="371.8" cy="113.2" r="2.9" fill="#8bc3c1" fill-opacity="0.8"/>
<circle cx="360.1" cy="114.5" r="2.9" fill="#8bc3c1" fill-opacity="0.8"/>
<circle cx="373.4" cy="114.4" r="2.9" fill="#8ac3c1" fill-opacity="0.8"/>
<circle cx="367.4" cy="113.6" r="2.9" fill="#8ac3c1" fill-opacity="0.8"/>
<circle cx="369.7" cy="113.2" r="2.9" fill="#8ac3c1" fill-opacity="0.8"/>
<circle cx="417.6" cy="95.1" r="2.9" fill="#8ac3c1" fill-opacity="0.8"/>
<circle cx="356.7" cy="115.9" r="2.9" fill="#8ac3c1" fill-opacity="0.8"/>
<circle cx="409.3" cy="110.1" r="2.9" fill="#8ac3c1" fill-opacity="0.8"/>
<circle cx="411.1" cy="118.6" r="2.9" fill="#8ac3c1" fill-opacity="0.8"/>
<circle cx="372.0" cy="113.7" r="2.9" fill="#8ac3c1" fill-opacity="0.8"/>
<circle cx="454.9" cy="89.6" r="2.9" fill="#8ac3c1" fill-opacity="0.8"/>
<circle cx="366.6" cy="117.3" r="2.9" fill="#8ac3c1" fill-opacity="0.8"/>
<circle cx="372.1" cy="116.1" r="2.9" fill="#8ac3c1" fill-opacity="0.8"/>
<circle cx="367.5" cy="113.9" r="2.9" fill="#8ac3c1" fill-opacity="0.8"/>
<circle cx="438.1" cy="74.7" r="2.9" fill="#8ac3c1" fill-opacity="0.8"/>
<circle cx="368.2" cy="116.9" r="2.9" fill="#8ac3c1" fill-opacity="0.8"/>
<circle cx="357.4" cy="115.7" r="2.9" fill="#8ac3c1" fill-opacity="0.8"/>
<circle cx="364.8" cy="117.4" r="2.9" fill="#8ac2c1" fill-opacity="0.8"/>
<circle cx="409.1" cy="114.9" r="2.9" fill="#8ac2c1" fill-opacity="0.8"/>
<circle cx="434.0" cy="119.6" r="2.9" fill="#8ac2c1" fill-opacity="0.8"/>
<circle cx="362.6" cy="118.3" r="2.9" fill="#8ac2c1" fill-opacity="0.8"/>
<circle cx="367.3" cy="114.3" r="2.9" fill="#8ac2c1" fill-opacity="0.8"/>
<circle cx="356.0" cy="119.1" r="2.9" fill="#8ac2c1" fill-opacity="0.8"/>
<circle cx="452.2" cy="96.7" r="2.9" fill="#8ac2c1" fill-opacity="0.8"/>
<circle cx="371.3" cy="115.7" r="2.9" fill="#8ac2c1" fill-opacity="0.8"/>
<circle cx="371.8" cy="114.9" r="2.9" fill="#8ac2c1" fill-opacity="0.8"/>
<circle cx="363.4" cy="115.2" r="2.9" fill="#89c2c1" fill-opacity="0.8"/>
<circle cx="424.2" cy="122.7" r="2.9" fill="#89c2c1" fill-opacity="0.8"/>
<circle cx="369.6" cy="114.5" r="2.9" fill="#89c2c1" fill-opacity="0.8"/>
<circle cx="453.3" cy="94.5" r="2.9" fill="#89c2c1" fill-opacity="0.8"/>
<circle cx="369.4" cy="114.6" r="2.9" fill="#89c2c1" fill-opacity="0.8"/>
<circle cx="365.6" cy="115.5" r="2.9" fill="#89c2c1" fill-opacity="0.8"/>
<circle cx="410.0" cy="109.0" r="2.9" fill="#89c2c1" fill-opacity="0.8"/>
<circle cx="429.2" cy="80.1" r="2.9" fill="#89c2c1" fill-opacity="0.8"/>
<circle cx="362.6" cy="117.8" r="2.9" fill="#89c2c1" fill-opacity="0.8"/>
<circle cx="438.6" cy="116.3" r="2.9" fill="#89c2c1" fill-opacity="0.8"/>
<circle cx="361.4" cy="115.5" r="2.9" fill="#89c2c1" fill-opacity="0.8"/>
<circle cx="424.6" cy="85.7" r="2.9" fill="#89c2c1" fill-opacity="0.8"/>
<circle cx="446.6" cy="75.8" r="2.9" fill="#89c2c1" fill-opacity="0.8"/>
<circle cx="414.0" cy="101.4" r="2.9" fill="#89c2c1" fill-opacity="0.8"/>
<circle cx="363.3" cy="116.5" r="2.9" fill="#89c2c1" fill-opacity="0.8"/>
<circle cx="357.8" cy="116.2" r="2.9" fill="#89c2c1" fill-opacity="0.8"/>
<circle cx="358.8" cy="115.8" r="2.9" fill="#89c2c1" fill-opacity="0.8"/>
<circle cx="357.4" cy="116.6" r="2.9" fill="#89c2c0" fill-opacity="0.8"/>
<circle cx="357.2" cy="119.2" r="2.9" fill="#89c2c0" fill-opacity="0.8"/>
<circle cx="413.8" cy="120.5" r="2.9" fill="#89c2c0" fill-opacity="0.8"/>
<circle cx="362.0" cy="116.0" r="2.9" fill="#89c2c0" fill-opacity="0.8"/>
<circle cx="356.7" cy="118.3" r="2.9" fill="#89c2c0" fill-opacity="0.8"/>
<circle cx="357.1" cy="117.0" r="2.9" fill="#89c2c0" fill-opacity="0.8"/>
<circle cx="445.0" cy="75.3" r="2.9" fill="#89c2c0" fill-opacity="0.8"/>
<circle cx="454.7" cy="89.8" r="2.9" fill="#88c2c0" fill-opacity="0.8"/>
<circle cx="358.1" cy="119.0" r="2.9" fill="#88c2c0" fill-opacity="0.8"/>
<circle cx="414.3" cy="120.7" r="2.9" fill="#88c2c0" fill-opacity="0.8"/>
<circle cx="360.3" cy="116.4" r="2.9" fill="#88c2c0" fill-opacity="0.8"/>
<circle cx="454.8" cy="88.2" r="2.9" fill="#88c2c0" fill-opacity="0.8"/>
<circle cx="409.4" cy="111.4" r="2.9" fill="#88c2c0" fill-opacity="0.8"/>
<circle cx="416.2" cy="97.8" r="2.9" fill="#88c2c0" fill-opacity="0.8"/>
<circle cx="359.6" cy="116.5" r="2.9" fill="#88c2c0" fill-opacity="0.8"/>
<circle cx="409.3" cy="112.8" r="2.9" fill="#88c2c0" fill-opacity="0.8"/>
<circle cx="358.1" cy="117.4" r="2.9" fill="#88c1c0" fill-opacity="0.8"/>
<circle cx="449.8" cy="100.2" r="2.9" fill="#87c1c0" fill-opacity="0.8"/>
<circle cx="417.7" cy="122.1" r="2.9" fill="#87c1c0" fill-opacity="0.8"/>
<circle cx="433.6" cy="77.0" r="2.9" fill="#87c1c0" fill-opacity="0.8"/>
<circle cx="436.2" cy="117.9" r="2.9" fill="#87c1c0" fill-opacity="0.8"/>
<circle cx="451.1" cy="79.2" r="2.9" fill="#87c1c0" fill-opacity="0.8"/>
<circle cx="422.9" cy="88.6" r="2.9" fill="#87c1c0" fill-opacity="0.8"/>
<circle cx="409.6" cy="111.6" r="2.9" fill="#87c1bf" fill-opacity="0.8"/>
<circle cx="428.7" cy="81.0" r="2.9" fill="#87c1bf" fill-opacity="0.8"/>
<circle cx="410.8" cy="117.1" r="2.9" fill="#87c1bf" fill-opacity="0.8"/>
<circle cx="409.7" cy="114.4" r="2.9" fill="#87c1bf" fill-opacity="0.8"/>
<circle cx="416.8" cy="97.2" r="2.9" fill="#86c1bf" fill-opacity="0.8"/>
<circle cx="414.5" cy="120.5" r="2.9" fill="#86c1bf" fill-opacity="0.8"/>
<circle cx="414.9" cy="100.4" r="2.9" fill="#86c1bf" fill-opacity="0.8"/>
<circle cx="453.9" cy="91.8" r="2.9" fill="#85c0bf" fill-opacity="0.8"/>
<circle cx="409.9" cy="114.4" r="2.9" fill="#85c0bf" fill-opacity="0.8"/>
<circle cx="448.0" cy="102.9" r="2.9" fill="#85c0bf" fill-opacity="0.8"/>
<circle cx="427.5" cy="82.9" r="2.9" fill="#84c0be" fill-opacity="0.8"/>
<circle cx="439.0" cy="75.7" r="2.9" fill="#84c0be" fill-opacity="0.8"/>
<circle cx="430.2" cy="80.0" r="2.9" fill="#84c0be" fill-opacity="0.8"/>
<circle cx="451.3" cy="80.1" r="2.9" fill="#84c0be" fill-opacity="0.8"/>
<circle cx="434.2" cy="77.2" r="2.9" fill="#84c0be" fill-opacity="0.8"/>
<circle cx="426.5" cy="84.2" r="2.9" fill="#84c0be" fill-opacity="0.8"/>
<circle cx="448.0" cy="102.7" r="2.9" fill="#84c0be" fill-opacity="0.8"/>
<circle cx="436.4" cy="117.5" r="2.9" fill="#84c0be" fill-opacity="0.8"/>
<circle cx="452.6" cy="94.5" r="2.9" fill="#84c0be" fill-opacity="0.8"/>
<circle cx="410.1" cy="113.1" r="2.9" fill="#84bfbe" fill-opacity="0.8"/>
<circle cx="440.9" cy="75.8" r="2.9" fill="#84bfbe" fill-opacity="0.8"/>
<circle cx="417.1" cy="97.2" r="2.9" fill="#83bfbe" fill-opacity="0.8"/>
<circle cx="410.4" cy="111.1" r="2.9" fill="#83bfbe" fill-opacity="0.8"/>
<circle cx="433.5" cy="77.8" r="2.9" fill="#83bfbe" fill-opacity="0.8"/>
<circle cx="431.4" cy="120.2" r="2.9" fill="#83bfbe" fill-opacity="0.8"/>
<circle cx="443.3" cy="110.4" r="2.9" fill="#83bfbe" fill-opacity="0.8"/>
<circle cx="412.9" cy="104.7" r="2.9" fill="#83bfbe" fill-opacity="0.8"/>
<circle cx="435.2" cy="118.1" r="2.9" fill="#83bfbe" fill-opacity="0.8"/>
<circle cx="453.7" cy="91.0" r="2.9" fill="#83bfbe" fill-opacity="0.8"/>
<circle cx="412.6" cy="105.6" r="2.9" fill="#83bfbd" fill-opacity="0.8"/>
<circle cx="414.2" cy="102.4" r="2.9" fill="#83bfbd" fill-opacity="0.8"/>
<circle cx="430.2" cy="80.3" r="2.9" fill="#83bfbd" fill-opacity="0.8"/>
<circle cx="447.4" cy="77.7" r="2.9" fill="#82bfbd" fill-opacity="0.8"/>
<circle cx="438.5" cy="76.1" r="2.9" fill="#82bfbd" fill-opacity="0.8"/>
<circle cx="415.8" cy="99.6" r="2.9" fill="#82bfbd" fill-opacity="0.8"/>
<circle cx="451.9" cy="95.5" r="2.9" fill="#82bfbd" fill-opacity="0.8"/>
<circle cx="410.7" cy="110.6" r="2.9" fill="#82bfbd" fill-opacity="0.8"/>
<circle cx="454.0" cy="88.5" r="2.9" fill="#82bfbd" fill-opacity="0.8"/>
<circle cx="440.9" cy="76.1" r="2.9" fill="#82bfbd" fill-opacity="0.8"/>
<circle cx="439.2" cy="76.2" r="2.9" fill="#82bebd" fill-opacity="0.8"/>
<circle cx="422.0" cy="122.1" r="2.9" fill="#82bebd" fill-opacity="0.8"/>
<circle cx="453.9" cy="89.1" r="2.9" fill="#82bebd" fill-opacity="0.8"/>
<circle cx="427.5" cy="121.3" r="2.9" fill="#81bebd" fill-opacity="0.8"/>
<circle cx="453.5" cy="91.3" r="2.9" fill="#81bebd" fill-opacity="0.8"/>
<circle cx="444.2" cy="76.8" r="2.9" fill="#81bebd" fill-opacity="0.8"/>
<circle cx="448.4" cy="101.5" r="2.9" fill="#81bebd" fill-opacity="0.8"/>
<circle cx="453.5" cy="85.3" r="2.9" fill="#81bebd" fill-opacity="0.8"/>
<circle cx="413.3" cy="104.6" r="2.9" fill="#81bebd" fill-opacity="0.8"/>
<circle cx="443.9" cy="109.1" r="2.9" fill="#81bebc" fill-opacity="0.8"/>
<circle cx="435.9" cy="77.1" r="2.9" fill="#81bebc" fill-opacity="0.8"/>
<circle cx="447.0" cy="77.9" r="2.9" fill="#81bebc" fill-opacity="0.8"/>
<circle cx="434.0" cy="78.1" r="2.9" fill="#80bebc" fill-opacity="0.8"/>
<circle cx="425.6" cy="121.6" r="2.9" fill="#80bebc" fill-opacity="0.8"/>
<circle cx="442.3" cy="76.7" r="2.9" fill="#80bdbc" fill-opacity="0.8"/>
<circle cx="428.9" cy="82.2" r="2.9" fill="#80bdbc" fill-opacity="0.8"/>
<circle cx="427.1" cy="84.4" r="2.9" fill="#80bdbc" fill-opacity="0.8"/>
<circle cx="450.2" cy="80.4" r="2.9" fill="#80bdbc" fill-opacity="0.8"/>
<circle cx="435.5" cy="77.5" r="2.9" fill="#7fbdbc" fill-opacity="0.8"/>
<circle cx="423.2" cy="89.6" r="2.9" fill="#7fbdbc" fill-opacity="0.8"/>
<circle cx="452.6" cy="93.0" r="2.9" fill="#7fbdbc" fill-opacity="0.8"/>
<circle cx="414.7" cy="102.3" r="2.9" fill="#7fbdbc" fill-opacity="0.8"/>
<circle cx="416.3" cy="99.4" r="2.9" fill="#7fbdbc" fill-opacity="0.8"/>
<circle cx="450.5" cy="80.8" r="2.9" fill="#7fbdbb" fill-opacity="0.8"/>
<circle cx="450.5" cy="80.9" r="2.9" fill="#7fbdbb" fill-opacity="0.8"/>
<circle cx="451.5" cy="95.5" r="2.9" fill="#7ebdbb" fill-opacity="0.8"/>
<circle cx="417.3" cy="120.8" r="2.9" fill="#7ebdbb" fill-opacity="0.8"/>
<circle cx="446.1" cy="104.9" r="2.9" fill="#7ebdbb" fill-opacity="0.8"/>
<circle cx="453.1" cy="86.1" r="2.9" fill="#7ebcbb" fill-opacity="0.8"/>
<circle cx="452.4" cy="84.0" r="2.9" fill="#7dbcbb" fill-opacity="0.8"/>
<circle cx="447.0" cy="78.7" r="2.9" fill="#7dbcbb" fill-opacity="0.8"/>
<circle cx="426.7" cy="121.1" r="2.9" fill="#7dbcbb" fill-opacity="0.8"/>
<circle cx="453.0" cy="85.8" r="2.9" fill="#7dbcbb" fill-opacity="0.8"/>
<circle cx="428.3" cy="120.6" r="2.9" fill="#7dbcbb" fill-opacity="0.8"/>
<circle cx="429.5" cy="120.2" r="2.9" fill="#7dbcba" fill-opacity="0.8"/>
<circle cx="445.8" cy="78.3" r="2.9" fill="#7dbcba" fill-opacity="0.8"/>
<circle cx="419.1" cy="121.2" r="2.9" fill="#7dbcba" fill-opacity="0.8"/>
<circle cx="453.0" cy="90.9" r="2.9" fill="#7dbcba" fill-opacity="0.8"/>
<circle cx="417.8" cy="97.4" r="2.9" fill="#7dbcba" fill-opacity="0.8"/>
<circle cx="422.2" cy="121.5" r="2.9" fill="#7dbcba" fill-opacity="0.8"/>
<circle cx="441.1" cy="77.3" r="2.9" fill="#7dbcba" fill-opacity="0.8"/>
<circle cx="425.7" cy="86.8" r="2.9" fill="#7cbcba" fill-opacity="0.8"/>
<circle cx="442.8" cy="110.1" r="2.9" fill="#7cbcba" fill-opacity="0.8"/>
<circle cx="431.9" cy="80.2" r="2.9" fill="#7cbcba" fill-opacity="0.8"/>
<circle cx="451.6" cy="94.7" r="2.9" fill="#7cbcba" fill-opacity="0.8"/>
<circle cx="444.9" cy="106.8" r="2.9" fill="#7cbcba" fill-opacity="0.8"/>
<circle cx="452.3" cy="93.0" r="2.9" fill="#7cbcba" fill-opacity="0.8"/>
<circle cx="416.4" cy="100.0" r="2.9" fill="#7cbbba" fill-opacity="0.8"/>
<circle cx="411.6" cy="113.2" r="2.9" fill="#7cbbba" fill-opacity="0.8"/>
<circle cx="434.1" cy="78.9" r="2.9" fill="#7cbbba" fill-opacity="0.8"/>
<circle cx="444.8" cy="78.2" r="2.9" fill="#7cbbba" fill-opacity="0.8"/>
<circle cx="420.6" cy="121.3" r="2.9" fill="#7cbbba" fill-opacity="0.8"/>
<circle cx="445.5" cy="105.7" r="2.9" fill="#7cbbba" fill-opacity="0.8"/>
<circle cx="432.6" cy="79.8" r="2.9" fill="#7bbbba" fill-opacity="0.8"/>
<circle cx="442.0" cy="77.6" r="2.9" fill="#7bbbba" fill-opacity="0.8"/>
<circle cx="434.4" cy="117.7" r="2.9" fill="#7bbbb9" fill-opacity="0.8"/>
<circle cx="450.0" cy="81.4" r="2.9" fill="#7bbbb9" fill-opacity="0.8"/>
<circle cx="440.8" cy="112.4" r="2.9" fill="#7bbbb9" fill-opacity="0.8"/>
<circle cx="427.7" cy="84.7" r="2.9" fill="#7abbb9" fill-opacity="0.8"/>
<circle cx="413.4" cy="117.3" r="2.9" fill="#7abbb9" fill-opacity="0.8"/>
<circle cx="451.2" cy="83.0" r="2.9" fill="#7abbb9" fill-opacity="0.8"/>
<circle cx="411.8" cy="112.8" r="2.9" fill="#7abbb9" fill-opacity="0.8"/>
<circle cx="432.9" cy="118.4" r="2.9" fill="#7abbb9" fill-opacity="0.8"/>
<circle cx="437.7" cy="78.0" r="2.9" fill="#7abab9" fill-opacity="0.8"/>
<circle cx="428.8" cy="83.5" r="2.9" fill="#7abab9" fill-opacity="0.8"/>
<circle cx="451.9" cy="84.4" r="2.9" fill="#7abab9" fill-opacity="0.8"/>
<circle cx="420.3" cy="94.5" r="2.9" fill="#7abab9" fill-opacity="0.8"/>
<circle cx="447.3" cy="101.8" r="2.9" fill="#79bab9" fill-opacity="0.8"/>
<circle cx="446.5" cy="79.4" r="2.9" fill="#79bab9" fill-opacity="0.8"/>
<circle cx="449.5" cy="97.9" r="2.9" fill="#79bab9" fill-opacity="0.8"/>
<circle cx="435.7" cy="78.7" r="2.9" fill="#79bab9" fill-opacity="0.8"/>
<circle cx="445.7" cy="79.1" r="2.9" fill="#79bab8" fill-opacity="0.8"/>
<circle cx="426.7" cy="86.2" r="2.9" fill="#79bab8" fill-opacity="0.8"/>
<circle cx="415.0" cy="103.1" r="2.9" fill="#79bab8" fill-opacity="0.8"/>
<circle cx="446.5" cy="79.5" r="2.9" fill="#79bab8" fill-opacity="0.8"/>
<circle cx="437.8" cy="78.1" r="2.9" fill="#79bab8" fill-opacity="0.8"/>
<circle cx="437.1" cy="115.6" r="2.9" fill="#79bab8" fill-opacity="0.8"/>
<circle cx="448.9" cy="81.0" r="2.9" fill="#79bab8" fill-opacity="0.8"/>
<circle cx="431.1" cy="81.5" r="2.9" fill="#79bab8" fill-opacity="0.8"/>
<circle cx="422.2" cy="92.1" r="2.9" fill="#79bab8" fill-opacity="0.8"/>
<circle cx="451.7" cy="93.2" r="2.9" fill="#79bab8" fill-opacity="0.8"/>
<circle cx="452.6" cy="89.9" r="2.9" fill="#79bab8" fill-opacity="0.8"/>
<circle cx="426.7" cy="86.3" r="2.9" fill="#78bab8" fill-opacity="0.8"/>
<circle cx="451.1" cy="94.7" r="2.9" fill="#78bab8" fill-opacity="0.8"/>
<circle cx="432.1" cy="118.6" r="2.9" fill="#78bab8" fill-opacity="0.8"/>
<circle cx="412.4" cy="109.8" r="2.9" fill="#78bab8" fill-opacity="0.8"/>
<circle cx="416.0" cy="101.5" r="2.9" fill="#78bab8" fill-opacity="0.8"/>
<circle cx="423.6" cy="90.4" r="2.9" fill="#78b9b8" fill-opacity="0.8"/>
<circle cx="419.5" cy="120.6" r="2.9" fill="#78b9b8" fill-opacity="0.8"/>
<circle cx="447.6" cy="101.0" r="2.9" fill="#78b9b8" fill-opacity="0.8"/>
<circle cx="449.9" cy="96.8" r="2.9" fill="#78b9b8" fill-opacity="0.8"/>
<circle cx="414.9" cy="118.2" r="2.9" fill="#78b9b8" fill-opacity="0.8"/>
<circle cx="415.2" cy="103.2" r="2.9" fill="#78b9b8" fill-opacity="0.8"/>
<circle cx="450.5" cy="83.1" r="2.9" fill="#77b9b7" fill-opacity="0.8"/>
<circle cx="451.9" cy="92.0" r="2.9" fill="#77b9b7" fill-opacity="0.8"/>
<circle cx="412.4" cy="110.8" r="2.9" fill="#77b9b7" fill-opacity="0.8"/>
<circle cx="452.0" cy="91.6" r="2.9" fill="#77b9b7" fill-opacity="0.8"/>
<circle cx="412.5" cy="113.9" r="2.9" fill="#77b9b7" fill-opacity="0.8"/>
<circle cx="451.5" cy="93.2" r="2.9" fill="#77b9b7" fill-opacity="0.8"/>
<circle cx="413.5" cy="116.3" r="2.9" fill="#77b9b7" fill-opacity="0.8"/>
<circle cx="448.2" cy="81.1" r="2.9" fill="#76b9b7" fill-opacity="0.8"/>
<circle cx="429.6" cy="83.4" r="2.9" fill="#76b9b7" fill-opacity="0.8"/>
<circle cx="413.7" cy="116.6" r="2.9" fill="#76b9b7" fill-opacity="0.8"/>
<circle cx="440.7" cy="111.8" r="2.9" fill="#76b9b7" fill-opacity="0.8"/>
<circle cx="421.6" cy="93.3" r="2.9" fill="#76b8b7" fill-opacity="0.8"/>
<circle cx="446.3" cy="80.1" r="2.9" fill="#76b8b7" fill-opacity="0.8"/>
<circle cx="443.9" cy="79.2" r="2.9" fill="#76b8b7" fill-opacity="0.8"/>
<circle cx="441.1" cy="111.3" r="2.9" fill="#76b8b7" fill-opacity="0.8"/>
<circle cx="443.2" cy="108.4" r="2.9" fill="#76b8b7" fill-opacity="0.8"/>
<circle cx="452.1" cy="87.8" r="2.9" fill="#75b8b7" fill-opacity="0.8"/>
<circle cx="432.2" cy="81.3" r="2.9" fill="#75b8b7" fill-opacity="0.8"/>
<circle cx="433.5" cy="80.4" r="2.9" fill="#75b8b7" fill-opacity="0.8"/>
<circle cx="433.3" cy="80.6" r="2.9" fill="#75b8b7" fill-opacity="0.8"/>
<circle cx="437.6" cy="79.0" r="2.9" fill="#75b8b6" fill-opacity="0.8"/>
<circle cx="436.7" cy="79.2" r="2.9" fill="#75b8b6" fill-opacity="0.8"/>
<circle cx="448.3" cy="81.6" r="2.9" fill="#74b8b6" fill-opacity="0.8"/>
<circle cx="412.7" cy="112.1" r="2.9" fill="#74b8b6" fill-opacity="0.8"/>
<circle cx="422.5" cy="120.7" r="2.9" fill="#74b8b6" fill-opacity="0.8"/>
<circle cx="427.7" cy="120.0" r="2.9" fill="#74b8b6" fill-opacity="0.8"/>
<circle cx="448.0" cy="99.4" r="2.9" fill="#74b7b6" fill-opacity="0.8"/>
<circle cx="447.3" cy="81.0" r="2.9" fill="#74b7b6" fill-opacity="0.8"/>
<circle cx="441.9" cy="79.2" r="2.9" fill="#74b7b6" fill-opacity="0.8"/>
<circle cx="423.2" cy="120.6" r="2.9" fill="#74b7b6" fill-opacity="0.8"/>
<circle cx="429.1" cy="119.5" r="2.9" fill="#74b7b6" fill-opacity="0.8"/>
<circle cx="418.6" cy="98.0" r="2.9" fill="#73b7b6" fill-opacity="0.8"/>
<circle cx="451.6" cy="86.8" r="2.9" fill="#73b7b5" fill-opacity="0.8"/>
<circle cx="435.0" cy="116.5" r="2.9" fill="#73b7b5" fill-opacity="0.8"/>
<circle cx="451.7" cy="90.1" r="2.9" fill="#73b7b5" fill-opacity="0.8"/>
<circle cx="446.6" cy="101.7" r="2.9" fill="#73b7b5" fill-opacity="0.8"/>
<circle cx="451.6" cy="87.2" r="2.9" fill="#73b7b5" fill-opacity="0.8"/>
<circle cx="430.2" cy="83.6" r="2.9" fill="#72b7b5" fill-opacity="0.8"/>
<circle cx="451.4" cy="86.5" r="2.9" fill="#72b7b5" fill-opacity="0.8"/>
<circle cx="429.3" cy="84.5" r="2.9" fill="#72b7b5" fill-opacity="0.8"/>
<circle cx="436.2" cy="79.8" r="2.9" fill="#72b7b5" fill-opacity="0.8"/>
<circle cx="441.1" cy="110.8" r="2.9" fill="#72b6b5" fill-opacity="0.8"/>
<circle cx="443.7" cy="80.0" r="2.9" fill="#72b6b5" fill-opacity="0.8"/>
<circle cx="435.4" cy="80.2" r="2.9" fill="#72b6b5" fill-opacity="0.8"/>
<circle cx="430.2" cy="83.6" r="2.9" fill="#72b6b5" fill-opacity="0.8"/>
<circle cx="445.8" cy="80.8" r="2.9" fill="#72b6b5" fill-opacity="0.8"/>
<circle cx="451.6" cy="89.1" r="2.9" fill="#72b6b5" fill-opacity="0.8"/>
<circle cx="448.9" cy="82.8" r="2.9" fill="#72b6b5" fill-opacity="0.8"/>
<circle cx="431.1" cy="118.5" r="2.9" fill="#72b6b5" fill-opacity="0.8"/>
<circle cx="417.8" cy="119.3" r="2.9" fill="#72b6b5" fill-opacity="0.8"/>
<circle cx="447.5" cy="81.8" r="2.9" fill="#72b6b5" fill-opacity="0.8"/>
<circle cx="451.1" cy="92.3" r="2.9" fill="#71b6b5" fill-opacity="0.8"/>
<circle cx="449.4" cy="96.3" r="2.9" fill="#71b6b5" fill-opacity="0.8"/>
<circle cx="439.7" cy="79.5" r="2.9" fill="#71b6b4" fill-opacity="0.8"/>
<circle cx="449.1" cy="96.7" r="2.9" fill="#71b6b4" fill-opacity="0.8"/>
<circle cx="416.9" cy="101.5" r="2.9" fill="#71b6b4" fill-opacity="0.8"/>
<circle cx="433.2" cy="81.5" r="2.9" fill="#71b6b4" fill-opacity="0.8"/>
<circle cx="429.8" cy="84.3" r="2.9" fill="#71b6b4" fill-opacity="0.8"/>
<circle cx="427.2" cy="87.4" r="2.9" fill="#70b5b4" fill-opacity="0.8"/>
<circle cx="426.3" cy="88.5" r="2.9" fill="#70b5b4" fill-opacity="0.8"/>
<circle cx="422.1" cy="93.8" r="2.9" fill="#70b5b4" fill-opacity="0.8"/>
<circle cx="416.3" cy="102.8" r="2.9" fill="#70b5b4" fill-opacity="0.8"/>
<circle cx="435.2" cy="80.7" r="2.9" fill="#70b5b4" fill-opacity="0.8"/>
<circle cx="426.6" cy="88.1" r="2.9" fill="#6fb5b4" fill-opacity="0.8"/>
<circle cx="439.5" cy="79.9" r="2.9" fill="#6fb5b3" fill-opacity="0.8"/>
<circle cx="450.9" cy="86.9" r="2.9" fill="#6fb5b3" fill-opacity="0.8"/>
<circle cx="449.5" cy="95.5" r="2.9" fill="#6fb5b3" fill-opacity="0.8"/>
<circle cx="413.5" cy="111.1" r="2.9" fill="#6fb5b3" fill-opacity="0.8"/>
<circle cx="450.6" cy="86.2" r="2.9" fill="#6fb5b3" fill-opacity="0.8"/>
<circle cx="415.1" cy="116.6" r="2.9" fill="#6fb5b3" fill-opacity="0.8"/>
<circle cx="439.4" cy="112.2" r="2.9" fill="#6eb5b3" fill-opacity="0.8"/>
<circle cx="450.3" cy="93.4" r="2.9" fill="#6eb5b3" fill-opacity="0.8"/>
<circle cx="442.3" cy="108.5" r="2.9" fill="#6eb5b3" fill-opacity="0.8"/>
<circle cx="450.9" cy="88.0" r="2.9" fill="#6eb4b3" fill-opacity="0.8"/>
<circle cx="414.1" cy="114.6" r="2.9" fill="#6eb4b3" fill-opacity="0.8"/>
<circle cx="441.3" cy="109.9" r="2.9" fill="#6eb4b3" fill-opacity="0.8"/>
<circle cx="430.3" cy="84.4" r="2.9" fill="#6eb4b3" fill-opacity="0.8"/>
<circle cx="440.6" cy="80.3" r="2.9" fill="#6eb4b3" fill-opacity="0.8"/>
<circle cx="449.8" cy="85.2" r="2.9" fill="#6db4b3" fill-opacity="0.8"/>
<circle cx="413.8" cy="110.5" r="2.9" fill="#6db4b3" fill-opacity="0.8"/>
<circle cx="414.8" cy="115.9" r="2.9" fill="#6db4b2" fill-opacity="0.8"/>
<circle cx="449.3" cy="84.6" r="2.9" fill="#6db4b2" fill-opacity="0.8"/>
<circle cx="414.9" cy="106.7" r="2.9" fill="#6db4b2" fill-opacity="0.8"/>
<circle cx="450.8" cy="88.5" r="2.9" fill="#6db4b2" fill-opacity="0.8"/>
<circle cx="443.4" cy="81.1" r="2.9" fill="#6cb4b2" fill-opacity="0.8"/>
<circle cx="448.9" cy="95.9" r="2.9" fill="#6cb3b2" fill-opacity="0.8"/>
<circle cx="442.9" cy="107.1" r="2.9" fill="#6cb3b2" fill-opacity="0.8"/>
<circle cx="446.3" cy="100.8" r="2.9" fill="#6bb3b2" fill-opacity="0.8"/>
<circle cx="444.4" cy="104.3" r="2.9" fill="#6bb3b2" fill-opacity="0.8"/>
<circle cx="444.4" cy="81.7" r="2.9" fill="#6bb3b1" fill-opacity="0.8"/>
<circle cx="441.5" cy="81.0" r="2.9" fill="#6bb3b1" fill-opacity="0.8"/>
<circle cx="415.1" cy="106.7" r="2.9" fill="#6bb3b1" fill-opacity="0.8"/>
<circle cx="414.2" cy="110.2" r="2.9" fill="#6bb3b1" fill-opacity="0.8"/>
<circle cx="449.8" cy="86.5" r="2.9" fill="#6ab2b1" fill-opacity="0.8"/>
<circle cx="414.5" cy="109.0" r="2.9" fill="#6ab2b1" fill-opacity="0.8"/>
<circle cx="442.3" cy="81.3" r="2.9" fill="#6ab2b1" fill-opacity="0.8"/>
<circle cx="440.6" cy="81.1" r="2.9" fill="#6ab2b1" fill-opacity="0.8"/>
<circle cx="427.0" cy="88.8" r="2.9" fill="#6ab2b1" fill-opacity="0.8"/>
<circle cx="448.9" cy="85.1" r="2.9" fill="#6ab2b1" fill-opacity="0.8"/>
<circle cx="439.4" cy="81.1" r="2.9" fill="#6ab2b1" fill-opacity="0.8"/>
<circle cx="448.5" cy="95.9" r="2.9" fill="#6ab2b1" fill-opacity="0.8"/>
<circle cx="422.7" cy="119.5" r="2.9" fill="#6ab2b1" fill-opacity="0.8"/>
<circle cx="449.3" cy="86.0" r="2.9" fill="#69b2b0" fill-opacity="0.8"/>
<circle cx="449.7" cy="92.7" r="2.9" fill="#69b2b0" fill-opacity="0.8"/>
<circle cx="449.8" cy="87.4" r="2.9" fill="#68b2b0" fill-opacity="0.8"/>
<circle cx="436.0" cy="81.9" r="2.9" fill="#68b2b0" fill-opacity="0.8"/>
<circle cx="435.0" cy="82.2" r="2.9" fill="#68b1b0" fill-opacity="0.8"/>
<circle cx="442.6" cy="81.8" r="2.9" fill="#68b1b0" fill-opacity="0.8"/>
<circle cx="421.1" cy="119.2" r="2.9" fill="#68b1b0" fill-opacity="0.8"/>
<circle cx="434.1" cy="82.7" r="2.9" fill="#68b1b0" fill-opacity="0.8"/>
<circle cx="415.4" cy="115.4" r="2.9" fill="#68b1b0" fill-opacity="0.8"/>
<circle cx="424.3" cy="92.3" r="2.9" fill="#68b1b0" fill-opacity="0.8"/>
<circle cx="416.0" cy="105.4" r="2.9" fill="#67b1af" fill-opacity="0.8"/>
<circle cx="414.8" cy="109.3" r="2.9" fill="#67b1af" fill-opacity="0.8"/>
<circle cx="449.8" cy="91.3" r="2.9" fill="#67b1af" fill-opacity="0.8"/>
<circle cx="415.0" cy="108.6" r="2.9" fill="#67b1af" fill-opacity="0.8"/>
<circle cx="434.5" cy="82.8" r="2.9" fill="#67b1af" fill-opacity="0.8"/>
<circle cx="429.9" cy="117.9" r="2.9" fill="#67b1af" fill-opacity="0.8"/>
<circle cx="428.4" cy="87.8" r="2.9" fill="#66b1af" fill-opacity="0.8"/>
<circle cx="446.3" cy="83.7" r="2.9" fill="#66b1af" fill-opacity="0.8"/>
<circle cx="416.7" cy="104.1" r="2.9" fill="#66b1af" fill-opacity="0.8"/>
<circle cx="419.9" cy="118.6" r="2.9" fill="#66b0af" fill-opacity="0.8"/>
<circle cx="447.2" cy="97.8" r="2.9" fill="#66b0af" fill-opacity="0.8"/>
<circle cx="414.8" cy="112.9" r="2.9" fill="#66b0af" fill-opacity="0.8"/>
<circle cx="418.9" cy="118.2" r="2.9" fill="#66b0af" fill-opacity="0.8"/>
<circle cx="430.1" cy="86.1" r="2.9" fill="#65b0ae" fill-opacity="0.8"/>
<circle cx="424.8" cy="119.1" r="2.9" fill="#65b0ae" fill-opacity="0.8"/>
<circle cx="439.2" cy="82.0" r="2.9" fill="#65b0ae" fill-opacity="0.8"/>
<circle cx="426.9" cy="89.6" r="2.9" fill="#65b0ae" fill-opacity="0.8"/>
<circle cx="432.4" cy="84.3" r="2.9" fill="#65b0ae" fill-opacity="0.8"/>
<circle cx="434.3" cy="115.4" r="2.9" fill="#65b0ae" fill-opacity="0.8"/>
<circle cx="425.1" cy="119.0" r="2.9" fill="#65b0ae" fill-opacity="0.8"/>
<circle cx="422.3" cy="119.0" r="2.9" fill="#65b0ae" fill-opacity="0.8"/>
<circle cx="414.9" cy="112.3" r="2.9" fill="#65b0ae" fill-opacity="0.8"/>
<circle cx="449.4" cy="91.5" r="2.9" fill="#64b0ae" fill-opacity="0.8"/>
<circle cx="427.4" cy="118.5" r="2.9" fill="#64b0ae" fill-opacity="0.8"/>
<circle cx="427.2" cy="89.5" r="2.9" fill="#64afae" fill-opacity="0.8"/>
<circle cx="449.4" cy="89.1" r="2.9" fill="#64afae" fill-opacity="0.8"/>
<circle cx="443.9" cy="104.0" r="2.9" fill="#64afae" fill-opacity="0.8"/>
<circle cx="418.1" cy="117.5" r="2.9" fill="#64afae" fill-opacity="0.8"/>
<circle cx="415.1" cy="112.5" r="2.9" fill="#63afad" fill-opacity="0.8"/>
<circle cx="447.7" cy="95.8" r="2.9" fill="#63afad" fill-opacity="0.8"/>
<circle cx="422.5" cy="118.8" r="2.9" fill="#63afad" fill-opacity="0.8"/>
<circle cx="448.5" cy="93.9" r="2.9" fill="#63afad" fill-opacity="0.8"/>
<circle cx="436.7" cy="82.7" r="2.9" fill="#63afad" fill-opacity="0.8"/>
<circle cx="440.7" cy="109.0" r="2.9" fill="#63afad" fill-opacity="0.8"/>
<circle cx="419.0" cy="117.8" r="2.9" fill="#63afad" fill-opacity="0.8"/>
<circle cx="447.1" cy="96.9" r="2.9" fill="#62afad" fill-opacity="0.8"/>
<circle cx="448.9" cy="92.1" r="2.9" fill="#62aead" fill-opacity="0.8"/>
<circle cx="421.2" cy="97.2" r="2.9" fill="#62aead" fill-opacity="0.8"/>
<circle cx="449.1" cy="89.7" r="2.9" fill="#62aead" fill-opacity="0.8"/>
<circle cx="432.9" cy="84.6" r="2.9" fill="#62aead" fill-opacity="0.8"/>
<circle cx="424.4" cy="118.7" r="2.9" fill="#61aeac" fill-opacity="0.8"/>
<circle cx="435.9" cy="113.8" r="2.9" fill="#61aeac" fill-opacity="0.8"/>
<circle cx="427.1" cy="90.2" r="2.9" fill="#61aeac" fill-opacity="0.8"/>
<circle cx="420.5" cy="118.2" r="2.9" fill="#61aeac" fill-opacity="0.8"/>
<circle cx="418.0" cy="116.9" r="2.9" fill="#61aeac" fill-opacity="0.8"/>
<circle cx="415.6" cy="113.4" r="2.9" fill="#61aeac" fill-opacity="0.8"/>
<circle cx="437.1" cy="83.1" r="2.9" fill="#61aeac" fill-opacity="0.8"/>
<circle cx="434.8" cy="83.8" r="2.9" fill="#60aeac" fill-opacity="0.8"/>
<circle cx="439.0" cy="82.9" r="2.9" fill="#60aeac" fill-opacity="0.8"/>
<circle cx="416.3" cy="114.8" r="2.9" fill="#60adac" fill-opacity="0.8"/>
<circle cx="448.7" cy="89.3" r="2.9" fill="#60adac" fill-opacity="0.8"/>
<circle cx="427.1" cy="118.2" r="2.9" fill="#60adac" fill-opacity="0.8"/>
<circle cx="429.1" cy="117.5" r="2.9" fill="#60adac" fill-opacity="0.8"/>
<circle cx="416.9" cy="115.7" r="2.9" fill="#60adac" fill-opacity="0.8"/>
<circle cx="429.0" cy="88.3" r="2.9" fill="#60adac" fill-opacity="0.8"/>
<circle cx="446.2" cy="85.3" r="2.9" fill="#60adac" fill-opacity="0.8"/>
<circle cx="423.0" cy="118.5" r="2.9" fill="#60adac" fill-opacity="0.8"/>
<circle cx="444.3" cy="101.9" r="2.9" fill="#5fadab" fill-opacity="0.8"/>
<circle cx="436.8" cy="112.9" r="2.9" fill="#5fadab" fill-opacity="0.8"/>
<circle cx="416.6" cy="115.0" r="2.9" fill="#5fadab" fill-opacity="0.8"/>
<circle cx="447.4" cy="95.2" r="2.9" fill="#5fadab" fill-opacity="0.8"/>
<circle cx="427.3" cy="90.3" r="2.9" fill="#5fadab" fill-opacity="0.8"/>
<circle cx="442.5" cy="83.8" r="2.9" fill="#5fadab" fill-opacity="0.8"/>
<circle cx="448.2" cy="88.8" r="2.9" fill="#5eacab" fill-opacity="0.8"/>
<circle cx="446.1" cy="98.0" r="2.9" fill="#5eacab" fill-opacity="0.8"/>
<circle cx="447.8" cy="87.8" r="2.9" fill="#5eacab" fill-opacity="0.8"/>
<circle cx="446.4" cy="86.0" r="2.9" fill="#5eacab" fill-opacity="0.8"/>
<circle cx="440.8" cy="108.2" r="2.9" fill="#5eacab" fill-opacity="0.8"/>
<circle cx="431.1" cy="86.7" r="2.9" fill="#5eacab" fill-opacity="0.8"/>
<circle cx="445.8" cy="85.6" r="2.9" fill="#5eacaa" fill-opacity="0.8"/>
<circle cx="443.1" cy="84.2" r="2.9" fill="#5eacaa" fill-opacity="0.8"/>
<circle cx="447.7" cy="88.1" r="2.9" fill="#5dacaa" fill-opacity="0.8"/>
<circle cx="445.0" cy="99.9" r="2.9" fill="#5dacaa" fill-opacity="0.8"/>
<circle cx="436.3" cy="84.0" r="2.9" fill="#5dacaa" fill-opacity="0.8"/>
<circle cx="441.1" cy="107.4" r="2.9" fill="#5dacaa" fill-opacity="0.8"/>
<circle cx="446.2" cy="86.3" r="2.9" fill="#5cabaa" fill-opacity="0.8"/>
<circle cx="437.2" cy="112.2" r="2.9" fill="#5cabaa" fill-opacity="0.8"/>
<circle cx="428.9" cy="89.1" r="2.9" fill="#5cabaa" fill-opacity="0.8"/>
<circle cx="447.9" cy="89.9" r="2.9" fill="#5caba9" fill-opacity="0.8"/>
<circle cx="428.3" cy="89.7" r="2.9" fill="#5caba9" fill-opacity="0.8"/>
<circle cx="434.9" cy="84.7" r="2.9" fill="#5baba9" fill-opacity="0.8"/>
<circle cx="429.7" cy="88.4" r="2.9" fill="#5baba9" fill-opacity="0.8"/>
<circle cx="436.1" cy="84.4" r="2.9" fill="#5baba9" fill-opacity="0.8"/>
<circle cx="430.8" cy="87.4" r="2.9" fill="#5baba9" fill-opacity="0.8"/>
<circle cx="446.2" cy="96.7" r="2.9" fill="#5baba9" fill-opacity="0.8"/>
<circle cx="429.0" cy="117.1" r="2.9" fill="#5baba9" fill-opacity="0.8"/>
<circle cx="447.5" cy="88.9" r="2.9" fill="#5baba9" fill-opacity="0.8"/>
<circle cx="428.5" cy="117.2" r="2.9" fill="#5baba9" fill-opacity="0.8"/>
<circle cx="416.2" cy="111.5" r="2.9" fill="#5aaaa9" fill-opacity="0.8"/>
<circle cx="446.9" cy="94.8" r="2.9" fill="#5aaaa9" fill-opacity="0.8"/>
<circle cx="419.4" cy="116.8" r="2.9" fill="#5aaaa9" fill-opacity="0.8"/>
<circle cx="445.7" cy="86.6" r="2.9" fill="#5aaaa9" fill-opacity="0.8"/>
<circle cx="416.3" cy="111.7" r="2.9" fill="#5aaaa9" fill-opacity="0.8"/>
<circle cx="442.2" cy="105.0" r="2.9" fill="#5aaaa8" fill-opacity="0.8"/>
<circle cx="419.3" cy="101.7" r="2.9" fill="#5aaaa8" fill-opacity="0.8"/>
<circle cx="447.6" cy="90.6" r="2.9" fill="#5aaaa8" fill-opacity="0.8"/>
<circle cx="447.6" cy="91.4" r="2.9" fill="#5aaaa8" fill-opacity="0.8"/>
<circle cx="434.9" cy="85.1" r="2.9" fill="#59aaa8" fill-opacity="0.8"/>
<circle cx="426.9" cy="91.6" r="2.9" fill="#59aaa8" fill-opacity="0.8"/>
<circle cx="433.2" cy="114.9" r="2.9" fill="#59aaa8" fill-opacity="0.8"/>
<circle cx="421.4" cy="98.4" r="2.9" fill="#59aaa8" fill-opacity="0.8"/>
<circle cx="444.0" cy="85.7" r="2.9" fill="#59aaa8" fill-opacity="0.8"/>
<circle cx="422.5" cy="96.9" r="2.9" fill="#59aaa8" fill-opacity="0.8"/>
<circle cx="444.4" cy="86.0" r="2.9" fill="#58aaa8" fill-opacity="0.8"/>
<circle cx="420.9" cy="99.2" r="2.9" fill="#58a9a8" fill-opacity="0.8"/>
<circle cx="443.6" cy="85.7" r="2.9" fill="#58a9a8" fill-opacity="0.8"/>
<circle cx="416.7" cy="108.7" r="2.9" fill="#58a9a8" fill-opacity="0.8"/>
<circle cx="417.4" cy="106.1" r="2.9" fill="#58a9a8" fill-opacity="0.8"/>
<circle cx="435.7" cy="85.2" r="2.9" fill="#58a9a8" fill-opacity="0.8"/>
<circle cx="441.7" cy="105.7" r="2.9" fill="#58a9a8" fill-opacity="0.8"/>
<circle cx="416.7" cy="109.0" r="2.9" fill="#57a9a7" fill-opacity="0.8"/>
<circle cx="422.9" cy="117.6" r="2.9" fill="#57a9a7" fill-opacity="0.8"/>
<circle cx="437.9" cy="84.9" r="2.9" fill="#57a9a7" fill-opacity="0.8"/>
<circle cx="425.9" cy="93.1" r="2.9" fill="#57a9a7" fill-opacity="0.8"/>
<circle cx="431.5" cy="115.6" r="2.9" fill="#57a9a7" fill-opacity="0.8"/>
<circle cx="422.8" cy="117.5" r="2.9" fill="#57a9a7" fill-opacity="0.8"/>
<circle cx="418.7" cy="115.8" r="2.9" fill="#57a9a7" fill-opacity="0.8"/>
<circle cx="446.4" cy="94.5" r="2.9" fill="#57a9a7" fill-opacity="0.8"/>
<circle cx="446.0" cy="88.2" r="2.9" fill="#56a8a7" fill-opacity="0.8"/>
<circle cx="417.5" cy="114.1" r="2.9" fill="#56a8a7" fill-opacity="0.8"/>
<circle cx="416.8" cy="110.1" r="2.9" fill="#56a8a6" fill-opacity="0.8"/>
<circle cx="445.3" cy="97.4" r="2.9" fill="#56a8a6" fill-opacity="0.8"/>
<circle cx="444.3" cy="86.8" r="2.9" fill="#56a8a6" fill-opacity="0.8"/>
<circle cx="416.8" cy="110.6" r="2.9" fill="#55a8a6" fill-opacity="0.8"/>
<circle cx="433.3" cy="86.8" r="2.9" fill="#55a8a6" fill-opacity="0.8"/>
<circle cx="443.8" cy="100.6" r="2.9" fill="#55a8a6" fill-opacity="0.8"/>
<circle cx="417.8" cy="106.1" r="2.9" fill="#55a8a6" fill-opacity="0.8"/>
<circle cx="443.4" cy="101.4" r="2.9" fill="#55a8a6" fill-opacity="0.8"/>
<circle cx="435.4" cy="85.9" r="2.9" fill="#55a8a6" fill-opacity="0.8"/>
<circle cx="422.2" cy="98.0" r="2.9" fill="#55a8a6" fill-opacity="0.8"/>
<circle cx="436.7" cy="111.7" r="2.9" fill="#55a8a6" fill-opacity="0.8"/>
<circle cx="432.4" cy="114.9" r="2.9" fill="#54a7a6" fill-opacity="0.8"/>
<circle cx="417.6" cy="106.7" r="2.9" fill="#54a7a6" fill-opacity="0.8"/>
<circle cx="436.9" cy="85.6" r="2.9" fill="#54a7a6" fill-opacity="0.8"/>
<circle cx="417.1" cy="109.0" r="2.9" fill="#54a7a6" fill-opacity="0.8"/>
<circle cx="419.5" cy="102.5" r="2.9" fill="#54a7a5" fill-opacity="0.8"/>
<circle cx="439.1" cy="108.9" r="2.9" fill="#53a7a5" fill-opacity="0.8"/>
<circle cx="421.1" cy="116.7" r="2.9" fill="#53a7a5" fill-opacity="0.8"/>
<circle cx="433.6" cy="87.0" r="2.9" fill="#53a7a5" fill-opacity="0.8"/>
<circle cx="431.3" cy="115.3" r="2.9" fill="#53a7a5" fill-opacity="0.8"/>
<circle cx="445.3" cy="96.1" r="2.9" fill="#53a7a5" fill-opacity="0.8"/>
<circle cx="417.5" cy="112.9" r="2.9" fill="#53a7a5" fill-opacity="0.8"/>
<circle cx="427.5" cy="92.1" r="2.9" fill="#53a7a5" fill-opacity="0.8"/>
<circle cx="435.1" cy="112.8" r="2.9" fill="#53a7a5" fill-opacity="0.8"/>
<circle cx="445.8" cy="94.2" r="2.9" fill="#52a6a5" fill-opacity="0.8"/>
<circle cx="431.3" cy="115.2" r="2.9" fill="#52a6a4" fill-opacity="0.8"/>
<circle cx="425.4" cy="94.5" r="2.9" fill="#52a6a4" fill-opacity="0.8"/>
<circle cx="419.2" cy="103.6" r="2.9" fill="#51a6a4" fill-opacity="0.8"/>
<circle cx="446.0" cy="91.7" r="2.9" fill="#51a6a4" fill-opacity="0.8"/>
<circle cx="422.5" cy="98.1" r="2.9" fill="#51a6a4" fill-opacity="0.8"/>
<circle cx="428.4" cy="91.4" r="2.9" fill="#51a6a4" fill-opacity="0.8"/>
<circle cx="445.6" cy="93.9" r="2.9" fill="#50a5a4" fill-opacity="0.8"/>
<circle cx="437.8" cy="86.2" r="2.9" fill="#50a5a4" fill-opacity="0.8"/>
<circle cx="426.3" cy="93.7" r="2.9" fill="#50a5a4" fill-opacity="0.8"/>
<circle cx="417.8" cy="112.8" r="2.9" fill="#50a5a4" fill-opacity="0.8"/>
<circle cx="417.7" cy="112.5" r="2.9" fill="#50a5a4" fill-opacity="0.8"/>
<circle cx="445.7" cy="91.3" r="2.9" fill="#50a5a4" fill-opacity="0.8"/>
<circle cx="420.8" cy="100.9" r="2.9" fill="#50a5a4" fill-opacity="0.8"/>
<circle cx="435.7" cy="112.0" r="2.9" fill="#50a5a3" fill-opacity="0.8"/>
<circle cx="443.2" cy="87.6" r="2.9" fill="#50a5a3" fill-opacity="0.8"/>
<circle cx="421.6" cy="99.6" r="2.9" fill="#50a5a3" fill-opacity="0.8"/>
<circle cx="442.1" cy="87.1" r="2.9" fill="#50a5a3" fill-opacity="0.8"/>
<circle cx="438.2" cy="86.4" r="2.9" fill="#4fa5a3" fill-opacity="0.8"/>
<circle cx="437.0" cy="86.5" r="2.9" fill="#4fa5a3" fill-opacity="0.8"/>
<circle cx="445.2" cy="90.2" r="2.9" fill="#4fa5a3" fill-opacity="0.8"/>
<circle cx="441.0" cy="86.9" r="2.9" fill="#4fa5a3" fill-opacity="0.8"/>
<circle cx="423.7" cy="116.7" r="2.9" fill="#4fa5a3" fill-opacity="0.8"/>
<circle cx="440.2" cy="86.7" r="2.9" fill="#4fa5a3" fill-opacity="0.8"/>
<circle cx="445.0" cy="95.2" r="2.9" fill="#4fa5a3" fill-opacity="0.8"/>
<circle cx="437.6" cy="110.1" r="2.9" fill="#4fa5a3" fill-opacity="0.8"/>
<circle cx="422.1" cy="116.4" r="2.9" fill="#4fa4a3" fill-opacity="0.8"/>
<circle cx="444.0" cy="98.2" r="2.9" fill="#4fa4a3" fill-opacity="0.8"/>
<circle cx="429.6" cy="90.7" r="2.9" fill="#4ea4a3" fill-opacity="0.8"/>
<circle cx="444.2" cy="89.0" r="2.9" fill="#4ea4a3" fill-opacity="0.8"/>
<circle cx="444.5" cy="96.8" r="2.9" fill="#4ea4a3" fill-opacity="0.8"/>
<circle cx="429.8" cy="90.7" r="2.9" fill="#4ea4a2" fill-opacity="0.8"/>
<circle cx="432.3" cy="114.2" r="2.9" fill="#4ea4a2" fill-opacity="0.8"/>
<circle cx="426.8" cy="116.4" r="2.9" fill="#4ea4a2" fill-opacity="0.8"/>
<circle cx="444.5" cy="89.7" r="2.9" fill="#4da4a2" fill-opacity="0.8"/>
<circle cx="442.7" cy="88.0" r="2.9" fill="#4da4a2" fill-opacity="0.8"/>
<circle cx="438.7" cy="86.9" r="2.9" fill="#4da4a2" fill-opacity="0.8"/>
<circle cx="417.9" cy="110.5" r="2.9" fill="#4da4a2" fill-opacity="0.8"/>
<circle cx="440.5" cy="105.6" r="2.9" fill="#4ca3a2" fill-opacity="0.8"/>
<circle cx="433.4" cy="88.3" r="2.9" fill="#4ca3a2" fill-opacity="0.8"/>
<circle cx="442.6" cy="101.2" r="2.9" fill="#4ca3a2" fill-opacity="0.8"/>
<circle cx="442.1" cy="88.0" r="2.9" fill="#4ca3a2" fill-opacity="0.8"/>
<circle cx="420.5" cy="102.2" r="2.9" fill="#4ca3a2" fill-opacity="0.8"/>
<circle cx="420.3" cy="102.6" r="2.9" fill="#4ca3a1" fill-opacity="0.8"/>
<circle cx="444.7" cy="91.1" r="2.9" fill="#4ca3a1" fill-opacity="0.8"/>
<circle cx="443.0" cy="99.8" r="2.9" fill="#4ca3a1" fill-opacity="0.8"/>
<circle cx="424.6" cy="96.3" r="2.9" fill="#4ca3a1" fill-opacity="0.8"/>
<circle cx="441.0" cy="87.7" r="2.9" fill="#4ca3a1" fill-opacity="0.8"/>
<circle cx="428.5" cy="115.6" r="2.9" fill="#4ba2a1" fill-opacity="0.8"/>
<circle cx="437.6" cy="87.4" r="2.9" fill="#4aa2a1" fill-opacity="0.8"/>
<circle cx="437.3" cy="109.7" r="2.9" fill="#4aa2a0" fill-opacity="0.8"/>
<circle cx="420.7" cy="115.1" r="2.9" fill="#4aa2a0" fill-opacity="0.8"/>
<circle cx="432.0" cy="89.6" r="2.9" fill="#4aa2a0" fill-opacity="0.8"/>
<circle cx="425.9" cy="116.1" r="2.9" fill="#4aa2a0" fill-opacity="0.8"/>
<circle cx="428.1" cy="92.8" r="2.9" fill="#4aa2a0" fill-opacity="0.8"/>
<circle cx="444.4" cy="93.4" r="2.9" fill="#49a2a0" fill-opacity="0.8"/>
<circle cx="443.6" cy="97.5" r="2.9" fill="#49a2a0" fill-opacity="0.8"/>
<circle cx="440.5" cy="105.0" r="2.9" fill="#49a2a0" fill-opacity="0.8"/>
<circle cx="444.2" cy="94.6" r="2.9" fill="#49a2a0" fill-opacity="0.8"/>
<circle cx="418.4" cy="110.0" r="2.9" fill="#49a2a0" fill-opacity="0.8"/>
<circle cx="420.9" cy="115.1" r="2.9" fill="#49a2a0" fill-opacity="0.8"/>
<circle cx="438.4" cy="87.8" r="2.9" fill="#49a1a0" fill-opacity="0.8"/>
<circle cx="429.1" cy="92.1" r="2.9" fill="#49a1a0" fill-opacity="0.8"/>
<circle cx="432.0" cy="89.8" r="2.9" fill="#48a1a0" fill-opacity="0.8"/>
<circle cx="419.3" cy="113.4" r="2.9" fill="#48a1a0" fill-opacity="0.8"/>
<circle cx="444.1" cy="93.2" r="2.9" fill="#48a19f" fill-opacity="0.8"/>
<circle cx="444.0" cy="93.6" r="2.9" fill="#47a19f" fill-opacity="0.8"/>
<circle cx="440.9" cy="88.7" r="2.9" fill="#47a19f" fill-opacity="0.8"/>
<circle cx="424.2" cy="115.9" r="2.9" fill="#47a19f" fill-opacity="0.8"/>
<circle cx="424.3" cy="97.4" r="2.9" fill="#47a19f" fill-opacity="0.8"/>
<circle cx="434.9" cy="111.7" r="2.9" fill="#47a19f" fill-opacity="0.8"/>
<circle cx="427.9" cy="115.4" r="2.9" fill="#47a19f" fill-opacity="0.8"/>
<circle cx="440.7" cy="88.7" r="2.9" fill="#47a19f" fill-opacity="0.8"/>
<circle cx="429.1" cy="92.4" r="2.9" fill="#47a09f" fill-opacity="0.8"/>
<circle cx="419.7" cy="113.4" r="2.9" fill="#46a09e" fill-opacity="0.8"/>
<circle cx="440.5" cy="104.2" r="2.9" fill="#46a09e" fill-opacity="0.8"/>
<circle cx="419.1" cy="112.1" r="2.9" fill="#46a09e" fill-opacity="0.8"/>
<circle cx="421.3" cy="114.8" r="2.9" fill="#46a09e" fill-opacity="0.8"/>
<circle cx="432.1" cy="113.5" r="2.9" fill="#46a09e" fill-opacity="0.8"/>
<circle cx="440.7" cy="89.0" r="2.9" fill="#45a09e" fill-opacity="0.8"/>
<circle cx="431.4" cy="90.8" r="2.9" fill="#45a09e" fill-opacity="0.8"/>
<circle cx="437.5" cy="88.5" r="2.9" fill="#45a09e" fill-opacity="0.8"/>
<circle cx="423.2" cy="115.5" r="2.9" fill="#45a09e" fill-opacity="0.8"/>
<circle cx="441.8" cy="101.0" r="2.9" fill="#45a09e" fill-opacity="0.8"/>
<circle cx="427.6" cy="94.0" r="2.9" fill="#45a09e" fill-opacity="0.8"/>
<circle cx="420.1" cy="113.7" r="2.9" fill="#45a09e" fill-opacity="0.8"/>
<circle cx="441.0" cy="89.3" r="2.9" fill="#45a09e" fill-opacity="0.8"/>
<circle cx="422.1" cy="115.1" r="2.9" fill="#45a09e" fill-opacity="0.8"/>
<circle cx="418.9" cy="110.3" r="2.9" fill="#45a09e" fill-opacity="0.8"/>
<circle cx="424.6" cy="115.6" r="2.9" fill="#459f9e" fill-opacity="0.8"/>
<circle cx="435.4" cy="89.0" r="2.9" fill="#449f9d" fill-opacity="0.8"/>
<circle cx="422.5" cy="100.3" r="2.9" fill="#449f9d" fill-opacity="0.8"/>
<circle cx="423.9" cy="98.4" r="2.9" fill="#449f9d" fill-opacity="0.8"/>
<circle cx="438.7" cy="107.0" r="2.9" fill="#449f9d" fill-opacity="0.8"/>
<circle cx="442.5" cy="98.2" r="2.9" fill="#449f9d" fill-opacity="0.8"/>
<circle cx="428.4" cy="93.6" r="2.9" fill="#439f9d" fill-opacity="0.8"/>
<circle cx="441.7" cy="100.6" r="2.9" fill="#439f9d" fill-opacity="0.8"/>
<circle cx="438.9" cy="89.1" r="2.9" fill="#439f9d" fill-opacity="0.8"/>
<circle cx="435.7" cy="110.5" r="2.9" fill="#439f9d" fill-opacity="0.8"/>
<circle cx="420.2" cy="113.2" r="2.9" fill="#439e9d" fill-opacity="0.8"/>
<circle cx="424.2" cy="98.2" r="2.9" fill="#429e9c" fill-opacity="0.8"/>
<circle cx="440.3" cy="89.8" r="2.9" fill="#429e9c" fill-opacity="0.8"/>
<circle cx="422.3" cy="114.7" r="2.9" fill="#429e9c" fill-opacity="0.8"/>
<circle cx="441.7" cy="90.9" r="2.9" fill="#429e9c" fill-opacity="0.8"/>
<circle cx="433.5" cy="112.1" r="2.9" fill="#429e9c" fill-opacity="0.8"/>
<circle cx="442.8" cy="93.1" r="2.9" fill="#429e9c" fill-opacity="0.8"/>
<circle cx="436.4" cy="89.3" r="2.9" fill="#429e9c" fill-opacity="0.8"/>
<circle cx="436.1" cy="89.5" r="2.9" fill="#419d9c" fill-opacity="0.8"/>
<circle cx="426.6" cy="95.8" r="2.9" fill="#409d9b" fill-opacity="0.8"/>
<circle cx="438.7" cy="106.3" r="2.9" fill="#409d9b" fill-opacity="0.8"/>
<circle cx="426.6" cy="115.0" r="2.9" fill="#409d9b" fill-opacity="0.8"/>
<circle cx="437.9" cy="107.5" r="2.9" fill="#409d9b" fill-opacity="0.8"/>
<circle cx="435.1" cy="110.6" r="2.9" fill="#409d9b" fill-opacity="0.8"/>
<circle cx="440.6" cy="102.5" r="2.9" fill="#409d9b" fill-opacity="0.8"/>
<circle cx="419.7" cy="111.0" r="2.9" fill="#409d9b" fill-opacity="0.8"/>
<circle cx="434.9" cy="90.0" r="2.9" fill="#409d9b" fill-opacity="0.8"/>
<circle cx="422.6" cy="101.0" r="2.9" fill="#409d9b" fill-opacity="0.8"/>
<circle cx="434.4" cy="90.2" r="2.9" fill="#3f9d9b" fill-opacity="0.8"/>
<circle cx="423.6" cy="114.9" r="2.9" fill="#3f9d9b" fill-opacity="0.8"/>
<circle cx="439.9" cy="90.3" r="2.9" fill="#3f9d9b" fill-opacity="0.8"/>
<circle cx="439.7" cy="90.2" r="2.9" fill="#3f9d9b" fill-opacity="0.8"/>
<circle cx="424.7" cy="98.1" r="2.9" fill="#3f9d9b" fill-opacity="0.8"/>
<circle cx="434.1" cy="90.4" r="2.9" fill="#3f9d9b" fill-opacity="0.8"/>
<circle cx="420.2" cy="112.2" r="2.9" fill="#3f9c9b" fill-opacity="0.8"/>
<circle cx="425.3" cy="115.0" r="2.9" fill="#3f9c9b" fill-opacity="0.8"/>
<circle cx="428.6" cy="94.1" r="2.9" fill="#3f9c9b" fill-opacity="0.8"/>
<circle cx="434.2" cy="90.5" r="2.9" fill="#3e9c9a" fill-opacity="0.8"/>
<circle cx="423.2" cy="100.2" r="2.9" fill="#3e9c9a" fill-opacity="0.8"/>
<circle cx="427.8" cy="94.9" r="2.9" fill="#3e9c9a" fill-opacity="0.8"/>
<circle cx="440.4" cy="90.9" r="2.9" fill="#3e9c9a" fill-opacity="0.8"/>
<circle cx="421.3" cy="103.7" r="2.9" fill="#3e9c9a" fill-opacity="0.8"/>
<circle cx="437.4" cy="90.0" r="2.9" fill="#3e9c9a" fill-opacity="0.8"/>
<circle cx="441.3" cy="99.8" r="2.9" fill="#3e9c9a" fill-opacity="0.8"/>
<circle cx="425.8" cy="97.1" r="2.9" fill="#3e9c9a" fill-opacity="0.8"/>
<circle cx="425.5" cy="97.4" r="2.9" fill="#3d9c9a" fill-opacity="0.8"/>
<circle cx="420.7" cy="105.3" r="2.9" fill="#3d9c9a" fill-opacity="0.8"/>
<circle cx="442.0" cy="93.8" r="2.9" fill="#3d9c9a" fill-opacity="0.8"/>
<circle cx="432.2" cy="112.5" r="2.9" fill="#3d9c9a" fill-opacity="0.8"/>
<circle cx="440.4" cy="91.3" r="2.9" fill="#3d9c9a" fill-opacity="0.8"/>
<circle cx="420.7" cy="105.4" r="2.9" fill="#3d9c9a" fill-opacity="0.8"/>
<circle cx="422.0" cy="113.8" r="2.9" fill="#3d9b9a" fill-opacity="0.8"/>
<circle cx="424.1" cy="114.6" r="2.9" fill="#3c9b99" fill-opacity="0.8"/>
<circle cx="441.8" cy="95.5" r="2.9" fill="#3c9b99" fill-opacity="0.8"/>
<circle cx="440.7" cy="91.9" r="2.9" fill="#3c9b99" fill-opacity="0.8"/>
<circle cx="420.8" cy="112.4" r="2.9" fill="#3c9b99" fill-opacity="0.8"/>
<circle cx="422.1" cy="102.6" r="2.9" fill="#3c9b99" fill-opacity="0.8"/>
<circle cx="421.7" cy="103.4" r="2.9" fill="#3c9b99" fill-opacity="0.8"/>
<circle cx="425.6" cy="114.5" r="2.9" fill="#3b9b99" fill-opacity="0.8"/>
<circle cx="428.2" cy="114.1" r="2.9" fill="#3b9b99" fill-opacity="0.8"/>
<circle cx="439.0" cy="104.8" r="2.9" fill="#3b9b99" fill-opacity="0.8"/>
<circle cx="428.4" cy="114.0" r="2.9" fill="#3b9b99" fill-opacity="0.8"/>
<circle cx="428.8" cy="94.4" r="2.9" fill="#3b9a99" fill-opacity="0.8"/>
<circle cx="438.1" cy="90.8" r="2.9" fill="#3b9a99" fill-opacity="0.8"/>
<circle cx="437.0" cy="90.7" r="2.9" fill="#3b9a99" fill-opacity="0.8"/>
<circle cx="426.1" cy="114.4" r="2.9" fill="#3a9a98" fill-opacity="0.8"/>
<circle cx="424.7" cy="114.4" r="2.9" fill="#3a9a98" fill-opacity="0.8"/>
<circle cx="438.1" cy="106.2" r="2.9" fill="#3a9a98" fill-opacity="0.8"/>
<circle cx="437.4" cy="90.8" r="2.9" fill="#3a9a98" fill-opacity="0.8"/>
<circle cx="441.5" cy="96.6" r="2.9" fill="#3a9a98" fill-opacity="0.8"/>
<circle cx="435.8" cy="109.2" r="2.9" fill="#3a9a98" fill-opacity="0.8"/>
<circle cx="429.6" cy="94.0" r="2.9" fill="#3a9a98" fill-opacity="0.8"/>
<circle cx="438.4" cy="105.7" r="2.9" fill="#3a9a98" fill-opacity="0.8"/>
<circle cx="438.6" cy="91.2" r="2.9" fill="#3a9a98" fill-opacity="0.8"/>
<circle cx="422.9" cy="113.8" r="2.9" fill="#3a9a98" fill-opacity="0.8"/>
<circle cx="421.4" cy="104.6" r="2.9" fill="#3a9a98" fill-opacity="0.8"/>
<circle cx="436.3" cy="108.5" r="2.9" fill="#399a98" fill-opacity="0.8"/>
<circle cx="421.1" cy="105.6" r="2.9" fill="#399a98" fill-opacity="0.8"/>
<circle cx="427.1" cy="96.3" r="2.9" fill="#399a98" fill-opacity="0.8"/>
<circle cx="440.1" cy="101.8" r="2.9" fill="#399998" fill-opacity="0.8"/>
<circle cx="441.2" cy="95.0" r="2.9" fill="#399998" fill-opacity="0.8"/>
<circle cx="439.6" cy="92.2" r="2.9" fill="#389997" fill-opacity="0.8"/>
<circle cx="439.9" cy="102.1" r="2.9" fill="#389997" fill-opacity="0.8"/>
<circle cx="424.2" cy="100.0" r="2.9" fill="#389997" fill-opacity="0.8"/>
<circle cx="423.8" cy="100.6" r="2.9" fill="#389997" fill-opacity="0.8"/>
<circle cx="427.9" cy="95.9" r="2.9" fill="#379997" fill-opacity="0.8"/>
<circle cx="420.7" cy="109.3" r="2.9" fill="#379897" fill-opacity="0.8"/>
<circle cx="420.8" cy="110.3" r="2.9" fill="#379897" fill-opacity="0.8"/>
<circle cx="431.8" cy="93.0" r="2.9" fill="#379897" fill-opacity="0.8"/>
<circle cx="434.9" cy="109.6" r="2.9" fill="#379897" fill-opacity="0.8"/>
<circle cx="425.9" cy="114.0" r="2.9" fill="#379896" fill-opacity="0.8"/>
<circle cx="439.9" cy="93.1" r="2.9" fill="#369896" fill-opacity="0.8"/>
<circle cx="420.9" cy="110.7" r="2.9" fill="#369896" fill-opacity="0.8"/>
<circle cx="424.9" cy="99.3" r="2.9" fill="#369896" fill-opacity="0.8"/>
<circle cx="439.1" cy="92.4" r="2.9" fill="#369896" fill-opacity="0.8"/>
<circle cx="430.1" cy="94.1" r="2.9" fill="#369896" fill-opacity="0.8"/>
<circle cx="421.2" cy="106.4" r="2.9" fill="#369896" fill-opacity="0.8"/>
<circle cx="420.9" cy="109.7" r="2.9" fill="#369896" fill-opacity="0.8"/>
<circle cx="422.2" cy="112.6" r="2.9" fill="#369896" fill-opacity="0.8"/>
<circle cx="431.2" cy="93.5" r="2.9" fill="#369896" fill-opacity="0.8"/>
<circle cx="421.1" cy="110.5" r="2.9" fill="#359896" fill-opacity="0.8"/>
<circle cx="427.4" cy="96.6" r="2.9" fill="#359896" fill-opacity="0.8"/>
<circle cx="440.3" cy="99.6" r="2.9" fill="#359896" fill-opacity="0.8"/>
<circle cx="437.5" cy="91.9" r="2.9" fill="#359896" fill-opacity="0.8"/>
<circle cx="427.5" cy="113.6" r="2.9" fill="#359896" fill-opacity="0.8"/>
<circle cx="426.2" cy="113.8" r="2.9" fill="#359896" fill-opacity="0.8"/>
<circle cx="436.1" cy="108.1" r="2.9" fill="#359896" fill-opacity="0.8"/>
<circle cx="434.2" cy="110.0" r="2.9" fill="#359796" fill-opacity="0.8"/>
<circle cx="439.2" cy="93.0" r="2.9" fill="#359796" fill-opacity="0.8"/>
<circle cx="437.8" cy="92.2" r="2.9" fill="#359796" fill-opacity="0.8"/>
<circle cx="430.2" cy="94.3" r="2.9" fill="#359796" fill-opacity="0.8"/>
<circle cx="439.6" cy="93.5" r="2.9" fill="#359795" fill-opacity="0.8"/>
<circle cx="422.1" cy="112.2" r="2.9" fill="#349795" fill-opacity="0.8"/>
<circle cx="437.9" cy="92.3" r="2.9" fill="#349795" fill-opacity="0.8"/>
<circle cx="440.4" cy="95.6" r="2.9" fill="#349795" fill-opacity="0.8"/>
<circle cx="425.3" cy="99.2" r="2.9" fill="#349795" fill-opacity="0.8"/>
<circle cx="438.1" cy="104.8" r="2.9" fill="#349795" fill-opacity="0.8"/>
<circle cx="423.6" cy="101.7" r="2.9" fill="#349795" fill-opacity="0.8"/>
<circle cx="436.5" cy="107.4" r="2.9" fill="#349795" fill-opacity="0.8"/>
<circle cx="435.7" cy="108.4" r="2.9" fill="#349795" fill-opacity="0.8"/>
<circle cx="421.1" cy="108.7" r="2.9" fill="#349795" fill-opacity="0.8"/>
<circle cx="430.3" cy="112.4" r="2.9" fill="#339795" fill-opacity="0.8"/>
<circle cx="422.7" cy="103.4" r="2.9" fill="#339695" fill-opacity="0.8"/>
<circle cx="439.1" cy="93.5" r="2.9" fill="#339695" fill-opacity="0.8"/>
<circle cx="422.3" cy="104.4" r="2.9" fill="#339695" fill-opacity="0.8"/>
<circle cx="440.2" cy="97.2" r="2.9" fill="#329694" fill-opacity="0.8"/>
<circle cx="432.2" cy="111.3" r="2.9" fill="#329694" fill-opacity="0.8"/>
<circle cx="435.2" cy="92.5" r="2.9" fill="#329694" fill-opacity="0.8"/>
<circle cx="434.0" cy="109.8" r="2.9" fill="#329694" fill-opacity="0.8"/>
<circle cx="422.7" cy="112.2" r="2.9" fill="#329694" fill-opacity="0.8"/>
<circle cx="428.8" cy="95.9" r="2.9" fill="#329694" fill-opacity="0.8"/>
<circle cx="424.6" cy="100.5" r="2.9" fill="#319694" fill-opacity="0.8"/>
<circle cx="437.0" cy="106.2" r="2.9" fill="#319594" fill-opacity="0.8"/>
<circle cx="431.3" cy="111.6" r="2.9" fill="#309593" fill-opacity="0.8"/>
<circle cx="439.4" cy="100.6" r="2.9" fill="#309593" fill-opacity="0.8"/>
<circle cx="437.0" cy="93.0" r="2.9" fill="#309593" fill-opacity="0.8"/>
<circle cx="430.3" cy="94.9" r="2.9" fill="#309593" fill-opacity="0.8"/>
<circle cx="439.8" cy="97.4" r="2.9" fill="#309593" fill-opacity="0.8"/>
<circle cx="439.4" cy="100.3" r="2.9" fill="#309593" fill-opacity="0.8"/>
<circle cx="436.6" cy="106.5" r="2.9" fill="#309593" fill-opacity="0.8"/>
<circle cx="423.8" cy="112.5" r="2.9" fill="#309593" fill-opacity="0.8"/>
<circle cx="421.7" cy="109.4" r="2.9" fill="#2f9593" fill-opacity="0.8"/>
<circle cx="436.2" cy="93.1" r="2.9" fill="#2f9593" fill-opacity="0.8"/>
<circle cx="433.5" cy="109.9" r="2.9" fill="#2f9493" fill-opacity="0.8"/>
<circle cx="426.9" cy="98.2" r="2.9" fill="#2f9493" fill-opacity="0.8"/>
<circle cx="438.7" cy="94.8" r="2.9" fill="#2e9492" fill-opacity="0.8"/>
<circle cx="437.4" cy="93.7" r="2.9" fill="#2e9492" fill-opacity="0.8"/>
<circle cx="431.1" cy="94.8" r="2.9" fill="#2e9492" fill-opacity="0.8"/>
<circle cx="434.2" cy="109.0" r="2.9" fill="#2e9492" fill-opacity="0.8"/>
<circle cx="424.7" cy="101.1" r="2.9" fill="#2e9492" fill-opacity="0.8"/>
<circle cx="421.9" cy="108.8" r="2.9" fill="#2e9492" fill-opacity="0.8"/>
<circle cx="437.7" cy="94.1" r="2.9" fill="#2e9492" fill-opacity="0.8"/>
<circle cx="438.9" cy="100.8" r="2.9" fill="#2d9492" fill-opacity="0.8"/>
<circle cx="423.8" cy="112.1" r="2.9" fill="#2d9492" fill-opacity="0.8"/>
<circle cx="439.1" cy="99.6" r="2.9" fill="#2d9392" fill-opacity="0.8"/>
<circle cx="435.1" cy="93.6" r="2.9" fill="#2d9392" fill-opacity="0.8"/>
<circle cx="422.7" cy="105.5" r="2.9" fill="#2c9391" fill-opacity="0.8"/>
<circle cx="439.0" cy="96.7" r="2.9" fill="#2c9391" fill-opacity="0.8"/>
<circle cx="438.8" cy="100.6" r="2.9" fill="#2c9391" fill-opacity="0.8"/>
<circle cx="439.0" cy="98.1" r="2.9" fill="#2c9391" fill-opacity="0.8"/>
<circle cx="425.9" cy="112.5" r="2.9" fill="#2c9391" fill-opacity="0.8"/>
<circle cx="426.4" cy="112.5" r="2.9" fill="#2c9391" fill-opacity="0.8"/>
<circle cx="425.3" cy="100.6" r="2.9" fill="#2c9391" fill-opacity="0.8"/>
<circle cx="424.4" cy="112.1" r="2.9" fill="#2c9391" fill-opacity="0.8"/>
<circle cx="435.3" cy="93.9" r="2.9" fill="#2b9391" fill-opacity="0.8"/>
<circle cx="438.0" cy="95.1" r="2.9" fill="#2b9391" fill-opacity="0.8"/>
<circle cx="438.9" cy="97.6" r="2.9" fill="#2b9391" fill-opacity="0.8"/>
<circle cx="423.8" cy="103.2" r="2.9" fill="#2b9391" fill-opacity="0.8"/>
<circle cx="437.1" cy="94.4" r="2.9" fill="#2b9291" fill-opacity="0.8"/>
<circle cx="434.0" cy="108.8" r="2.9" fill="#2b9291" fill-opacity="0.8"/>
<circle cx="424.1" cy="111.8" r="2.9" fill="#2b9290" fill-opacity="0.8"/>
<circle cx="425.5" cy="112.3" r="2.9" fill="#2b9290" fill-opacity="0.8"/>
<circle cx="431.5" cy="95.2" r="2.9" fill="#2b9290" fill-opacity="0.8"/>
<circle cx="423.1" cy="105.0" r="2.9" fill="#2a9290" fill-opacity="0.8"/>
<circle cx="427.9" cy="97.9" r="2.9" fill="#2a9290" fill-opacity="0.8"/>
<circle cx="427.4" cy="98.5" r="2.9" fill="#2a9290" fill-opacity="0.8"/>
<circle cx="435.1" cy="107.4" r="2.9" fill="#299290" fill-opacity="0.8"/>
<circle cx="436.4" cy="94.7" r="2.9" fill="#299190" fill-opacity="0.8"/>
<circle cx="437.8" cy="102.3" r="2.9" fill="#29918f" fill-opacity="0.8"/>
<circle cx="422.7" cy="107.1" r="2.9" fill="#29918f" fill-opacity="0.8"/>
<circle cx="424.0" cy="103.4" r="2.9" fill="#28918f" fill-opacity="0.8"/>
<circle cx="424.3" cy="103.0" r="2.9" fill="#28918f" fill-opacity="0.8"/>
<circle cx="432.7" cy="109.5" r="2.9" fill="#28918f" fill-opacity="0.8"/>
<circle cx="424.0" cy="111.1" r="2.9" fill="#28918f" fill-opacity="0.8"/>
<circle cx="426.8" cy="112.0" r="2.9" fill="#28918f" fill-opacity="0.8"/>
<circle cx="430.6" cy="110.9" r="2.9" fill="#28918f" fill-opacity="0.8"/>
<circle cx="437.7" cy="102.5" r="2.9" fill="#28918f" fill-opacity="0.8"/>
<circle cx="426.2" cy="100.2" r="2.9" fill="#28918f" fill-opacity="0.8"/>
<circle cx="428.0" cy="111.8" r="2.9" fill="#28918f" fill-opacity="0.8"/>
<circle cx="422.9" cy="109.1" r="2.9" fill="#28918f" fill-opacity="0.8"/>
<circle cx="431.3" cy="95.8" r="2.9" fill="#27918f" fill-opacity="0.8"/>
<circle cx="436.7" cy="95.4" r="2.9" fill="#27908f" fill-opacity="0.8"/>
<circle cx="428.3" cy="98.1" r="2.9" fill="#27908e" fill-opacity="0.8"/>
<circle cx="438.1" cy="98.2" r="2.9" fill="#27908e" fill-opacity="0.8"/>
<circle cx="423.1" cy="107.9" r="2.9" fill="#26908e" fill-opacity="0.8"/>
<circle cx="423.7" cy="110.2" r="2.9" fill="#26908e" fill-opacity="0.8"/>
<circle cx="423.2" cy="106.4" r="2.9" fill="#26908e" fill-opacity="0.8"/>
<circle cx="436.2" cy="105.2" r="2.9" fill="#26908e" fill-opacity="0.8"/>
<circle cx="423.1" cy="107.5" r="2.9" fill="#26908e" fill-opacity="0.8"/>
<circle cx="426.6" cy="111.6" r="2.9" fill="#26908e" fill-opacity="0.8"/>
<circle cx="434.4" cy="95.1" r="2.9" fill="#26908e" fill-opacity="0.8"/>
<circle cx="429.1" cy="97.6" r="2.9" fill="#26908e" fill-opacity="0.8"/>
<circle cx="437.6" cy="101.3" r="2.9" fill="#25908e" fill-opacity="0.8"/>
<circle cx="437.3" cy="102.4" r="2.9" fill="#258f8e" fill-opacity="0.8"/>
<circle cx="429.1" cy="111.1" r="2.9" fill="#258f8e" fill-opacity="0.8"/>
<circle cx="434.3" cy="95.3" r="2.9" fill="#258f8d" fill-opacity="0.8"/>
<circle cx="437.7" cy="98.4" r="2.9" fill="#258f8d" fill-opacity="0.8"/>
<circle cx="433.9" cy="107.9" r="2.9" fill="#258f8d" fill-opacity="0.8"/>
<circle cx="434.8" cy="106.9" r="2.9" fill="#258f8d" fill-opacity="0.8"/>
<circle cx="434.0" cy="107.8" r="2.9" fill="#258f8d" fill-opacity="0.8"/>
<circle cx="423.7" cy="109.7" r="2.9" fill="#258f8d" fill-opacity="0.8"/>
<circle cx="437.7" cy="99.6" r="2.9" fill="#248f8d" fill-opacity="0.8"/>
<circle cx="434.4" cy="95.5" r="2.9" fill="#248f8d" fill-opacity="0.8"/>
<circle cx="423.4" cy="108.3" r="2.9" fill="#248f8d" fill-opacity="0.8"/>
<circle cx="431.0" cy="110.1" r="2.9" fill="#248f8d" fill-opacity="0.8"/>
<circle cx="432.6" cy="108.9" r="2.9" fill="#238f8d" fill-opacity="0.8"/>
<circle cx="437.4" cy="98.9" r="2.9" fill="#238e8d" fill-opacity="0.8"/>
<circle cx="432.4" cy="96.2" r="2.9" fill="#238e8c" fill-opacity="0.8"/>
<circle cx="432.8" cy="96.0" r="2.9" fill="#238e8c" fill-opacity="0.8"/>
<circle cx="426.0" cy="101.4" r="2.9" fill="#238e8c" fill-opacity="0.8"/>
<circle cx="437.0" cy="97.4" r="2.9" fill="#238e8c" fill-opacity="0.8"/>
<circle cx="434.9" cy="106.4" r="2.9" fill="#238e8c" fill-opacity="0.8"/>
<circle cx="424.7" cy="110.3" r="2.9" fill="#238e8c" fill-opacity="0.8"/>
<circle cx="437.2" cy="98.5" r="2.9" fill="#228e8c" fill-opacity="0.8"/>
<circle cx="432.2" cy="109.0" r="2.9" fill="#228e8c" fill-opacity="0.8"/>
<circle cx="436.5" cy="103.4" r="2.9" fill="#228e8c" fill-opacity="0.8"/>
<circle cx="426.3" cy="110.9" r="2.9" fill="#228e8c" fill-opacity="0.8"/>
<circle cx="427.1" cy="100.3" r="2.9" fill="#228e8c" fill-opacity="0.8"/>
<circle cx="436.8" cy="97.6" r="2.9" fill="#228e8c" fill-opacity="0.8"/>
<circle cx="432.3" cy="108.9" r="2.9" fill="#228e8c" fill-opacity="0.8"/>
<circle cx="432.7" cy="108.5" r="2.9" fill="#218e8c" fill-opacity="0.8"/>
<circle cx="434.7" cy="96.2" r="2.9" fill="#218e8c" fill-opacity="0.8"/>
<circle cx="436.1" cy="97.0" r="2.9" fill="#218d8b" fill-opacity="0.8"/>
<circle cx="436.4" cy="97.3" r="2.9" fill="#218d8b" fill-opacity="0.8"/>
<circle cx="435.8" cy="96.8" r="2.9" fill="#218d8b" fill-opacity="0.8"/>
<circle cx="426.5" cy="101.4" r="2.9" fill="#218d8b" fill-opacity="0.8"/>
<circle cx="425.2" cy="110.1" r="2.9" fill="#208d8b" fill-opacity="0.8"/>
<circle cx="434.9" cy="105.9" r="2.9" fill="#208d8b" fill-opacity="0.8"/>
<circle cx="425.3" cy="110.1" r="2.9" fill="#208d8b" fill-opacity="0.8"/>
<circle cx="432.2" cy="96.8" r="2.9" fill="#208d8b" fill-opacity="0.8"/>
<circle cx="431.3" cy="109.3" r="2.9" fill="#208d8b" fill-opacity="0.8"/>
<circle cx="430.0" cy="110.0" r="2.9" fill="#208d8b" fill-opacity="0.8"/>
<circle cx="435.6" cy="104.6" r="2.9" fill="#208d8b" fill-opacity="0.8"/>
<circle cx="428.3" cy="110.5" r="2.9" fill="#208d8b" fill-opacity="0.8"/>
<circle cx="436.7" cy="98.5" r="2.9" fill="#208d8b" fill-opacity="0.8"/>
<circle cx="433.0" cy="96.6" r="2.9" fill="#208d8b" fill-opacity="0.8"/>
<circle cx="436.8" cy="99.2" r="2.9" fill="#208d8b" fill-opacity="0.8"/>
<circle cx="435.4" cy="97.0" r="2.9" fill="#1f8d8b" fill-opacity="0.8"/>
<circle cx="430.5" cy="109.6" r="2.9" fill="#1f8c8a" fill-opacity="0.8"/>
<circle cx="436.6" cy="101.3" r="2.9" fill="#1f8c8a" fill-opacity="0.8"/>
<circle cx="429.4" cy="98.6" r="2.9" fill="#1f8c8a" fill-opacity="0.8"/>
<circle cx="426.8" cy="110.4" r="2.9" fill="#1f8c8a" fill-opacity="0.8"/>
<circle cx="436.1" cy="98.0" r="2.9" fill="#1f8c8a" fill-opacity="0.8"/>
<circle cx="426.6" cy="101.6" r="2.9" fill="#1f8c8a" fill-opacity="0.8"/>
<circle cx="434.7" cy="105.7" r="2.9" fill="#1f8c8a" fill-opacity="0.8"/>
<circle cx="430.2" cy="98.2" r="2.9" fill="#1f8c8a" fill-opacity="0.8"/>
<circle cx="436.2" cy="102.7" r="2.9" fill="#1e8c8a" fill-opacity="0.8"/>
<circle cx="429.2" cy="110.0" r="2.9" fill="#1e8c8a" fill-opacity="0.8"/>
<circle cx="424.8" cy="108.8" r="2.9" fill="#1e8c8a" fill-opacity="0.8"/>
<circle cx="425.5" cy="103.4" r="2.9" fill="#1e8c8a" fill-opacity="0.8"/>
<circle cx="435.7" cy="103.9" r="2.9" fill="#1e8c8a" fill-opacity="0.8"/>
<circle cx="425.5" cy="103.6" r="2.9" fill="#1e8c8a" fill-opacity="0.8"/>
<circle cx="424.9" cy="109.0" r="2.9" fill="#1e8c8a" fill-opacity="0.8"/>
<circle cx="424.5" cy="107.5" r="2.9" fill="#1e8c8a" fill-opacity="0.8"/>
<circle cx="424.9" cy="109.0" r="2.9" fill="#1e8c8a" fill-opacity="0.8"/>
<circle cx="431.8" cy="108.6" r="2.9" fill="#1e8c8a" fill-opacity="0.8"/>
<circle cx="427.0" cy="110.2" r="2.9" fill="#1e8c8a" fill-opacity="0.8"/>
<circle cx="426.0" cy="102.9" r="2.9" fill="#1d8b8a" fill-opacity="0.8"/>
<circle cx="432.7" cy="97.3" r="2.9" fill="#1d8b89" fill-opacity="0.8"/>
<circle cx="432.6" cy="107.8" r="2.9" fill="#1d8b89" fill-opacity="0.8"/>
<circle cx="427.5" cy="100.9" r="2.9" fill="#1d8b89" fill-opacity="0.8"/>
<circle cx="424.9" cy="105.7" r="2.9" fill="#1d8b89" fill-opacity="0.8"/>
<circle cx="436.2" cy="100.3" r="2.9" fill="#1c8b89" fill-opacity="0.8"/>
<circle cx="427.4" cy="101.1" r="2.9" fill="#1c8b89" fill-opacity="0.8"/>
<circle cx="434.6" cy="97.6" r="2.9" fill="#1c8b89" fill-opacity="0.8"/>
<circle cx="436.1" cy="100.4" r="2.9" fill="#1c8b89" fill-opacity="0.8"/>
<circle cx="432.9" cy="107.3" r="2.9" fill="#1c8b89" fill-opacity="0.8"/>
<circle cx="436.0" cy="100.7" r="2.9" fill="#1c8b89" fill-opacity="0.8"/>
<circle cx="427.3" cy="109.7" r="2.9" fill="#1b8b89" fill-opacity="0.8"/>
<circle cx="432.6" cy="97.8" r="2.9" fill="#1b8a88" fill-opacity="0.8"/>
<circle cx="425.1" cy="106.5" r="2.9" fill="#1b8a88" fill-opacity="0.8"/>
<circle cx="427.5" cy="101.4" r="2.9" fill="#1b8a88" fill-opacity="0.8"/>
<circle cx="432.0" cy="107.9" r="2.9" fill="#1a8a88" fill-opacity="0.8"/>
<circle cx="427.5" cy="101.5" r="2.9" fill="#1a8a88" fill-opacity="0.8"/>
<circle cx="433.0" cy="97.9" r="2.9" fill="#1a8a88" fill-opacity="0.8"/>
<circle cx="428.5" cy="100.5" r="2.9" fill="#1a8a88" fill-opacity="0.8"/>
<circle cx="427.5" cy="109.3" r="2.9" fill="#198a88" fill-opacity="0.8"/>
<circle cx="426.4" cy="103.6" r="2.9" fill="#198987" fill-opacity="0.8"/>
<circle cx="434.4" cy="104.5" r="2.9" fill="#198987" fill-opacity="0.8"/>
<circle cx="434.7" cy="103.7" r="2.9" fill="#198987" fill-opacity="0.8"/>
<circle cx="427.3" cy="109.1" r="2.9" fill="#188987" fill-opacity="0.8"/>
<circle cx="430.6" cy="108.4" r="2.9" fill="#188987" fill-opacity="0.8"/>
<circle cx="435.1" cy="99.8" r="2.9" fill="#188987" fill-opacity="0.8"/>
<circle cx="435.1" cy="99.9" r="2.9" fill="#188987" fill-opacity="0.8"/>
<circle cx="425.8" cy="107.6" r="2.9" fill="#188987" fill-opacity="0.8"/>
<circle cx="430.9" cy="108.1" r="2.9" fill="#188987" fill-opacity="0.8"/>
<circle cx="427.3" cy="102.4" r="2.9" fill="#188987" fill-opacity="0.8"/>
<circle cx="435.1" cy="100.3" r="2.9" fill="#188987" fill-opacity="0.8"/>
<circle cx="428.6" cy="108.8" r="2.9" fill="#178886" fill-opacity="0.8"/>
<circle cx="426.6" cy="108.2" r="2.9" fill="#178886" fill-opacity="0.8"/>
<circle cx="426.4" cy="104.5" r="2.9" fill="#178886" fill-opacity="0.8"/>
<circle cx="434.8" cy="101.6" r="2.9" fill="#168886" fill-opacity="0.8"/>
<circle cx="434.2" cy="99.7" r="2.9" fill="#168886" fill-opacity="0.8"/>
<circle cx="434.2" cy="99.7" r="2.9" fill="#168886" fill-opacity="0.8"/>
<circle cx="433.4" cy="105.3" r="2.9" fill="#168886" fill-opacity="0.8"/>
<circle cx="426.6" cy="107.7" r="2.9" fill="#168886" fill-opacity="0.8"/>
<circle cx="429.3" cy="100.8" r="2.9" fill="#168886" fill-opacity="0.8"/>
<circle cx="429.2" cy="100.9" r="2.9" fill="#168886" fill-opacity="0.8"/>
<circle cx="431.7" cy="107.0" r="2.9" fill="#168886" fill-opacity="0.8"/>
<circle cx="434.4" cy="100.4" r="2.9" fill="#168886" fill-opacity="0.8"/>
<circle cx="427.5" cy="108.1" r="2.9" fill="#158785" fill-opacity="0.8"/>
<circle cx="432.4" cy="99.5" r="2.9" fill="#158785" fill-opacity="0.8"/>
<circle cx="432.5" cy="99.6" r="2.9" fill="#158785" fill-opacity="0.8"/>
<circle cx="433.3" cy="99.7" r="2.9" fill="#158785" fill-opacity="0.8"/>
<circle cx="434.0" cy="100.5" r="2.9" fill="#148785" fill-opacity="0.8"/>
<circle cx="433.7" cy="104.0" r="2.9" fill="#148785" fill-opacity="0.8"/>
<circle cx="427.3" cy="107.6" r="2.9" fill="#148785" fill-opacity="0.8"/>
<circle cx="426.9" cy="105.0" r="2.9" fill="#148785" fill-opacity="0.8"/>
<circle cx="432.2" cy="99.8" r="2.9" fill="#148785" fill-opacity="0.8"/>
<circle cx="432.6" cy="99.9" r="2.9" fill="#148785" fill-opacity="0.8"/>
<circle cx="433.5" cy="100.4" r="2.9" fill="#148785" fill-opacity="0.8"/>
<circle cx="426.9" cy="105.6" r="2.9" fill="#138685" fill-opacity="0.8"/>
<circle cx="428.9" cy="107.8" r="2.9" fill="#138684" fill-opacity="0.8"/>
<circle cx="428.0" cy="107.7" r="2.9" fill="#138684" fill-opacity="0.8"/>
<circle cx="433.8" cy="102.4" r="2.9" fill="#138684" fill-opacity="0.8"/>
<circle cx="431.7" cy="100.2" r="2.9" fill="#138684" fill-opacity="0.8"/>
<circle cx="428.7" cy="102.2" r="2.9" fill="#138684" fill-opacity="0.8"/>
<circle cx="433.8" cy="102.2" r="2.9" fill="#138684" fill-opacity="0.8"/>
<circle cx="433.7" cy="101.5" r="2.9" fill="#138684" fill-opacity="0.8"/>
<circle cx="429.8" cy="107.4" r="2.9" fill="#138684" fill-opacity="0.8"/>
<circle cx="429.3" cy="107.5" r="2.9" fill="#138684" fill-opacity="0.8"/>
<circle cx="427.8" cy="104.2" r="2.9" fill="#128684" fill-opacity="0.8"/>
<circle cx="433.4" cy="102.2" r="2.9" fill="#128684" fill-opacity="0.8"/>
<circle cx="427.8" cy="104.4" r="2.9" fill="#128684" fill-opacity="0.8"/>
<circle cx="427.9" cy="106.5" r="2.9" fill="#118583" fill-opacity="0.8"/>
<circle cx="428.8" cy="107.0" r="2.9" fill="#118583" fill-opacity="0.8"/>
<circle cx="429.9" cy="101.9" r="2.9" fill="#118583" fill-opacity="0.8"/>
<circle cx="431.0" cy="106.0" r="2.9" fill="#108583" fill-opacity="0.8"/>
<circle cx="431.2" cy="105.8" r="2.9" fill="#108583" fill-opacity="0.8"/>
<circle cx="428.9" cy="106.4" r="2.9" fill="#108583" fill-opacity="0.8"/>
<circle cx="428.6" cy="105.9" r="2.9" fill="#108583" fill-opacity="0.8"/>
<circle cx="432.2" cy="102.0" r="2.9" fill="#108583" fill-opacity="0.8"/>
<circle cx="431.1" cy="101.9" r="2.9" fill="#0f8482" fill-opacity="0.8"/>
<circle cx="432.3" cy="103.3" r="2.9" fill="#0f8482" fill-opacity="0.8"/>
<circle cx="432.2" cy="103.6" r="2.9" fill="#0f8482" fill-opacity="0.8"/>
<circle cx="429.7" cy="103.3" r="2.9" fill="#0e8482" fill-opacity="0.8"/>
<circle cx="430.6" cy="102.8" r="2.9" fill="#0e8482" fill-opacity="0.8"/>
<circle cx="431.4" cy="103.6" r="2.9" fill="#0e8482" fill-opacity="0.8"/>
<circle cx="429.6" cy="104.0" r="2.9" fill="#0e8482" fill-opacity="0.8"/>
<circle cx="431.3" cy="103.7" r="2.9" fill="#0e8482" fill-opacity="0.8"/>
<circle cx="429.8" cy="104.9" r="2.9" fill="#0e8482" fill-opacity="0.8"/>
<circle cx="430.5" cy="104.6" r="2.9" fill="#0e8482" fill-opacity="0.8"/>
<circle cx="430.7" cy="103.7" r="2.9" fill="#0e8482" fill-opacity="0.8"/>
<path d="M347.80,120.75 L349.99,120.43 L352.17,120.11 L354.36,119.79 L356.55,119.47 L358.73,119.15 L360.92,118.82 L363.11,118.50 L365.29,118.17 L367.48,117.85 L369.66,117.52 L371.85,117.20 L374.04,116.87 L376.22,116.54 L378.41,116.20 L380.60,115.86 L382.78,115.52 L384.97,115.18 L387.16,114.82 L389.34,114.46 L391.53,114.09 L393.72,113.70 L395.90,113.30 L398.09,112.88 L400.27,112.44 L402.46,111.97 L404.65,111.47 L406.83,110.92 L409.02,110.33 L411.21,109.68 L413.39,108.98 L415.58,108.20 L417.77,107.36 L419.95,106.43 L422.14,105.43 L424.33,104.35 L426.51,103.18 L428.70,101.94 L430.88,100.64 L433.07,99.27 L435.26,97.84 L437.44,96.36 L439.63,94.84 L441.82,93.28 L444.00,91.70 L446.19,90.08 L448.38,88.45 L450.56,86.80 L452.75,85.14 L454.94,83.46 L457.12,81.78 L459.31,80.08 L461.49,78.39 L463.68,76.69 L465.87,74.98 L468.05,73.27 L470.24,71.56 L472.43,69.85 L474.61,68.13 L476.80,66.42" stroke="#111" stroke-width="1.1" fill="none" stroke-linejoin="round"/>
<line x1="529.50" y1="11.20" x2="529.50" y2="163.00" stroke="#231f20" stroke-width="0.75" />
<line x1="529.35" y1="163.50" x2="681.70" y2="163.50" stroke="#231f20" stroke-width="0.75" />
<line x1="527.20" y1="29.50" x2="529.70" y2="29.50" stroke="#231f20" stroke-width="0.75" />
<text x="524.40" y="32.41" font-size="9.2" text-anchor="end" fill="#231f20" >2</text>
<line x1="527.20" y1="51.50" x2="529.70" y2="51.50" stroke="#231f20" stroke-width="0.75" />
<text x="524.40" y="54.81" font-size="9.2" text-anchor="end" fill="#231f20" >1</text>
<line x1="527.20" y1="73.50" x2="529.70" y2="73.50" stroke="#231f20" stroke-width="0.75" />
<text x="524.40" y="77.21" font-size="9.2" text-anchor="end" fill="#231f20" >0</text>
<line x1="527.20" y1="96.50" x2="529.70" y2="96.50" stroke="#231f20" stroke-width="0.75" />
<text x="524.40" y="99.61" font-size="9.2" text-anchor="end" fill="#231f20" >−1</text>
<line x1="527.20" y1="118.50" x2="529.70" y2="118.50" stroke="#231f20" stroke-width="0.75" />
<text x="524.40" y="122.01" font-size="9.2" text-anchor="end" fill="#231f20" >−2</text>
<line x1="527.20" y1="141.50" x2="529.70" y2="141.50" stroke="#231f20" stroke-width="0.75" />
<text x="524.40" y="144.41" font-size="9.2" text-anchor="end" fill="#231f20" >−3</text>
<line x1="527.20" y1="163.50" x2="529.70" y2="163.50" stroke="#231f20" stroke-width="0.75" />
<text x="524.40" y="166.81" font-size="9.2" text-anchor="end" fill="#231f20" >−4</text>
<line x1="529.50" y1="163.00" x2="529.50" y2="165.60" stroke="#231f20" stroke-width="0.75" />
<text x="529.70" y="176.11" font-size="9.2" text-anchor="middle" fill="#231f20" >0</text>
<line x1="564.50" y1="163.00" x2="564.50" y2="165.60" stroke="#231f20" stroke-width="0.75" />
<text x="564.49" y="176.11" font-size="9.2" text-anchor="middle" fill="#231f20" >25</text>
<line x1="599.50" y1="163.00" x2="599.50" y2="165.60" stroke="#231f20" stroke-width="0.75" />
<text x="599.28" y="176.11" font-size="9.2" text-anchor="middle" fill="#231f20" >50</text>
<line x1="634.50" y1="163.00" x2="634.50" y2="165.60" stroke="#231f20" stroke-width="0.75" />
<text x="634.07" y="176.11" font-size="9.2" text-anchor="middle" fill="#231f20" >75</text>
<line x1="668.50" y1="163.00" x2="668.50" y2="165.60" stroke="#231f20" stroke-width="0.75" />
<text x="668.86" y="176.11" font-size="9.2" text-anchor="middle" fill="#231f20" >100</text>
<text x="605.50" y="187.01" font-size="9.2" text-anchor="middle" fill="#231f20" >Bootstraps (%)</text>
<text transform="translate(507.31,88.40) rotate(-90)" font-size="9.2" text-anchor="middle" fill="#231f20">Mean coefficient</text>
<text x="535.80" y="22.25" font-size="8.2" fill="#231f20" >(ii)</text>
<line x1="529.70" y1="73.50" x2="681.00" y2="73.50" stroke="#777" stroke-width="0.6" stroke-dasharray="1.2,1.6"/>
<circle cx="532.00" cy="69.60" r="1.05" fill="#1a6f6d" stroke="none" stroke-width="0.5" />
<circle cx="537.60" cy="71.40" r="1.05" fill="#1a6f6d" stroke="none" stroke-width="0.5" />
<circle cx="540.00" cy="72.00" r="1.05" fill="#1a6f6d" stroke="none" stroke-width="0.5" />
<circle cx="544.60" cy="71.70" r="1.05" fill="#1a6f6d" stroke="none" stroke-width="0.5" />
<circle cx="555.10" cy="71.40" r="1.05" fill="#1a6f6d" stroke="none" stroke-width="0.5" />
<circle cx="559.20" cy="71.10" r="1.05" fill="#1a6f6d" stroke="none" stroke-width="0.5" />
<circle cx="561.60" cy="71.40" r="1.05" fill="#1a6f6d" stroke="none" stroke-width="0.5" />
<circle cx="563.90" cy="70.80" r="1.05" fill="#1a6f6d" stroke="none" stroke-width="0.5" />
<circle cx="569.20" cy="70.80" r="1.05" fill="#1a6f6d" stroke="none" stroke-width="0.5" />
<circle cx="586.60" cy="67.80" r="1.05" fill="#1a6f6d" stroke="none" stroke-width="0.5" />
<circle cx="592.80" cy="70.00" r="1.05" fill="#1a6f6d" stroke="none" stroke-width="0.5" />
<circle cx="600.90" cy="69.60" r="1.05" fill="#1a6f6d" stroke="none" stroke-width="0.5" />
<circle cx="530.80" cy="76.60" r="1.05" fill="#1a6f6d" stroke="none" stroke-width="0.5" />
<circle cx="534.10" cy="76.30" r="1.05" fill="#1a6f6d" stroke="none" stroke-width="0.5" />
<circle cx="536.70" cy="76.00" r="1.05" fill="#1a6f6d" stroke="none" stroke-width="0.5" />
<circle cx="541.60" cy="76.40" r="1.05" fill="#1a6f6d" stroke="none" stroke-width="0.5" />
<circle cx="545.10" cy="76.70" r="1.05" fill="#1a6f6d" stroke="none" stroke-width="0.5" />
<circle cx="547.80" cy="77.50" r="1.05" fill="#1a6f6d" stroke="none" stroke-width="0.5" />
<circle cx="549.50" cy="78.10" r="1.05" fill="#1a6f6d" stroke="none" stroke-width="0.5" />
<circle cx="552.10" cy="77.20" r="1.05" fill="#1a6f6d" stroke="none" stroke-width="0.5" />
<circle cx="555.60" cy="78.10" r="1.05" fill="#1a6f6d" stroke="none" stroke-width="0.5" />
<circle cx="563.00" cy="78.40" r="1.05" fill="#1a6f6d" stroke="none" stroke-width="0.5" />
<circle cx="566.80" cy="76.70" r="1.05" fill="#1a6f6d" stroke="none" stroke-width="0.5" />
<circle cx="570.60" cy="78.10" r="1.05" fill="#1a6f6d" stroke="none" stroke-width="0.5" />
<circle cx="583.00" cy="77.00" r="1.05" fill="#1a6f6d" stroke="none" stroke-width="0.5" />
<circle cx="591.90" cy="80.10" r="1.05" fill="#1a6f6d" stroke="none" stroke-width="0.5" />
<circle cx="593.90" cy="79.00" r="1.05" fill="#1a6f6d" stroke="none" stroke-width="0.5" />
<circle cx="596.00" cy="77.80" r="1.05" fill="#1a6f6d" stroke="none" stroke-width="0.5" />
<circle cx="607.80" cy="68.10" r="1.05" fill="#1a6f6d" stroke="none" stroke-width="0.5" />
<circle cx="615.60" cy="68.00" r="1.05" fill="#1a6f6d" stroke="none" stroke-width="0.5" />
<circle cx="623.10" cy="67.90" r="1.05" fill="#1a6f6d" stroke="none" stroke-width="0.5" />
<circle cx="593.70" cy="78.90" r="1.05" fill="#1a6f6d" stroke="none" stroke-width="0.5" />
<circle cx="592.70" cy="79.30" r="1.05" fill="#1a6f6d" stroke="none" stroke-width="0.5" />
<circle cx="621.80" cy="79.70" r="1.05" fill="#1a6f6d" stroke="none" stroke-width="0.5" />
<circle cx="532.50" cy="76.30" r="1.05" fill="#1a6f6d" stroke="none" stroke-width="0.5" />
<circle cx="539.00" cy="76.20" r="1.05" fill="#1a6f6d" stroke="none" stroke-width="0.5" />
<circle cx="669.10" cy="33.30" r="2.90" fill="#178b89" stroke="#1a4f4f" stroke-width="0.5" />
<circle cx="669.10" cy="45.80" r="2.60" fill="#178b89" stroke="#1a4f4f" stroke-width="0.5" />
<circle cx="668.60" cy="58.00" r="1.90" fill="#178b89" stroke="#1a4f4f" stroke-width="0.5" />
<circle cx="663.90" cy="61.30" r="1.90" fill="#178b89" stroke="#1a4f4f" stroke-width="0.5" />
<circle cx="652.30" cy="67.10" r="1.30" fill="#178b89" stroke="#1a4f4f" stroke-width="0.5" />
<circle cx="652.70" cy="82.20" r="1.50" fill="#178b89" stroke="#1a4f4f" stroke-width="0.5" />
<circle cx="654.30" cy="83.60" r="1.50" fill="#178b89" stroke="#1a4f4f" stroke-width="0.5" />
<circle cx="667.20" cy="91.90" r="1.90" fill="#178b89" stroke="#1a4f4f" stroke-width="0.5" />
<circle cx="669.10" cy="95.70" r="1.90" fill="#178b89" stroke="#1a4f4f" stroke-width="0.5" />
<circle cx="669.10" cy="141.50" r="3.60" fill="#178b89" stroke="#1a4f4f" stroke-width="0.5" />
<text x="643.00" y="22.20" font-size="8.8" fill="#231f20" >CPLX2</text>
<line x1="669.50" y1="24.50" x2="669.50" y2="30.30" stroke="#555" stroke-width="0.6" />
<text x="626.60" y="39.70" font-size="8.8" fill="#231f20" >CPLX1</text>
<path d="M655.5,36.5 L660.5,36.5 L667.5,44" stroke="#555" stroke-width="0.6" fill="none" />
<text x="619.80" y="48.40" font-size="8.8" text-anchor="end" fill="#231f20" >NRXN3.2</text>
<line x1="621.30" y1="45.50" x2="666.50" y2="45.50" stroke="#555" stroke-width="0.6" />
<text x="630.80" y="56.00" font-size="8.8" fill="#231f20" >OLFM1</text>
<path d="M661,53.5 L663.5,53.5 L667.5,56.5" stroke="#555" stroke-width="0.6" fill="none" />
<text x="619.20" y="63.80" font-size="8.8" text-anchor="end" fill="#231f20" >STMN2</text>
<line x1="621.00" y1="61.50" x2="661.80" y2="61.50" stroke="#555" stroke-width="0.6" />
<text x="657.50" y="72.00" font-size="8.8" fill="#231f20" >FGF4</text>
<line x1="653.80" y1="67.40" x2="656.80" y2="68.00" stroke="#555" stroke-width="0.6" />
<text x="611.00" y="97.70" font-size="8.8" text-anchor="end" fill="#231f20" >LANCL1</text>
<path d="M611.5,94 L621,83.5 L651.5,83.5" stroke="#555" stroke-width="0.6" fill="none" />
<text x="629.90" y="94.80" font-size="8.8" fill="#231f20" >NPTXR</text>
<line x1="660.50" y1="92.50" x2="665.20" y2="92.50" stroke="#555" stroke-width="0.6" />
<text x="634.00" y="117.70" font-size="8.8" fill="#231f20" >CNDP1</text>
<path d="M662.5,109 L662.5,104 L668.3,98" stroke="#555" stroke-width="0.6" fill="none" />
<text x="641.00" y="133.20" font-size="8.8" fill="#231f20" >ALDOC</text>
<line x1="669.50" y1="135.50" x2="669.50" y2="137.80" stroke="#555" stroke-width="0.6" />
<text x="0" y="212.4" font-size="11" font-weight="bold" fill="#000" stroke="#000" stroke-width="0.3">c</text>
<line x1="54.50" y1="212.00" x2="54.50" y2="313.80" stroke="#231f20" stroke-width="0.75" />
<line x1="54.25" y1="313.50" x2="186.60" y2="313.50" stroke="#231f20" stroke-width="0.75" />
<line x1="89.50" y1="212.00" x2="89.50" y2="313.40" stroke="#cfcfcf" stroke-width="0.8" />
<line x1="63.50" y1="313.80" x2="63.50" y2="316.40" stroke="#231f20" stroke-width="0.75" />
<text x="60.60" y="326.11" font-size="9.2" text-anchor="middle" fill="#231f20" >−0.2</text>
<line x1="89.50" y1="313.80" x2="89.50" y2="316.40" stroke="#231f20" stroke-width="0.75" />
<text x="89.40" y="326.11" font-size="9.2" text-anchor="middle" fill="#231f20" >0</text>
<line x1="115.50" y1="313.80" x2="115.50" y2="316.40" stroke="#231f20" stroke-width="0.75" />
<text x="115.20" y="326.11" font-size="9.2" text-anchor="middle" fill="#231f20" >0.2</text>
<line x1="141.50" y1="313.80" x2="141.50" y2="316.40" stroke="#231f20" stroke-width="0.75" />
<text x="141.00" y="326.11" font-size="9.2" text-anchor="middle" fill="#231f20" >0.4</text>
<line x1="166.50" y1="313.80" x2="166.50" y2="316.40" stroke="#231f20" stroke-width="0.75" />
<text x="166.80" y="326.11" font-size="9.2" text-anchor="middle" fill="#231f20" >0.6</text>
<text x="119.80" y="338.81" font-size="9.2" text-anchor="middle" fill="#231f20" >Standard deviation increase</text>
<text x="119.80" y="349.81" font-size="9.2" text-anchor="middle" fill="#231f20" >in CognitionBrain age gap</text>
<text transform="translate(10.21,257.90) rotate(-90)" font-size="9.2" text-anchor="middle" fill="#231f20">Cohort</text>
<text x="50.80" y="239.91" font-size="9.2" text-anchor="end" fill="#231f20" >SADRC</text>
<text x="50.80" y="265.01" font-size="9.2" text-anchor="end" fill="#231f20" >KADRC</text>
<text x="51" y="290.4" font-size="9.2" text-anchor="end" fill="#231f20">Total <tspan font-style="italic">P</tspan> =</text>
<text x="51" y="301.4" font-size="9.2" text-anchor="end" fill="#231f20">9.23 × 10<tspan dy="-3.3" font-size="6.6">−36</tspan></text>
<line x1="100.90" y1="237.50" x2="171.60" y2="237.50" stroke="#444" stroke-width="0.9" />
<circle cx="136.40" cy="237.60" r="2.50" fill="#178b89" stroke="#203a3a" stroke-width="0.6" />
<line x1="139.00" y1="263.50" x2="157.60" y2="263.50" stroke="#444" stroke-width="0.9" />
<rect x="145.60" y="261.10" width="4.80" height="4.80" fill="#178b89" stroke="#203a3a" stroke-width="0.6" />
<path d="M138.3,288.8 L147.3,282.3 L156.4,288.8 L147.3,295.4 Z" fill="#178b89" stroke="#203a3a" stroke-width="0.6"/>
<text x="202" y="212.5" font-size="11" font-weight="bold" fill="#000" stroke="#000" stroke-width="0.3">d</text>
<line x1="319.50" y1="209.30" x2="319.50" y2="314.20" stroke="#231f20" stroke-width="0.75" />
<line x1="319.35" y1="314.50" x2="445.00" y2="314.50" stroke="#231f20" stroke-width="0.75" />
<line x1="354.50" y1="314.20" x2="354.50" y2="316.80" stroke="#231f20" stroke-width="0.75" />
<text x="354.50" y="326.21" font-size="9.2" text-anchor="middle" fill="#231f20" >1.0</text>
<line x1="397.50" y1="314.20" x2="397.50" y2="316.80" stroke="#231f20" stroke-width="0.75" />
<text x="397.90" y="326.21" font-size="9.2" text-anchor="middle" fill="#231f20" >1.5</text>
<line x1="428.50" y1="314.20" x2="428.50" y2="316.80" stroke="#231f20" stroke-width="0.75" />
<text x="428.70" y="326.21" font-size="9.2" text-anchor="middle" fill="#231f20" >2.0</text>
<text x="380.50" y="338.21" font-size="9.2" text-anchor="middle" fill="#231f20" >Hazard ratio</text>
<text transform="translate(209.61,259.00) rotate(-90)" font-size="9.2" text-anchor="middle" fill="#231f20">Covariate</text>
<text x="314.90" y="230.11" font-size="9.2" text-anchor="end" fill="#231f20" >CDRGLOB</text>
<line x1="395.40" y1="226.50" x2="438.70" y2="226.50" stroke="#555" stroke-width="0.9" />
<circle cx="417.20" cy="226.80" r="2.20" fill="#a9d3e6" stroke="#2a3a44" stroke-width="0.6" />
<text x="314.90" y="247.51" font-size="9.2" text-anchor="end" fill="#231f20" >CognitionBrain AgeGap</text>
<line x1="367.00" y1="244.50" x2="439.30" y2="244.50" stroke="#555" stroke-width="0.9" />
<circle cx="403.10" cy="244.20" r="2.20" fill="#a9d3e6" stroke="#2a3a44" stroke-width="0.6" />
<text x="314.90" y="264.91" font-size="9.2" text-anchor="end" fill="#231f20" >PlasmaPTau181</text>
<line x1="361.20" y1="261.50" x2="408.60" y2="261.50" stroke="#999" stroke-width="0.9" />
<circle cx="385.20" cy="261.60" r="2.20" fill="#a9d3e6" stroke="#2a3a44" stroke-width="0.6" />
<text x="314.90" y="282.31" font-size="9.2" text-anchor="end" fill="#231f20" >Age</text>
<line x1="334.90" y1="279.50" x2="404.20" y2="279.50" stroke="#555" stroke-width="0.9" />
<circle cx="369.70" cy="279.00" r="2.20" fill="#a9d3e6" stroke="#2a3a44" stroke-width="0.6" />
<text x="314.90" y="299.31" font-size="9.2" text-anchor="end" fill="#231f20" >PRS</text>
<line x1="325.20" y1="296.50" x2="391.00" y2="296.50" stroke="#555" stroke-width="0.9" />
<circle cx="358.10" cy="296.00" r="2.20" fill="#a9d3e6" stroke="#2a3a44" stroke-width="0.6" />
<text x="284.80" y="315.41" font-size="9.2" text-anchor="middle" fill="#231f20" >Concordance</text>
<text x="284.80" y="326.21" font-size="9.2" text-anchor="middle" fill="#231f20" >index = 0.917</text>
<text x="469.9" y="214.9" font-size="9.2" text-anchor="middle" fill="#231f20"><tspan font-style="italic">P</tspan> value</text>
<text x="447.4" y="230.3" font-size="9.2" fill="#231f20">1.57 × 10<tspan dy="-3.3" font-size="6.6">−8</tspan></text>
<text x="447" y="247.3" font-size="9.2" fill="#231f20">8.95 × 10<tspan dy="-3.3" font-size="6.6">−3</tspan></text>
<text x="469.90" y="264.81" font-size="9.2" text-anchor="middle" fill="#231f20" >0.01</text>
<text x="469.90" y="281.81" font-size="9.2" text-anchor="middle" fill="#231f20" >0.40</text>
<text x="469.90" y="298.81" font-size="9.2" text-anchor="middle" fill="#231f20" >0.85</text>
<line x1="501.50" y1="237.00" x2="501.50" y2="265.20" stroke="#9a9a9a" stroke-width="1.2" />
<line x1="501.00" y1="250.50" x2="513.50" y2="250.50" stroke="#222" stroke-width="0.8" />
<path d="M516.7,250.1 L512.5,248 L512.5,252.2 Z" fill="#222"/>
<text x="526.8" y="212" font-size="11" font-weight="bold" fill="#000" stroke="#000" stroke-width="0.3">e</text>
<line x1="560.50" y1="212.60" x2="560.50" y2="333.40" stroke="#231f20" stroke-width="0.75" />
<line x1="560.25" y1="333.50" x2="681.70" y2="333.50" stroke="#231f20" stroke-width="0.75" />
<line x1="558.10" y1="214.50" x2="560.60" y2="214.50" stroke="#231f20" stroke-width="0.75" />
<text x="556.80" y="217.61" font-size="9.2" text-anchor="end" fill="#231f20" >1.0</text>
<line x1="558.10" y1="237.50" x2="560.60" y2="237.50" stroke="#231f20" stroke-width="0.75" />
<text x="556.80" y="240.31" font-size="9.2" text-anchor="end" fill="#231f20" >0.8</text>
<line x1="558.10" y1="259.50" x2="560.60" y2="259.50" stroke="#231f20" stroke-width="0.75" />
<text x="556.80" y="263.01" font-size="9.2" text-anchor="end" fill="#231f20" >0.6</text>
<line x1="558.10" y1="282.50" x2="560.60" y2="282.50" stroke="#231f20" stroke-width="0.75" />
<text x="556.80" y="285.71" font-size="9.2" text-anchor="end" fill="#231f20" >0.4</text>
<line x1="558.10" y1="305.50" x2="560.60" y2="305.50" stroke="#231f20" stroke-width="0.75" />
<text x="556.80" y="308.41" font-size="9.2" text-anchor="end" fill="#231f20" >0.2</text>
<line x1="558.10" y1="327.50" x2="560.60" y2="327.50" stroke="#231f20" stroke-width="0.75" />
<text x="556.80" y="331.11" font-size="9.2" text-anchor="end" fill="#231f20" >0</text>
<line x1="565.50" y1="333.40" x2="565.50" y2="336.00" stroke="#231f20" stroke-width="0.75" />
<text x="565.20" y="345.31" font-size="9.2" text-anchor="middle" fill="#231f20" >0</text>
<line x1="587.50" y1="333.40" x2="587.50" y2="336.00" stroke="#231f20" stroke-width="0.75" />
<text x="587.46" y="345.31" font-size="9.2" text-anchor="middle" fill="#231f20" >1</text>
<line x1="609.50" y1="333.40" x2="609.50" y2="336.00" stroke="#231f20" stroke-width="0.75" />
<text x="609.72" y="345.31" font-size="9.2" text-anchor="middle" fill="#231f20" >2</text>
<line x1="631.50" y1="333.40" x2="631.50" y2="336.00" stroke="#231f20" stroke-width="0.75" />
<text x="631.98" y="345.31" font-size="9.2" text-anchor="middle" fill="#231f20" >3</text>
<line x1="654.50" y1="333.40" x2="654.50" y2="336.00" stroke="#231f20" stroke-width="0.75" />
<text x="654.24" y="345.31" font-size="9.2" text-anchor="middle" fill="#231f20" >4</text>
<line x1="676.50" y1="333.40" x2="676.50" y2="336.00" stroke="#231f20" stroke-width="0.75" />
<text x="676.50" y="345.31" font-size="9.2" text-anchor="middle" fill="#231f20" >5</text>
<text x="621.00" y="358.41" font-size="9.2" text-anchor="middle" fill="#231f20" >Time in years</text>
<text transform="translate(535.31,272.60) rotate(-90)" font-size="9.2" text-anchor="middle" fill="#231f20">Cumulative incidence</text>
<text x="567.40" y="214.91" font-size="9.2" fill="#231f20" >Combined biomarker</text>
<text x="567.40" y="225.11" font-size="9.2" fill="#231f20" >levels (per s.d.)</text>
<line x1="570.30" y1="236.50" x2="583.80" y2="236.50" stroke="#b5383c" stroke-width="1.3" />
<text x="587.70" y="240.11" font-size="9.2" fill="#231f20" >2</text>
<line x1="570.30" y1="246.50" x2="583.80" y2="246.50" stroke="#e0878b" stroke-width="1.3" />
<text x="587.70" y="249.31" font-size="9.2" fill="#231f20" >1</text>
<line x1="570.30" y1="255.50" x2="583.80" y2="255.50" stroke="#f4cdcd" stroke-width="1.3" />
<text x="587.70" y="258.41" font-size="9.2" fill="#231f20" >0</text>
<line x1="570.30" y1="263.50" x2="583.80" y2="263.50" stroke="#a9bfe3" stroke-width="1.3" />
<text x="587.70" y="267.11" font-size="9.2" fill="#231f20" >−1</text>
<line x1="570.30" y1="273.50" x2="583.80" y2="273.50" stroke="#3b6fc0" stroke-width="1.3" />
<text x="587.70" y="276.41" font-size="9.2" fill="#231f20" >−2</text>
<text x="569.90" y="286.51" font-size="9.2" fill="#231f20" >Hazard</text>
<text x="569.90" y="293.91" font-size="9.2" fill="#231f20" >ratio = 2.08</text>
<path d="M565.20,327.80 H578.56 V327.76 H584.12 V327.71 H585.68 V327.56 H586.79 V327.40 H587.91 V327.23 H589.24 V327.10 H590.80 V327.02 H593.03 V326.98 H606.38 V326.85 H608.61 V326.67 H610.17 V326.35 H611.95 V326.16 H615.29 V326.06 H617.51 V325.82 H619.74 V325.67 H630.87 V325.51 H632.43 V325.14 H634.21 V324.70 H636.43 V324.23 H638.66 V323.86 H642.00 V323.60 H645.34 V323.20 H653.13 V322.92 H655.35 V322.49 H657.58 V321.70 H660.92 V319.85 H665.37 V317.13 H676.50 V317.13 H676.50" fill="none" stroke="#3b6fc0" stroke-width="1.3"/>
<path d="M565.20,327.80 H578.56 V327.72 H584.12 V327.62 H585.68 V327.33 H586.79 V327.02 H587.91 V326.69 H589.24 V326.45 H590.80 V326.28 H593.03 V326.20 H606.38 V325.95 H608.61 V325.60 H610.17 V324.98 H611.95 V324.62 H615.29 V324.44 H617.51 V323.96 H619.74 V323.68 H630.87 V323.38 H632.43 V322.68 H634.21 V321.83 H636.43 V320.94 H638.66 V320.24 H642.00 V319.76 H645.34 V319.01 H653.13 V318.49 H655.35 V317.67 H657.58 V316.21 H660.92 V312.82 H665.37 V307.93 H676.50 V307.93 H676.50" fill="none" stroke="#a9bfe3" stroke-width="1.3"/>
<path d="M565.20,327.80 H578.56 V327.65 H584.12 V327.44 H585.68 V326.89 H586.79 V326.28 H587.91 V325.65 H589.24 V325.18 H590.80 V324.86 H593.03 V324.70 H606.38 V324.21 H608.61 V323.55 H610.17 V322.37 H611.95 V321.68 H615.29 V321.33 H617.51 V320.44 H619.74 V319.90 H630.87 V319.34 H632.43 V318.02 H634.21 V316.45 H636.43 V314.81 H638.66 V313.53 H642.00 V312.65 H645.34 V311.29 H653.13 V310.35 H655.35 V308.89 H657.58 V306.30 H660.92 V300.42 H665.37 V292.28 H676.50 V292.28 H676.50" fill="none" stroke="#f4cdcd" stroke-width="1.3"/>
<path d="M565.20,327.80 H578.56 V327.51 H584.12 V327.10 H585.68 V326.04 H586.79 V324.85 H587.91 V323.65 H589.24 V322.75 H590.80 V322.14 H593.03 V321.83 H606.38 V320.91 H608.61 V319.67 H610.17 V317.46 H611.95 V316.17 H615.29 V315.53 H617.51 V313.89 H619.74 V312.90 H630.87 V311.90 H632.43 V309.52 H634.21 V306.73 H636.43 V303.86 H638.66 V301.64 H642.00 V300.14 H645.34 V297.83 H653.13 V296.26 H655.35 V293.85 H657.58 V289.66 H660.92 V280.55 H665.37 V268.90 H676.50 V268.90 H676.50" fill="none" stroke="#e0878b" stroke-width="1.3"/>
<path d="M565.20,327.80 H578.56 V327.23 H584.12 V326.44 H585.68 V324.39 H586.79 V322.12 H587.91 V319.86 H589.24 V318.15 H590.80 V317.02 H593.03 V316.45 H606.38 V314.75 H608.61 V312.48 H610.17 V308.50 H611.95 V306.24 H615.29 V305.10 H617.51 V302.26 H619.74 V300.56 H630.87 V298.86 H632.43 V294.88 H634.21 V290.35 H636.43 V285.81 H638.66 V282.40 H642.00 V280.13 H645.34 V276.73 H653.13 V274.46 H655.35 V271.05 H657.58 V265.38 H660.92 V254.03 H665.37 V241.54 H676.50 V241.54 H676.50" fill="none" stroke="#b5383c" stroke-width="1.3"/>
<text x="0" y="368" font-size="11" font-weight="bold" fill="#000" stroke="#000" stroke-width="0.3">f</text>
<rect x="1.50" y="376.30" width="8.03" height="11.10" fill="#fff" stroke="#444" stroke-width="0.6" />
<rect x="1.50" y="387.40" width="8.03" height="10.90" fill="#fff" stroke="#444" stroke-width="0.6" />
<rect x="9.53" y="376.30" width="8.03" height="11.10" fill="#fff" stroke="#444" stroke-width="0.6" />
<rect x="9.53" y="387.40" width="8.03" height="10.90" fill="#fff" stroke="#444" stroke-width="0.6" />
<rect x="17.56" y="376.30" width="8.03" height="11.10" fill="#fff" stroke="#444" stroke-width="0.6" />
<rect x="17.56" y="387.40" width="8.03" height="10.90" fill="#fff" stroke="#444" stroke-width="0.6" />
<rect x="25.59" y="376.30" width="8.03" height="11.10" fill="#fff" stroke="#444" stroke-width="0.6" />
<rect x="25.59" y="387.40" width="8.03" height="10.90" fill="#138a87" stroke="#444" stroke-width="0.6" />
<rect x="33.62" y="376.30" width="8.03" height="11.10" fill="#fff" stroke="#444" stroke-width="0.6" />
<rect x="33.62" y="387.40" width="8.03" height="10.90" fill="#fff" stroke="#444" stroke-width="0.6" />
<rect x="41.65" y="376.30" width="8.03" height="11.10" fill="#fff" stroke="#444" stroke-width="0.6" />
<rect x="41.65" y="387.40" width="8.03" height="10.90" fill="#fff" stroke="#444" stroke-width="0.6" />
<rect x="49.68" y="376.30" width="8.03" height="11.10" fill="#fff" stroke="#444" stroke-width="0.6" />
<rect x="49.68" y="387.40" width="8.03" height="10.90" fill="#138a87" stroke="#444" stroke-width="0.6" />
<rect x="57.71" y="376.30" width="8.03" height="11.10" fill="#fff" stroke="#444" stroke-width="0.6" />
<rect x="57.71" y="387.40" width="8.03" height="10.90" fill="#fff" stroke="#444" stroke-width="0.6" />
<rect x="65.74" y="376.30" width="8.03" height="11.10" fill="#fff" stroke="#444" stroke-width="0.6" />
<rect x="65.74" y="387.40" width="8.03" height="10.90" fill="#fff" stroke="#444" stroke-width="0.6" />
<rect x="73.77" y="376.30" width="8.03" height="11.10" fill="#fff" stroke="#444" stroke-width="0.6" />
<rect x="73.77" y="387.40" width="8.03" height="10.90" fill="#fff" stroke="#444" stroke-width="0.6" />
<rect x="81.80" y="376.30" width="8.03" height="11.10" fill="#fff" stroke="#444" stroke-width="0.6" />
<rect x="81.80" y="387.40" width="8.03" height="10.90" fill="#fff" stroke="#444" stroke-width="0.6" />
<rect x="89.83" y="376.30" width="8.03" height="11.10" fill="#fff" stroke="#444" stroke-width="0.6" />
<rect x="89.83" y="387.40" width="8.03" height="10.90" fill="#fff" stroke="#444" stroke-width="0.6" />
<rect x="97.86" y="376.30" width="8.03" height="11.10" fill="#fff" stroke="#444" stroke-width="0.6" />
<rect x="97.86" y="387.40" width="8.03" height="10.90" fill="#138a87" stroke="#444" stroke-width="0.6" />
<rect x="105.89" y="376.30" width="8.03" height="11.10" fill="#fff" stroke="#444" stroke-width="0.6" />
<rect x="105.89" y="387.40" width="8.03" height="10.90" fill="#fff" stroke="#444" stroke-width="0.6" />
<rect x="113.92" y="376.30" width="8.03" height="11.10" fill="#fff" stroke="#444" stroke-width="0.6" />
<rect x="113.92" y="387.40" width="8.03" height="10.90" fill="#fff" stroke="#444" stroke-width="0.6" />
<rect x="121.95" y="376.30" width="8.03" height="11.10" fill="#fff" stroke="#444" stroke-width="0.6" />
<rect x="121.95" y="387.40" width="8.03" height="10.90" fill="#138a87" stroke="#444" stroke-width="0.6" />
<rect x="129.98" y="376.30" width="8.03" height="11.10" fill="#fff" stroke="#444" stroke-width="0.6" />
<rect x="129.98" y="387.40" width="8.03" height="10.90" fill="#fff" stroke="#444" stroke-width="0.6" />
<rect x="138.01" y="376.30" width="8.03" height="11.10" fill="#fff" stroke="#444" stroke-width="0.6" />
<rect x="138.01" y="387.40" width="8.03" height="10.90" fill="#fff" stroke="#444" stroke-width="0.6" />
<rect x="146.04" y="376.30" width="8.03" height="11.10" fill="#fff" stroke="#444" stroke-width="0.6" />
<rect x="146.04" y="387.40" width="8.03" height="10.90" fill="#fff" stroke="#444" stroke-width="0.6" />
<rect x="154.07" y="376.30" width="8.03" height="11.10" fill="#fff" stroke="#444" stroke-width="0.6" />
<rect x="154.07" y="387.40" width="8.03" height="10.90" fill="#138a87" stroke="#444" stroke-width="0.6" />
<rect x="162.10" y="376.30" width="8.03" height="11.10" fill="#fff" stroke="#444" stroke-width="0.6" />
<rect x="162.10" y="387.40" width="8.03" height="10.90" fill="#fff" stroke="#444" stroke-width="0.6" />
<rect x="170.13" y="376.30" width="8.03" height="11.10" fill="#fff" stroke="#444" stroke-width="0.6" />
<rect x="170.13" y="387.40" width="8.03" height="10.90" fill="#fff" stroke="#444" stroke-width="0.6" />
<rect x="178.16" y="376.30" width="8.03" height="11.10" fill="#fff" stroke="#444" stroke-width="0.6" />
<rect x="178.16" y="387.40" width="8.03" height="10.90" fill="#fff" stroke="#444" stroke-width="0.6" />
<rect x="186.19" y="376.30" width="8.03" height="11.10" fill="#fff" stroke="#444" stroke-width="0.6" />
<rect x="186.19" y="387.40" width="8.03" height="10.90" fill="#fff" stroke="#444" stroke-width="0.6" />
<rect x="194.22" y="376.30" width="8.03" height="11.10" fill="#fff" stroke="#444" stroke-width="0.6" />
<rect x="194.22" y="387.40" width="8.03" height="10.90" fill="#138a87" stroke="#444" stroke-width="0.6" />
<rect x="202.25" y="376.30" width="8.03" height="11.10" fill="#fff" stroke="#444" stroke-width="0.6" />
<rect x="202.25" y="387.40" width="8.03" height="10.90" fill="#fff" stroke="#444" stroke-width="0.6" />
<rect x="210.28" y="376.30" width="8.03" height="11.10" fill="#fff" stroke="#444" stroke-width="0.6" />
<rect x="210.28" y="387.40" width="8.03" height="10.90" fill="#fff" stroke="#444" stroke-width="0.6" />
<rect x="218.31" y="376.30" width="8.03" height="11.10" fill="#fff" stroke="#444" stroke-width="0.6" />
<rect x="218.31" y="387.40" width="8.03" height="10.90" fill="#fff" stroke="#444" stroke-width="0.6" />
<rect x="226.34" y="376.30" width="8.03" height="11.10" fill="#fff" stroke="#444" stroke-width="0.6" />
<rect x="226.34" y="387.40" width="8.03" height="10.90" fill="#fff" stroke="#444" stroke-width="0.6" />
<rect x="234.37" y="376.30" width="8.03" height="11.10" fill="#fff" stroke="#444" stroke-width="0.6" />
<rect x="234.37" y="387.40" width="8.03" height="10.90" fill="#fff" stroke="#444" stroke-width="0.6" />
<rect x="242.40" y="376.30" width="8.03" height="11.10" fill="#fff" stroke="#444" stroke-width="0.6" />
<rect x="242.40" y="387.40" width="8.03" height="10.90" fill="#fff" stroke="#444" stroke-width="0.6" />
<rect x="250.43" y="376.30" width="8.03" height="11.10" fill="#fff" stroke="#444" stroke-width="0.6" />
<rect x="250.43" y="387.40" width="8.03" height="10.90" fill="#138a87" stroke="#444" stroke-width="0.6" />
<rect x="258.46" y="376.30" width="8.03" height="11.10" fill="#fff" stroke="#444" stroke-width="0.6" />
<rect x="258.46" y="387.40" width="8.03" height="10.90" fill="#fff" stroke="#444" stroke-width="0.6" />
<rect x="266.49" y="376.30" width="8.03" height="11.10" fill="#fff" stroke="#444" stroke-width="0.6" />
<rect x="266.49" y="387.40" width="8.03" height="10.90" fill="#fff" stroke="#444" stroke-width="0.6" />
<rect x="274.52" y="376.30" width="8.03" height="11.10" fill="#fff" stroke="#444" stroke-width="0.6" />
<rect x="274.52" y="387.40" width="8.03" height="10.90" fill="#fff" stroke="#444" stroke-width="0.6" />
<rect x="282.55" y="376.30" width="8.03" height="11.10" fill="#fff" stroke="#444" stroke-width="0.6" />
<rect x="282.55" y="387.40" width="8.03" height="10.90" fill="#fff" stroke="#444" stroke-width="0.6" />
<rect x="290.58" y="376.30" width="8.03" height="11.10" fill="#fff" stroke="#444" stroke-width="0.6" />
<rect x="290.58" y="387.40" width="8.03" height="10.90" fill="#fff" stroke="#444" stroke-width="0.6" />
<rect x="298.61" y="376.30" width="8.03" height="11.10" fill="#fff" stroke="#444" stroke-width="0.6" />
<rect x="298.61" y="387.40" width="8.03" height="10.90" fill="#fff" stroke="#444" stroke-width="0.6" />
<rect x="306.64" y="376.30" width="8.03" height="11.10" fill="#fff" stroke="#444" stroke-width="0.6" />
<rect x="306.64" y="387.40" width="8.03" height="10.90" fill="#fff" stroke="#444" stroke-width="0.6" />
<rect x="314.67" y="376.30" width="8.03" height="11.10" fill="#fff" stroke="#444" stroke-width="0.6" />
<rect x="314.67" y="387.40" width="8.03" height="10.90" fill="#fff" stroke="#444" stroke-width="0.6" />
<rect x="322.70" y="376.30" width="8.03" height="11.10" fill="#fff" stroke="#444" stroke-width="0.6" />
<rect x="322.70" y="387.40" width="8.03" height="10.90" fill="#fff" stroke="#444" stroke-width="0.6" />
<rect x="330.73" y="376.30" width="8.03" height="11.10" fill="#fff" stroke="#444" stroke-width="0.6" />
<rect x="330.73" y="387.40" width="8.03" height="10.90" fill="#fff" stroke="#444" stroke-width="0.6" />
<rect x="338.76" y="376.30" width="8.03" height="11.10" fill="#fff" stroke="#444" stroke-width="0.6" />
<rect x="338.76" y="387.40" width="8.03" height="10.90" fill="#138a87" stroke="#444" stroke-width="0.6" />
<rect x="346.79" y="376.30" width="8.03" height="11.10" fill="#fff" stroke="#444" stroke-width="0.6" />
<rect x="346.79" y="387.40" width="8.03" height="10.90" fill="#fff" stroke="#444" stroke-width="0.6" />
<rect x="354.82" y="376.30" width="8.03" height="11.10" fill="#fff" stroke="#444" stroke-width="0.6" />
<rect x="354.82" y="387.40" width="8.03" height="10.90" fill="#138a87" stroke="#444" stroke-width="0.6" />
<rect x="362.85" y="376.30" width="8.03" height="11.10" fill="#fff" stroke="#444" stroke-width="0.6" />
<rect x="362.85" y="387.40" width="8.03" height="10.90" fill="#fff" stroke="#444" stroke-width="0.6" />
<rect x="1.50" y="376.30" width="8.03" height="11.10" fill="#000" stroke="#000" stroke-width="0.6" />
<rect x="25.59" y="376.30" width="32.12" height="11.10" fill="#000" stroke="#000" stroke-width="0.6" />
<rect x="97.86" y="376.30" width="8.03" height="11.10" fill="#000" stroke="#000" stroke-width="0.6" />
<rect x="113.92" y="376.30" width="8.03" height="11.10" fill="#000" stroke="#000" stroke-width="0.6" />
<rect x="129.98" y="376.30" width="48.18" height="11.10" fill="#000" stroke="#000" stroke-width="0.6" />
<rect x="186.19" y="376.30" width="16.06" height="11.10" fill="#000" stroke="#000" stroke-width="0.6" />
<rect x="218.31" y="376.30" width="8.03" height="11.10" fill="#000" stroke="#000" stroke-width="0.6" />
<rect x="234.37" y="376.30" width="16.06" height="11.10" fill="#000" stroke="#000" stroke-width="0.6" />
<rect x="266.49" y="376.30" width="8.03" height="11.10" fill="#000" stroke="#000" stroke-width="0.6" />
<rect x="282.55" y="376.30" width="8.03" height="11.10" fill="#000" stroke="#000" stroke-width="0.6" />
<rect x="330.73" y="376.30" width="8.03" height="11.10" fill="#000" stroke="#000" stroke-width="0.6" />
<rect x="1.50" y="403.00" width="8.33" height="13.70" fill="#fef8f8" stroke="none" stroke-width="0.5" />
<rect x="1.50" y="416.40" width="8.33" height="13.70" fill="#8280c5" stroke="none" stroke-width="0.5" />
<rect x="1.50" y="429.80" width="8.33" height="13.70" fill="#6563b8" stroke="none" stroke-width="0.5" />
<rect x="1.50" y="443.20" width="8.33" height="13.70" fill="#f3b3b3" stroke="none" stroke-width="0.5" />
<rect x="1.50" y="456.60" width="8.33" height="13.70" fill="#e24646" stroke="none" stroke-width="0.5" />
<rect x="9.53" y="403.00" width="8.33" height="13.70" fill="#fef8f8" stroke="none" stroke-width="0.5" />
<rect x="9.53" y="416.40" width="8.33" height="13.70" fill="#b2b1db" stroke="none" stroke-width="0.5" />
<rect x="9.53" y="429.80" width="8.33" height="13.70" fill="#b2b1db" stroke="none" stroke-width="0.5" />
<rect x="9.53" y="443.20" width="8.33" height="13.70" fill="#b2b1db" stroke="none" stroke-width="0.5" />
<rect x="9.53" y="456.60" width="8.33" height="13.70" fill="#df3030" stroke="none" stroke-width="0.5" />
<rect x="17.56" y="403.00" width="8.33" height="13.70" fill="#e76666" stroke="none" stroke-width="0.5" />
<rect x="17.56" y="416.40" width="8.33" height="13.70" fill="#f09d9d" stroke="none" stroke-width="0.5" />
<rect x="17.56" y="429.80" width="8.33" height="13.70" fill="#5b59b3" stroke="none" stroke-width="0.5" />
<rect x="17.56" y="443.20" width="8.33" height="13.70" fill="#7876c1" stroke="none" stroke-width="0.5" />
<rect x="17.56" y="456.60" width="8.33" height="13.70" fill="#fadede" stroke="none" stroke-width="0.5" />
<rect x="25.59" y="403.00" width="8.33" height="13.70" fill="#e45151" stroke="none" stroke-width="0.5" />
<rect x="25.59" y="416.40" width="8.33" height="13.70" fill="#ee9292" stroke="none" stroke-width="0.5" />
<rect x="25.59" y="429.80" width="8.33" height="13.70" fill="#8b8aca" stroke="none" stroke-width="0.5" />
<rect x="25.59" y="443.20" width="8.33" height="13.70" fill="#a8a7d7" stroke="none" stroke-width="0.5" />
<rect x="25.59" y="456.60" width="8.33" height="13.70" fill="#9594ce" stroke="none" stroke-width="0.5" />
<rect x="33.62" y="403.00" width="8.33" height="13.70" fill="#dd2525" stroke="none" stroke-width="0.5" />
<rect x="33.62" y="416.40" width="8.33" height="13.70" fill="#fbe5e5" stroke="none" stroke-width="0.5" />
<rect x="33.62" y="429.80" width="8.33" height="13.70" fill="#9e9ed2" stroke="none" stroke-width="0.5" />
<rect x="33.62" y="443.20" width="8.33" height="13.70" fill="#a8a7d7" stroke="none" stroke-width="0.5" />
<rect x="33.62" y="456.60" width="8.33" height="13.70" fill="#b2b1db" stroke="none" stroke-width="0.5" />
<rect x="41.65" y="403.00" width="8.33" height="13.70" fill="#dd2525" stroke="none" stroke-width="0.5" />
<rect x="41.65" y="416.40" width="8.33" height="13.70" fill="#b2b1db" stroke="none" stroke-width="0.5" />
<rect x="41.65" y="429.80" width="8.33" height="13.70" fill="#9e9ed2" stroke="none" stroke-width="0.5" />
<rect x="41.65" y="443.20" width="8.33" height="13.70" fill="#ffffff" stroke="none" stroke-width="0.5" />
<rect x="41.65" y="456.60" width="8.33" height="13.70" fill="#c5c4e4" stroke="none" stroke-width="0.5" />
<rect x="49.68" y="403.00" width="8.33" height="13.70" fill="#dd2525" stroke="none" stroke-width="0.5" />
<rect x="49.68" y="416.40" width="8.33" height="13.70" fill="#a8a7d7" stroke="none" stroke-width="0.5" />
<rect x="49.68" y="429.80" width="8.33" height="13.70" fill="#b2b1db" stroke="none" stroke-width="0.5" />
<rect x="49.68" y="443.20" width="8.33" height="13.70" fill="#fceeee" stroke="none" stroke-width="0.5" />
<rect x="49.68" y="456.60" width="8.33" height="13.70" fill="#b2b1db" stroke="none" stroke-width="0.5" />
<rect x="57.71" y="403.00" width="8.33" height="13.70" fill="#dd2525" stroke="none" stroke-width="0.5" />
<rect x="57.71" y="416.40" width="8.33" height="13.70" fill="#a8a7d7" stroke="none" stroke-width="0.5" />
<rect x="57.71" y="429.80" width="8.33" height="13.70" fill="#a8a7d7" stroke="none" stroke-width="0.5" />
<rect x="57.71" y="443.20" width="8.33" height="13.70" fill="#fce9e9" stroke="none" stroke-width="0.5" />
<rect x="57.71" y="456.60" width="8.33" height="13.70" fill="#b2b1db" stroke="none" stroke-width="0.5" />
<rect x="65.74" y="403.00" width="8.33" height="13.70" fill="#dd2525" stroke="none" stroke-width="0.5" />
<rect x="65.74" y="416.40" width="8.33" height="13.70" fill="#bbbbe0" stroke="none" stroke-width="0.5" />
<rect x="65.74" y="429.80" width="8.33" height="13.70" fill="#9594ce" stroke="none" stroke-width="0.5" />
<rect x="65.74" y="443.20" width="8.33" height="13.70" fill="#f8d3d3" stroke="none" stroke-width="0.5" />
<rect x="65.74" y="456.60" width="8.33" height="13.70" fill="#a8a7d7" stroke="none" stroke-width="0.5" />
<rect x="73.77" y="403.00" width="8.33" height="13.70" fill="#e03b3b" stroke="none" stroke-width="0.5" />
<rect x="73.77" y="416.40" width="8.33" height="13.70" fill="#8b8aca" stroke="none" stroke-width="0.5" />
<rect x="73.77" y="429.80" width="8.33" height="13.70" fill="#9594ce" stroke="none" stroke-width="0.5" />
<rect x="73.77" y="443.20" width="8.33" height="13.70" fill="#f09d9d" stroke="none" stroke-width="0.5" />
<rect x="73.77" y="456.60" width="8.33" height="13.70" fill="#b2b1db" stroke="none" stroke-width="0.5" />
<rect x="81.80" y="403.00" width="8.33" height="13.70" fill="#dd2525" stroke="none" stroke-width="0.5" />
<rect x="81.80" y="416.40" width="8.33" height="13.70" fill="#bbbbe0" stroke="none" stroke-width="0.5" />
<rect x="81.80" y="429.80" width="8.33" height="13.70" fill="#bbbbe0" stroke="none" stroke-width="0.5" />
<rect x="81.80" y="443.20" width="8.33" height="13.70" fill="#c5c4e4" stroke="none" stroke-width="0.5" />
<rect x="81.80" y="456.60" width="8.33" height="13.70" fill="#c5c4e4" stroke="none" stroke-width="0.5" />
<rect x="89.83" y="403.00" width="8.33" height="13.70" fill="#dd2525" stroke="none" stroke-width="0.5" />
<rect x="89.83" y="416.40" width="8.33" height="13.70" fill="#b6b5dd" stroke="none" stroke-width="0.5" />
<rect x="89.83" y="429.80" width="8.33" height="13.70" fill="#bbbbe0" stroke="none" stroke-width="0.5" />
<rect x="89.83" y="443.20" width="8.33" height="13.70" fill="#c9c8e6" stroke="none" stroke-width="0.5" />
<rect x="89.83" y="456.60" width="8.33" height="13.70" fill="#b6b5dd" stroke="none" stroke-width="0.5" />
<rect x="97.86" y="403.00" width="8.33" height="13.70" fill="#dd2525" stroke="none" stroke-width="0.5" />
<rect x="97.86" y="416.40" width="8.33" height="13.70" fill="#b6b5dd" stroke="none" stroke-width="0.5" />
<rect x="97.86" y="429.80" width="8.33" height="13.70" fill="#bbbbe0" stroke="none" stroke-width="0.5" />
<rect x="97.86" y="443.20" width="8.33" height="13.70" fill="#c9c8e6" stroke="none" stroke-width="0.5" />
<rect x="97.86" y="456.60" width="8.33" height="13.70" fill="#c1c1e3" stroke="none" stroke-width="0.5" />
<rect x="105.89" y="403.00" width="8.33" height="13.70" fill="#dd2525" stroke="none" stroke-width="0.5" />
<rect x="105.89" y="416.40" width="8.33" height="13.70" fill="#c1c1e3" stroke="none" stroke-width="0.5" />
<rect x="105.89" y="429.80" width="8.33" height="13.70" fill="#a2a1d4" stroke="none" stroke-width="0.5" />
<rect x="105.89" y="443.20" width="8.33" height="13.70" fill="#cfcee9" stroke="none" stroke-width="0.5" />
<rect x="105.89" y="456.60" width="8.33" height="13.70" fill="#c1c1e3" stroke="none" stroke-width="0.5" />
<rect x="113.92" y="403.00" width="8.33" height="13.70" fill="#dd2525" stroke="none" stroke-width="0.5" />
<rect x="113.92" y="416.40" width="8.33" height="13.70" fill="#c1c1e3" stroke="none" stroke-width="0.5" />
<rect x="113.92" y="429.80" width="8.33" height="13.70" fill="#aeadda" stroke="none" stroke-width="0.5" />
<rect x="113.92" y="443.20" width="8.33" height="13.70" fill="#c9c8e6" stroke="none" stroke-width="0.5" />
<rect x="113.92" y="456.60" width="8.33" height="13.70" fill="#c1c1e3" stroke="none" stroke-width="0.5" />
<rect x="121.95" y="403.00" width="8.33" height="13.70" fill="#dd2525" stroke="none" stroke-width="0.5" />
<rect x="121.95" y="416.40" width="8.33" height="13.70" fill="#c5c4e4" stroke="none" stroke-width="0.5" />
<rect x="121.95" y="429.80" width="8.33" height="13.70" fill="#aeadda" stroke="none" stroke-width="0.5" />
<rect x="121.95" y="443.20" width="8.33" height="13.70" fill="#c1c1e3" stroke="none" stroke-width="0.5" />
<rect x="121.95" y="456.60" width="8.33" height="13.70" fill="#c1c1e3" stroke="none" stroke-width="0.5" />
<rect x="129.98" y="403.00" width="8.33" height="13.70" fill="#dd2525" stroke="none" stroke-width="0.5" />
<rect x="129.98" y="416.40" width="8.33" height="13.70" fill="#c5c4e4" stroke="none" stroke-width="0.5" />
<rect x="129.98" y="429.80" width="8.33" height="13.70" fill="#c5c4e4" stroke="none" stroke-width="0.5" />
<rect x="129.98" y="443.20" width="8.33" height="13.70" fill="#bbbbe0" stroke="none" stroke-width="0.5" />
<rect x="129.98" y="456.60" width="8.33" height="13.70" fill="#aeadda" stroke="none" stroke-width="0.5" />
<rect x="138.01" y="403.00" width="8.33" height="13.70" fill="#dd2525" stroke="none" stroke-width="0.5" />
<rect x="138.01" y="416.40" width="8.33" height="13.70" fill="#d5d4eb" stroke="none" stroke-width="0.5" />
<rect x="138.01" y="429.80" width="8.33" height="13.70" fill="#b2b1db" stroke="none" stroke-width="0.5" />
<rect x="138.01" y="443.20" width="8.33" height="13.70" fill="#b6b5dd" stroke="none" stroke-width="0.5" />
<rect x="138.01" y="456.60" width="8.33" height="13.70" fill="#b2b1db" stroke="none" stroke-width="0.5" />
<rect x="146.04" y="403.00" width="8.33" height="13.70" fill="#dd2525" stroke="none" stroke-width="0.5" />
<rect x="146.04" y="416.40" width="8.33" height="13.70" fill="#d5d4eb" stroke="none" stroke-width="0.5" />
<rect x="146.04" y="429.80" width="8.33" height="13.70" fill="#aeadda" stroke="none" stroke-width="0.5" />
<rect x="146.04" y="443.20" width="8.33" height="13.70" fill="#b6b5dd" stroke="none" stroke-width="0.5" />
<rect x="146.04" y="456.60" width="8.33" height="13.70" fill="#b2b1db" stroke="none" stroke-width="0.5" />
<rect x="154.07" y="403.00" width="8.33" height="13.70" fill="#dd2525" stroke="none" stroke-width="0.5" />
<rect x="154.07" y="416.40" width="8.33" height="13.70" fill="#e0e0f1" stroke="none" stroke-width="0.5" />
<rect x="154.07" y="429.80" width="8.33" height="13.70" fill="#cbcae7" stroke="none" stroke-width="0.5" />
<rect x="154.07" y="443.20" width="8.33" height="13.70" fill="#aeadda" stroke="none" stroke-width="0.5" />
<rect x="154.07" y="456.60" width="8.33" height="13.70" fill="#a2a1d4" stroke="none" stroke-width="0.5" />
<rect x="162.10" y="403.00" width="8.33" height="13.70" fill="#dd2525" stroke="none" stroke-width="0.5" />
<rect x="162.10" y="416.40" width="8.33" height="13.70" fill="#cfcee9" stroke="none" stroke-width="0.5" />
<rect x="162.10" y="429.80" width="8.33" height="13.70" fill="#ffffff" stroke="none" stroke-width="0.5" />
<rect x="162.10" y="443.20" width="8.33" height="13.70" fill="#a8a7d7" stroke="none" stroke-width="0.5" />
<rect x="162.10" y="456.60" width="8.33" height="13.70" fill="#9e9ed2" stroke="none" stroke-width="0.5" />
<rect x="170.13" y="403.00" width="8.33" height="13.70" fill="#dd2525" stroke="none" stroke-width="0.5" />
<rect x="170.13" y="416.40" width="8.33" height="13.70" fill="#8b8aca" stroke="none" stroke-width="0.5" />
<rect x="170.13" y="429.80" width="8.33" height="13.70" fill="#ececf6" stroke="none" stroke-width="0.5" />
<rect x="170.13" y="443.20" width="8.33" height="13.70" fill="#e2e2f2" stroke="none" stroke-width="0.5" />
<rect x="170.13" y="456.60" width="8.33" height="13.70" fill="#9594ce" stroke="none" stroke-width="0.5" />
<rect x="178.16" y="403.00" width="8.33" height="13.70" fill="#dd2525" stroke="none" stroke-width="0.5" />
<rect x="178.16" y="416.40" width="8.33" height="13.70" fill="#a8a7d7" stroke="none" stroke-width="0.5" />
<rect x="178.16" y="429.80" width="8.33" height="13.70" fill="#cfcee9" stroke="none" stroke-width="0.5" />
<rect x="178.16" y="443.20" width="8.33" height="13.70" fill="#d8d8ed" stroke="none" stroke-width="0.5" />
<rect x="178.16" y="456.60" width="8.33" height="13.70" fill="#a8a7d7" stroke="none" stroke-width="0.5" />
<rect x="186.19" y="403.00" width="8.33" height="13.70" fill="#dd2525" stroke="none" stroke-width="0.5" />
<rect x="186.19" y="416.40" width="8.33" height="13.70" fill="#9e9ed2" stroke="none" stroke-width="0.5" />
<rect x="186.19" y="429.80" width="8.33" height="13.70" fill="#e2e2f2" stroke="none" stroke-width="0.5" />
<rect x="186.19" y="443.20" width="8.33" height="13.70" fill="#c9c8e6" stroke="none" stroke-width="0.5" />
<rect x="186.19" y="456.60" width="8.33" height="13.70" fill="#a8a7d7" stroke="none" stroke-width="0.5" />
<rect x="194.22" y="403.00" width="8.33" height="13.70" fill="#dd2525" stroke="none" stroke-width="0.5" />
<rect x="194.22" y="416.40" width="8.33" height="13.70" fill="#a8a7d7" stroke="none" stroke-width="0.5" />
<rect x="194.22" y="429.80" width="8.33" height="13.70" fill="#d5d4eb" stroke="none" stroke-width="0.5" />
<rect x="194.22" y="443.20" width="8.33" height="13.70" fill="#c5c4e4" stroke="none" stroke-width="0.5" />
<rect x="194.22" y="456.60" width="8.33" height="13.70" fill="#aeadda" stroke="none" stroke-width="0.5" />
<rect x="202.25" y="403.00" width="8.33" height="13.70" fill="#dd2525" stroke="none" stroke-width="0.5" />
<rect x="202.25" y="416.40" width="8.33" height="13.70" fill="#a2a1d4" stroke="none" stroke-width="0.5" />
<rect x="202.25" y="429.80" width="8.33" height="13.70" fill="#ececf6" stroke="none" stroke-width="0.5" />
<rect x="202.25" y="443.20" width="8.33" height="13.70" fill="#b6b5dd" stroke="none" stroke-width="0.5" />
<rect x="202.25" y="456.60" width="8.33" height="13.70" fill="#a8a7d7" stroke="none" stroke-width="0.5" />
<rect x="210.28" y="403.00" width="8.33" height="13.70" fill="#dd2525" stroke="none" stroke-width="0.5" />
<rect x="210.28" y="416.40" width="8.33" height="13.70" fill="#b6b5dd" stroke="none" stroke-width="0.5" />
<rect x="210.28" y="429.80" width="8.33" height="13.70" fill="#cfcee9" stroke="none" stroke-width="0.5" />
<rect x="210.28" y="443.20" width="8.33" height="13.70" fill="#b6b5dd" stroke="none" stroke-width="0.5" />
<rect x="210.28" y="456.60" width="8.33" height="13.70" fill="#c5c4e4" stroke="none" stroke-width="0.5" />
<rect x="218.31" y="403.00" width="8.33" height="13.70" fill="#dd2525" stroke="none" stroke-width="0.5" />
<rect x="218.31" y="416.40" width="8.33" height="13.70" fill="#b6b5dd" stroke="none" stroke-width="0.5" />
<rect x="218.31" y="429.80" width="8.33" height="13.70" fill="#cfcee9" stroke="none" stroke-width="0.5" />
<rect x="218.31" y="443.20" width="8.33" height="13.70" fill="#b6b5dd" stroke="none" stroke-width="0.5" />
<rect x="218.31" y="456.60" width="8.33" height="13.70" fill="#b6b5dd" stroke="none" stroke-width="0.5" />
<rect x="226.34" y="403.00" width="8.33" height="13.70" fill="#dd2525" stroke="none" stroke-width="0.5" />
<rect x="226.34" y="416.40" width="8.33" height="13.70" fill="#bbbbe0" stroke="none" stroke-width="0.5" />
<rect x="226.34" y="429.80" width="8.33" height="13.70" fill="#c9c8e6" stroke="none" stroke-width="0.5" />
<rect x="226.34" y="443.20" width="8.33" height="13.70" fill="#bab9df" stroke="none" stroke-width="0.5" />
<rect x="226.34" y="456.60" width="8.33" height="13.70" fill="#b2b1db" stroke="none" stroke-width="0.5" />
<rect x="234.37" y="403.00" width="8.33" height="13.70" fill="#dd2525" stroke="none" stroke-width="0.5" />
<rect x="234.37" y="416.40" width="8.33" height="13.70" fill="#c1c1e3" stroke="none" stroke-width="0.5" />
<rect x="234.37" y="429.80" width="8.33" height="13.70" fill="#c5c4e4" stroke="none" stroke-width="0.5" />
<rect x="234.37" y="443.20" width="8.33" height="13.70" fill="#b6b5dd" stroke="none" stroke-width="0.5" />
<rect x="234.37" y="456.60" width="8.33" height="13.70" fill="#b6b5dd" stroke="none" stroke-width="0.5" />
<rect x="242.40" y="403.00" width="8.33" height="13.70" fill="#e03b3b" stroke="none" stroke-width="0.5" />
<rect x="242.40" y="416.40" width="8.33" height="13.70" fill="#9594ce" stroke="none" stroke-width="0.5" />
<rect x="242.40" y="429.80" width="8.33" height="13.70" fill="#ec8787" stroke="none" stroke-width="0.5" />
<rect x="242.40" y="443.20" width="8.33" height="13.70" fill="#a8a7d7" stroke="none" stroke-width="0.5" />
<rect x="242.40" y="456.60" width="8.33" height="13.70" fill="#9594ce" stroke="none" stroke-width="0.5" />
<rect x="250.43" y="403.00" width="8.33" height="13.70" fill="#e03b3b" stroke="none" stroke-width="0.5" />
<rect x="250.43" y="416.40" width="8.33" height="13.70" fill="#a8a7d7" stroke="none" stroke-width="0.5" />
<rect x="250.43" y="429.80" width="8.33" height="13.70" fill="#f09d9d" stroke="none" stroke-width="0.5" />
<rect x="250.43" y="443.20" width="8.33" height="13.70" fill="#c5c4e4" stroke="none" stroke-width="0.5" />
<rect x="250.43" y="456.60" width="8.33" height="13.70" fill="#6563b8" stroke="none" stroke-width="0.5" />
<rect x="258.46" y="403.00" width="8.33" height="13.70" fill="#dd2525" stroke="none" stroke-width="0.5" />
<rect x="258.46" y="416.40" width="8.33" height="13.70" fill="#e2e2f2" stroke="none" stroke-width="0.5" />
<rect x="258.46" y="429.80" width="8.33" height="13.70" fill="#fadede" stroke="none" stroke-width="0.5" />
<rect x="258.46" y="443.20" width="8.33" height="13.70" fill="#b2b1db" stroke="none" stroke-width="0.5" />
<rect x="258.46" y="456.60" width="8.33" height="13.70" fill="#6563b8" stroke="none" stroke-width="0.5" />
<rect x="266.49" y="403.00" width="8.33" height="13.70" fill="#dd2525" stroke="none" stroke-width="0.5" />
<rect x="266.49" y="416.40" width="8.33" height="13.70" fill="#a8a7d7" stroke="none" stroke-width="0.5" />
<rect x="266.49" y="429.80" width="8.33" height="13.70" fill="#fadede" stroke="none" stroke-width="0.5" />
<rect x="266.49" y="443.20" width="8.33" height="13.70" fill="#9e9ed2" stroke="none" stroke-width="0.5" />
<rect x="266.49" y="456.60" width="8.33" height="13.70" fill="#bbbbe0" stroke="none" stroke-width="0.5" />
<rect x="274.52" y="403.00" width="8.33" height="13.70" fill="#dd2525" stroke="none" stroke-width="0.5" />
<rect x="274.52" y="416.40" width="8.33" height="13.70" fill="#a8a7d7" stroke="none" stroke-width="0.5" />
<rect x="274.52" y="429.80" width="8.33" height="13.70" fill="#f9dada" stroke="none" stroke-width="0.5" />
<rect x="274.52" y="443.20" width="8.33" height="13.70" fill="#a8a7d7" stroke="none" stroke-width="0.5" />
<rect x="274.52" y="456.60" width="8.33" height="13.70" fill="#a8a7d7" stroke="none" stroke-width="0.5" />
<rect x="282.55" y="403.00" width="8.33" height="13.70" fill="#dd2525" stroke="none" stroke-width="0.5" />
<rect x="282.55" y="416.40" width="8.33" height="13.70" fill="#a8a7d7" stroke="none" stroke-width="0.5" />
<rect x="282.55" y="429.80" width="8.33" height="13.70" fill="#fbe5e5" stroke="none" stroke-width="0.5" />
<rect x="282.55" y="443.20" width="8.33" height="13.70" fill="#a8a7d7" stroke="none" stroke-width="0.5" />
<rect x="282.55" y="456.60" width="8.33" height="13.70" fill="#a8a7d7" stroke="none" stroke-width="0.5" />
<rect x="290.58" y="403.00" width="8.33" height="13.70" fill="#9594ce" stroke="none" stroke-width="0.5" />
<rect x="290.58" y="416.40" width="8.33" height="13.70" fill="#fef8f8" stroke="none" stroke-width="0.5" />
<rect x="290.58" y="429.80" width="8.33" height="13.70" fill="#dd2525" stroke="none" stroke-width="0.5" />
<rect x="290.58" y="443.20" width="8.33" height="13.70" fill="#ffffff" stroke="none" stroke-width="0.5" />
<rect x="290.58" y="456.60" width="8.33" height="13.70" fill="#6563b8" stroke="none" stroke-width="0.5" />
<rect x="298.61" y="403.00" width="8.33" height="13.70" fill="#f5f5fb" stroke="none" stroke-width="0.5" />
<rect x="298.61" y="416.40" width="8.33" height="13.70" fill="#a8a7d7" stroke="none" stroke-width="0.5" />
<rect x="298.61" y="429.80" width="8.33" height="13.70" fill="#dd2525" stroke="none" stroke-width="0.5" />
<rect x="298.61" y="443.20" width="8.33" height="13.70" fill="#bbbbe0" stroke="none" stroke-width="0.5" />
<rect x="298.61" y="456.60" width="8.33" height="13.70" fill="#bbbbe0" stroke="none" stroke-width="0.5" />
<rect x="306.64" y="403.00" width="8.33" height="13.70" fill="#a8a7d7" stroke="none" stroke-width="0.5" />
<rect x="306.64" y="416.40" width="8.33" height="13.70" fill="#6563b8" stroke="none" stroke-width="0.5" />
<rect x="306.64" y="429.80" width="8.33" height="13.70" fill="#dd2525" stroke="none" stroke-width="0.5" />
<rect x="306.64" y="443.20" width="8.33" height="13.70" fill="#fadede" stroke="none" stroke-width="0.5" />
<rect x="306.64" y="456.60" width="8.33" height="13.70" fill="#dcdcef" stroke="none" stroke-width="0.5" />
<rect x="314.67" y="403.00" width="8.33" height="13.70" fill="#bbbbe0" stroke="none" stroke-width="0.5" />
<rect x="314.67" y="416.40" width="8.33" height="13.70" fill="#fdf2f2" stroke="none" stroke-width="0.5" />
<rect x="314.67" y="429.80" width="8.33" height="13.70" fill="#9594ce" stroke="none" stroke-width="0.5" />
<rect x="314.67" y="443.20" width="8.33" height="13.70" fill="#dd2525" stroke="none" stroke-width="0.5" />
<rect x="314.67" y="456.60" width="8.33" height="13.70" fill="#b2b1db" stroke="none" stroke-width="0.5" />
<rect x="322.70" y="403.00" width="8.33" height="13.70" fill="#9e9ed2" stroke="none" stroke-width="0.5" />
<rect x="322.70" y="416.40" width="8.33" height="13.70" fill="#dd2525" stroke="none" stroke-width="0.5" />
<rect x="322.70" y="429.80" width="8.33" height="13.70" fill="#c5c4e4" stroke="none" stroke-width="0.5" />
<rect x="322.70" y="443.20" width="8.33" height="13.70" fill="#bbbbe0" stroke="none" stroke-width="0.5" />
<rect x="322.70" y="456.60" width="8.33" height="13.70" fill="#ffffff" stroke="none" stroke-width="0.5" />
<rect x="330.73" y="403.00" width="8.33" height="13.70" fill="#c5c4e4" stroke="none" stroke-width="0.5" />
<rect x="330.73" y="416.40" width="8.33" height="13.70" fill="#dd2525" stroke="none" stroke-width="0.5" />
<rect x="330.73" y="429.80" width="8.33" height="13.70" fill="#c5c4e4" stroke="none" stroke-width="0.5" />
<rect x="330.73" y="443.20" width="8.33" height="13.70" fill="#dcdcef" stroke="none" stroke-width="0.5" />
<rect x="330.73" y="456.60" width="8.33" height="13.70" fill="#c5c4e4" stroke="none" stroke-width="0.5" />
<rect x="338.76" y="403.00" width="8.33" height="13.70" fill="#c5c4e4" stroke="none" stroke-width="0.5" />
<rect x="338.76" y="416.40" width="8.33" height="13.70" fill="#dd2525" stroke="none" stroke-width="0.5" />
<rect x="338.76" y="429.80" width="8.33" height="13.70" fill="#c5c4e4" stroke="none" stroke-width="0.5" />
<rect x="338.76" y="443.20" width="8.33" height="13.70" fill="#cfcee9" stroke="none" stroke-width="0.5" />
<rect x="338.76" y="456.60" width="8.33" height="13.70" fill="#cfcee9" stroke="none" stroke-width="0.5" />
<rect x="346.79" y="403.00" width="8.33" height="13.70" fill="#ee9292" stroke="none" stroke-width="0.5" />
<rect x="346.79" y="416.40" width="8.33" height="13.70" fill="#e03b3b" stroke="none" stroke-width="0.5" />
<rect x="346.79" y="429.80" width="8.33" height="13.70" fill="#bbbbe0" stroke="none" stroke-width="0.5" />
<rect x="346.79" y="443.20" width="8.33" height="13.70" fill="#8b8aca" stroke="none" stroke-width="0.5" />
<rect x="346.79" y="456.60" width="8.33" height="13.70" fill="#8b8aca" stroke="none" stroke-width="0.5" />
<rect x="354.82" y="403.00" width="8.33" height="13.70" fill="#fefbfb" stroke="none" stroke-width="0.5" />
<rect x="354.82" y="416.40" width="8.33" height="13.70" fill="#dd2525" stroke="none" stroke-width="0.5" />
<rect x="354.82" y="429.80" width="8.33" height="13.70" fill="#c5c4e4" stroke="none" stroke-width="0.5" />
<rect x="354.82" y="443.20" width="8.33" height="13.70" fill="#bbbbe0" stroke="none" stroke-width="0.5" />
<rect x="354.82" y="456.60" width="8.33" height="13.70" fill="#8b8aca" stroke="none" stroke-width="0.5" />
<rect x="362.85" y="403.00" width="8.33" height="13.70" fill="#f9d8d8" stroke="none" stroke-width="0.5" />
<rect x="362.85" y="416.40" width="8.33" height="13.70" fill="#dd2525" stroke="none" stroke-width="0.5" />
<rect x="362.85" y="429.80" width="8.33" height="13.70" fill="#dcdcef" stroke="none" stroke-width="0.5" />
<rect x="362.85" y="443.20" width="8.33" height="13.70" fill="#8b8aca" stroke="none" stroke-width="0.5" />
<rect x="362.85" y="456.60" width="8.33" height="13.70" fill="#8b8aca" stroke="none" stroke-width="0.5" />
<line x1="5.50" y1="470.00" x2="5.50" y2="472.50" stroke="#333" stroke-width="0.6" />
<text transform="translate(8.27,474.6) rotate(-90)" font-size="8.0" text-anchor="end" fill="#231f20">MPZ</text>
<line x1="13.50" y1="470.00" x2="13.50" y2="472.50" stroke="#333" stroke-width="0.6" />
<text transform="translate(16.29,474.6) rotate(-90)" font-size="8.0" text-anchor="end" fill="#231f20">HS3ST4</text>
<line x1="21.50" y1="470.00" x2="21.50" y2="472.50" stroke="#333" stroke-width="0.6" />
<text transform="translate(24.32,474.6) rotate(-90)" font-size="8.0" text-anchor="end" fill="#231f20">GAS7</text>
<line x1="29.50" y1="470.00" x2="29.50" y2="472.50" stroke="#333" stroke-width="0.6" />
<text transform="translate(32.35,474.6) rotate(-90)" font-size="8.0" text-anchor="end" fill="#231f20">NRXN3</text>
<line x1="37.50" y1="470.00" x2="37.50" y2="472.50" stroke="#333" stroke-width="0.6" />
<text transform="translate(40.38,474.6) rotate(-90)" font-size="8.0" text-anchor="end" fill="#231f20">LRRTM2</text>
<line x1="45.50" y1="470.00" x2="45.50" y2="472.50" stroke="#333" stroke-width="0.6" />
<text transform="translate(48.41,474.6) rotate(-90)" font-size="8.0" text-anchor="end" fill="#231f20">CBLN1</text>
<line x1="53.50" y1="470.00" x2="53.50" y2="472.50" stroke="#333" stroke-width="0.6" />
<text transform="translate(56.44,474.6) rotate(-90)" font-size="8.0" text-anchor="end" fill="#231f20">CPLX1</text>
<line x1="61.50" y1="470.00" x2="61.50" y2="472.50" stroke="#333" stroke-width="0.6" />
<text transform="translate(64.47,474.6) rotate(-90)" font-size="8.0" text-anchor="end" fill="#231f20">ADCYAP1</text>
<line x1="69.50" y1="470.00" x2="69.50" y2="472.50" stroke="#333" stroke-width="0.6" />
<text transform="translate(72.50,474.6) rotate(-90)" font-size="8.0" text-anchor="end" fill="#231f20">SMIM13</text>
<line x1="77.50" y1="470.00" x2="77.50" y2="472.50" stroke="#333" stroke-width="0.6" />
<text transform="translate(80.53,474.6) rotate(-90)" font-size="8.0" text-anchor="end" fill="#231f20">FKBP1B</text>
<line x1="85.50" y1="470.00" x2="85.50" y2="472.50" stroke="#333" stroke-width="0.6" />
<text transform="translate(88.56,474.6) rotate(-90)" font-size="8.0" text-anchor="end" fill="#231f20">LRTM2</text>
<line x1="93.50" y1="470.00" x2="93.50" y2="472.50" stroke="#333" stroke-width="0.6" />
<text transform="translate(96.59,474.6) rotate(-90)" font-size="8.0" text-anchor="end" fill="#231f20">HECW1</text>
<line x1="101.50" y1="470.00" x2="101.50" y2="472.50" stroke="#333" stroke-width="0.6" />
<text transform="translate(104.62,474.6) rotate(-90)" font-size="8.0" text-anchor="end" fill="#231f20">CPLX2</text>
<line x1="109.50" y1="470.00" x2="109.50" y2="472.50" stroke="#333" stroke-width="0.6" />
<text transform="translate(112.65,474.6) rotate(-90)" font-size="8.0" text-anchor="end" fill="#231f20">TAGLN3</text>
<line x1="117.50" y1="470.00" x2="117.50" y2="472.50" stroke="#333" stroke-width="0.6" />
<text transform="translate(120.68,474.6) rotate(-90)" font-size="8.0" text-anchor="end" fill="#231f20">GAP43</text>
<line x1="125.50" y1="470.00" x2="125.50" y2="472.50" stroke="#333" stroke-width="0.6" />
<text transform="translate(128.71,474.6) rotate(-90)" font-size="8.0" text-anchor="end" fill="#231f20">STMN2</text>
<line x1="133.50" y1="470.00" x2="133.50" y2="472.50" stroke="#333" stroke-width="0.6" />
<text transform="translate(136.74,474.6) rotate(-90)" font-size="8.0" text-anchor="end" fill="#231f20">SCN2B</text>
<line x1="142.50" y1="470.00" x2="142.50" y2="472.50" stroke="#333" stroke-width="0.6" />
<text transform="translate(144.77,474.6) rotate(-90)" font-size="8.0" text-anchor="end" fill="#231f20">HTR6</text>
<line x1="150.50" y1="470.00" x2="150.50" y2="472.50" stroke="#333" stroke-width="0.6" />
<text transform="translate(152.80,474.6) rotate(-90)" font-size="8.0" text-anchor="end" fill="#231f20">PAK5</text>
<line x1="158.50" y1="470.00" x2="158.50" y2="472.50" stroke="#333" stroke-width="0.6" />
<text transform="translate(160.83,474.6) rotate(-90)" font-size="8.0" text-anchor="end" fill="#231f20">NPTXR</text>
<line x1="166.50" y1="470.00" x2="166.50" y2="472.50" stroke="#333" stroke-width="0.6" />
<text transform="translate(168.86,474.6) rotate(-90)" font-size="8.0" text-anchor="end" fill="#231f20">NRXN2</text>
<line x1="174.50" y1="470.00" x2="174.50" y2="472.50" stroke="#333" stroke-width="0.6" />
<text transform="translate(176.89,474.6) rotate(-90)" font-size="8.0" text-anchor="end" fill="#231f20">RAB6B</text>
<line x1="182.50" y1="470.00" x2="182.50" y2="472.50" stroke="#333" stroke-width="0.6" />
<text transform="translate(184.92,474.6) rotate(-90)" font-size="8.0" text-anchor="end" fill="#231f20">CA11</text>
<line x1="190.50" y1="470.00" x2="190.50" y2="472.50" stroke="#333" stroke-width="0.6" />
<text transform="translate(192.95,474.6) rotate(-90)" font-size="8.0" text-anchor="end" fill="#231f20">PRKAR1B</text>
<line x1="198.50" y1="470.00" x2="198.50" y2="472.50" stroke="#333" stroke-width="0.6" />
<text transform="translate(200.98,474.6) rotate(-90)" font-size="8.0" text-anchor="end" fill="#231f20">OLFM1</text>
<line x1="206.50" y1="470.00" x2="206.50" y2="472.50" stroke="#333" stroke-width="0.6" />
<text transform="translate(209.01,474.6) rotate(-90)" font-size="8.0" text-anchor="end" fill="#231f20">SEPT3</text>
<line x1="214.50" y1="470.00" x2="214.50" y2="472.50" stroke="#333" stroke-width="0.6" />
<text transform="translate(217.04,474.6) rotate(-90)" font-size="8.0" text-anchor="end" fill="#231f20">SEZ6L</text>
<line x1="222.50" y1="470.00" x2="222.50" y2="472.50" stroke="#333" stroke-width="0.6" />
<text transform="translate(225.07,474.6) rotate(-90)" font-size="8.0" text-anchor="end" fill="#231f20">TNR</text>
<line x1="230.50" y1="470.00" x2="230.50" y2="472.50" stroke="#333" stroke-width="0.6" />
<text transform="translate(233.10,474.6) rotate(-90)" font-size="8.0" text-anchor="end" fill="#231f20">WSCD2</text>
<line x1="238.50" y1="470.00" x2="238.50" y2="472.50" stroke="#333" stroke-width="0.6" />
<text transform="translate(241.13,474.6) rotate(-90)" font-size="8.0" text-anchor="end" fill="#231f20">ADAM11</text>
<line x1="246.50" y1="470.00" x2="246.50" y2="472.50" stroke="#333" stroke-width="0.6" />
<text transform="translate(249.16,474.6) rotate(-90)" font-size="8.0" text-anchor="end" fill="#231f20">LRRTM1</text>
<line x1="254.50" y1="470.00" x2="254.50" y2="472.50" stroke="#333" stroke-width="0.6" />
<text transform="translate(257.19,474.6) rotate(-90)" font-size="8.0" text-anchor="end" fill="#231f20">ALDOC</text>
<line x1="262.50" y1="470.00" x2="262.50" y2="472.50" stroke="#333" stroke-width="0.6" />
<text transform="translate(265.22,474.6) rotate(-90)" font-size="8.0" text-anchor="end" fill="#231f20">ZNF382</text>
<line x1="270.50" y1="470.00" x2="270.50" y2="472.50" stroke="#333" stroke-width="0.6" />
<text transform="translate(273.25,474.6) rotate(-90)" font-size="8.0" text-anchor="end" fill="#231f20">C1QL2</text>
<line x1="278.50" y1="470.00" x2="278.50" y2="472.50" stroke="#333" stroke-width="0.6" />
<text transform="translate(281.28,474.6) rotate(-90)" font-size="8.0" text-anchor="end" fill="#231f20">TMEM132B</text>
<line x1="286.50" y1="470.00" x2="286.50" y2="472.50" stroke="#333" stroke-width="0.6" />
<text transform="translate(289.31,474.6) rotate(-90)" font-size="8.0" text-anchor="end" fill="#231f20">CADM3</text>
<line x1="294.50" y1="470.00" x2="294.50" y2="472.50" stroke="#333" stroke-width="0.6" />
<text transform="translate(297.34,474.6) rotate(-90)" font-size="8.0" text-anchor="end" fill="#231f20">PMP2</text>
<line x1="302.50" y1="470.00" x2="302.50" y2="472.50" stroke="#333" stroke-width="0.6" />
<text transform="translate(305.37,474.6) rotate(-90)" font-size="8.0" text-anchor="end" fill="#231f20">NCAN</text>
<line x1="310.50" y1="470.00" x2="310.50" y2="472.50" stroke="#333" stroke-width="0.6" />
<text transform="translate(313.40,474.6) rotate(-90)" font-size="8.0" text-anchor="end" fill="#231f20">KCNE5</text>
<line x1="318.50" y1="470.00" x2="318.50" y2="472.50" stroke="#333" stroke-width="0.6" />
<text transform="translate(321.43,474.6) rotate(-90)" font-size="8.0" text-anchor="end" fill="#231f20">PRRG1</text>
<line x1="326.50" y1="470.00" x2="326.50" y2="472.50" stroke="#333" stroke-width="0.6" />
<text transform="translate(329.46,474.6) rotate(-90)" font-size="8.0" text-anchor="end" fill="#231f20">PIP4K2A</text>
<line x1="334.50" y1="470.00" x2="334.50" y2="472.50" stroke="#333" stroke-width="0.6" />
<text transform="translate(337.49,474.6) rotate(-90)" font-size="8.0" text-anchor="end" fill="#231f20">NGFR</text>
<line x1="342.50" y1="470.00" x2="342.50" y2="472.50" stroke="#333" stroke-width="0.6" />
<text transform="translate(345.52,474.6) rotate(-90)" font-size="8.0" text-anchor="end" fill="#231f20">CNDP1</text>
<line x1="350.50" y1="470.00" x2="350.50" y2="472.50" stroke="#333" stroke-width="0.6" />
<text transform="translate(353.55,474.6) rotate(-90)" font-size="8.0" text-anchor="end" fill="#231f20">TMEFF1</text>
<line x1="358.50" y1="470.00" x2="358.50" y2="472.50" stroke="#333" stroke-width="0.6" />
<text transform="translate(361.58,474.6) rotate(-90)" font-size="8.0" text-anchor="end" fill="#231f20">LANCL1</text>
<line x1="366.50" y1="470.00" x2="366.50" y2="472.50" stroke="#333" stroke-width="0.6" />
<text transform="translate(369.61,474.6) rotate(-90)" font-size="8.0" text-anchor="end" fill="#231f20">OMG</text>
<text x="376.90" y="375.70" font-size="7.9" fill="#231f20" >GO:0045202</text>
<text x="376.90" y="383.70" font-size="7.9" fill="#231f20" >synapse</text>
<line x1="371.30" y1="382.50" x2="374.20" y2="382.50" stroke="#333" stroke-width="0.6" />
<text x="376.90" y="394.20" font-size="7.9" fill="#231f20" >Top model</text>
<line x1="371.30" y1="392.50" x2="374.20" y2="392.50" stroke="#333" stroke-width="0.6" />
<text x="376.90" y="402.10" font-size="7.9" fill="#231f20" >proteins</text>
<text x="376.90" y="413.74" font-size="7.9" fill="#231f20" >Neurons</text>
<line x1="371.80" y1="410.50" x2="374.20" y2="410.50" stroke="#333" stroke-width="0.6" />
<text x="376.90" y="425.64" font-size="7.9" fill="#231f20" >Oligodendrocytes</text>
<line x1="371.80" y1="422.50" x2="374.20" y2="422.50" stroke="#333" stroke-width="0.6" />
<text x="376.90" y="438.84" font-size="7.9" fill="#231f20" >Astrocytes</text>
<line x1="371.80" y1="436.50" x2="374.20" y2="436.50" stroke="#333" stroke-width="0.6" />
<text x="376.90" y="452.24" font-size="7.9" fill="#231f20" >Endothelial cells</text>
<line x1="371.80" y1="449.50" x2="374.20" y2="449.50" stroke="#333" stroke-width="0.6" />
<text x="376.90" y="465.84" font-size="7.9" fill="#231f20" >Microglia</text>
<line x1="371.80" y1="463.50" x2="374.20" y2="463.50" stroke="#333" stroke-width="0.6" />
<defs><linearGradient id="gf" x1="0" y1="0" x2="0" y2="1"><stop offset="0" stop-color="#dd2525"/><stop offset="0.5" stop-color="#ffffff"/><stop offset="1" stop-color="#545eb2"/></linearGradient><linearGradient id="gg" x1="0" y1="0" x2="0" y2="1"><stop offset="0" stop-color="#f3a0a4"/><stop offset="0.3" stop-color="#ffffff"/><stop offset="1" stop-color="#3a4fa8"/></linearGradient></defs>
<rect x="376.00" y="473.60" width="5.40" height="25.20" fill="url(#gf)" stroke="none" stroke-width="0.5" />
<line x1="381.40" y1="480.50" x2="383.00" y2="480.50" stroke="#333" stroke-width="0.6" />
<text x="384.50" y="482.84" font-size="7.9" fill="#231f20" >1</text>
<line x1="381.40" y1="489.50" x2="383.00" y2="489.50" stroke="#333" stroke-width="0.6" />
<text x="384.50" y="492.64" font-size="7.9" fill="#231f20" >0</text>
<line x1="381.40" y1="498.50" x2="383.00" y2="498.50" stroke="#333" stroke-width="0.6" />
<text x="384.50" y="500.94" font-size="7.9" fill="#231f20" >−1</text>
<text x="422.60" y="487.04" font-size="7.9" text-anchor="middle" fill="#231f20" >Mean</text>
<text x="423.60" y="496.24" font-size="7.9" text-anchor="middle" fill="#231f20" >expression</text>
<text x="449" y="368.5" font-size="11" font-weight="bold" fill="#000" stroke="#000" stroke-width="0.3">g</text>
<rect x="468.00" y="378.70" width="11.58" height="12.95" fill="#f7bdc1" stroke="#2a2a2a" stroke-width="0.7" />
<rect x="479.58" y="378.70" width="11.58" height="12.95" fill="#b5bade" stroke="#2a2a2a" stroke-width="0.7" />
<rect x="491.16" y="378.70" width="11.58" height="12.95" fill="#fce6e8" stroke="#2a2a2a" stroke-width="0.7" />
<rect x="502.74" y="378.70" width="11.58" height="12.95" fill="#f5aeb3" stroke="#2a2a2a" stroke-width="0.7" />
<rect x="514.32" y="378.70" width="11.58" height="12.95" fill="#f8c9cc" stroke="#2a2a2a" stroke-width="0.7" />
<rect x="525.90" y="378.70" width="11.58" height="12.95" fill="#f19197" stroke="#2a2a2a" stroke-width="0.7" />
<rect x="537.48" y="378.70" width="11.58" height="12.95" fill="#f8c9cc" stroke="#2a2a2a" stroke-width="0.7" />
<rect x="468.00" y="391.65" width="11.58" height="12.95" fill="#f9d0d3" stroke="#2a2a2a" stroke-width="0.7" />
<rect x="479.58" y="391.65" width="11.58" height="12.95" fill="#6670bc" stroke="#2a2a2a" stroke-width="0.7" />
<rect x="491.16" y="391.65" width="11.58" height="12.95" fill="#d2d5eb" stroke="#2a2a2a" stroke-width="0.7" />
<rect x="502.74" y="391.65" width="11.58" height="12.95" fill="#f9d0d3" stroke="#2a2a2a" stroke-width="0.7" />
<rect x="514.32" y="391.65" width="11.58" height="12.95" fill="#f9ced1" stroke="#2a2a2a" stroke-width="0.7" />
<rect x="525.90" y="391.65" width="11.58" height="12.95" fill="#f7bfc3" stroke="#2a2a2a" stroke-width="0.7" />
<rect x="537.48" y="391.65" width="11.58" height="12.95" fill="#f5aeb3" stroke="#2a2a2a" stroke-width="0.7" />
<text x="473.94" y="388.88" font-size="7.4" font-weight="bold" text-anchor="middle" fill="#222" letter-spacing="0.3">***</text>
<text x="485.52" y="388.88" font-size="7.4" font-weight="bold" text-anchor="middle" fill="#222" letter-spacing="0.3">***</text>
<text x="497.10" y="388.88" font-size="7.4" font-weight="bold" text-anchor="middle" fill="#222" letter-spacing="0.3">***</text>
<text x="508.68" y="388.88" font-size="7.4" font-weight="bold" text-anchor="middle" fill="#222" letter-spacing="0.3">***</text>
<text x="520.26" y="388.88" font-size="7.4" font-weight="bold" text-anchor="middle" fill="#222" letter-spacing="0.3">***</text>
<text x="531.84" y="388.88" font-size="7.4" font-weight="bold" text-anchor="middle" fill="#222" letter-spacing="0.3">***</text>
<text x="543.42" y="388.88" font-size="7.4" font-weight="bold" text-anchor="middle" fill="#222" letter-spacing="0.3">***</text>
<text x="473.94" y="401.82" font-size="7.4" font-weight="bold" text-anchor="middle" fill="#222" letter-spacing="0.3">***</text>
<text x="485.52" y="401.82" font-size="7.4" font-weight="bold" text-anchor="middle" fill="#222" letter-spacing="0.3">***</text>
<text x="497.10" y="401.82" font-size="7.4" font-weight="bold" text-anchor="middle" fill="#222" letter-spacing="0.3">***</text>
<text x="508.68" y="401.82" font-size="7.4" font-weight="bold" text-anchor="middle" fill="#222" letter-spacing="0.3">***</text>
<text x="520.26" y="401.82" font-size="7.4" font-weight="bold" text-anchor="middle" fill="#222" letter-spacing="0.3">***</text>
<text x="531.84" y="401.82" font-size="7.4" font-weight="bold" text-anchor="middle" fill="#222" letter-spacing="0.3">***</text>
<text x="543.42" y="401.82" font-size="7.4" font-weight="bold" text-anchor="middle" fill="#222" letter-spacing="0.3">***</text>
<rect x="468.00" y="415.00" width="11.58" height="12.90" fill="#f4f4fa" stroke="#2a2a2a" stroke-width="0.7" />
<rect x="479.58" y="415.00" width="11.58" height="12.90" fill="#f4f4fa" stroke="#2a2a2a" stroke-width="0.7" />
<rect x="491.16" y="415.00" width="11.58" height="12.90" fill="#f4f4fa" stroke="#2a2a2a" stroke-width="0.7" />
<rect x="502.74" y="415.00" width="11.58" height="12.90" fill="#b0b6dc" stroke="#2a2a2a" stroke-width="0.7" />
<rect x="514.32" y="415.00" width="11.58" height="12.90" fill="#b0b6dc" stroke="#2a2a2a" stroke-width="0.7" />
<rect x="525.90" y="415.00" width="11.58" height="12.90" fill="#f8f9fc" stroke="#2a2a2a" stroke-width="0.7" />
<rect x="537.48" y="415.00" width="11.58" height="12.90" fill="#ffffff" stroke="#2a2a2a" stroke-width="0.7" />
<rect x="468.00" y="427.90" width="11.58" height="12.90" fill="#8e96ce" stroke="#2a2a2a" stroke-width="0.7" />
<rect x="479.58" y="427.90" width="11.58" height="12.90" fill="#d2d5eb" stroke="#2a2a2a" stroke-width="0.7" />
<rect x="491.16" y="427.90" width="11.58" height="12.90" fill="#b7bcdf" stroke="#2a2a2a" stroke-width="0.7" />
<rect x="502.74" y="427.90" width="11.58" height="12.90" fill="#acb1da" stroke="#2a2a2a" stroke-width="0.7" />
<rect x="514.32" y="427.90" width="11.58" height="12.90" fill="#c2c6e4" stroke="#2a2a2a" stroke-width="0.7" />
<rect x="525.90" y="427.90" width="11.58" height="12.90" fill="#dde0f0" stroke="#2a2a2a" stroke-width="0.7" />
<rect x="537.48" y="427.90" width="11.58" height="12.90" fill="#a0a7d5" stroke="#2a2a2a" stroke-width="0.7" />
<rect x="468.00" y="440.80" width="11.58" height="12.90" fill="#3f4cab" stroke="#2a2a2a" stroke-width="0.7" />
<rect x="479.58" y="440.80" width="11.58" height="12.90" fill="#4653ae" stroke="#2a2a2a" stroke-width="0.7" />
<rect x="491.16" y="440.80" width="11.58" height="12.90" fill="#3f4cab" stroke="#2a2a2a" stroke-width="0.7" />
<rect x="502.74" y="440.80" width="11.58" height="12.90" fill="#3442a6" stroke="#2a2a2a" stroke-width="0.7" />
<rect x="514.32" y="440.80" width="11.58" height="12.90" fill="#838cc9" stroke="#2a2a2a" stroke-width="0.7" />
<rect x="525.90" y="440.80" width="11.58" height="12.90" fill="#e4e6f3" stroke="#2a2a2a" stroke-width="0.7" />
<rect x="537.48" y="440.80" width="11.58" height="12.90" fill="#8e96ce" stroke="#2a2a2a" stroke-width="0.7" />
<rect x="468.00" y="453.70" width="11.58" height="12.90" fill="#3f4cab" stroke="#2a2a2a" stroke-width="0.7" />
<rect x="479.58" y="453.70" width="11.58" height="12.90" fill="#e4e6f3" stroke="#2a2a2a" stroke-width="0.7" />
<rect x="491.16" y="453.70" width="11.58" height="12.90" fill="#ffffff" stroke="#2a2a2a" stroke-width="0.7" />
<rect x="502.74" y="453.70" width="11.58" height="12.90" fill="#ffffff" stroke="#2a2a2a" stroke-width="0.7" />
<rect x="514.32" y="453.70" width="11.58" height="12.90" fill="#ffffff" stroke="#2a2a2a" stroke-width="0.7" />
<rect x="525.90" y="453.70" width="11.58" height="12.90" fill="#ffffff" stroke="#2a2a2a" stroke-width="0.7" />
<rect x="537.48" y="453.70" width="11.58" height="12.90" fill="#ffffff" stroke="#2a2a2a" stroke-width="0.7" />
<rect x="468.00" y="466.60" width="11.58" height="12.90" fill="#3f4cab" stroke="#2a2a2a" stroke-width="0.7" />
<rect x="479.58" y="466.60" width="11.58" height="12.90" fill="#838cc9" stroke="#2a2a2a" stroke-width="0.7" />
<rect x="491.16" y="466.60" width="11.58" height="12.90" fill="#ffffff" stroke="#2a2a2a" stroke-width="0.7" />
<rect x="502.74" y="466.60" width="11.58" height="12.90" fill="#ffffff" stroke="#2a2a2a" stroke-width="0.7" />
<rect x="514.32" y="466.60" width="11.58" height="12.90" fill="#ffffff" stroke="#2a2a2a" stroke-width="0.7" />
<rect x="525.90" y="466.60" width="11.58" height="12.90" fill="#ffffff" stroke="#2a2a2a" stroke-width="0.7" />
<rect x="537.48" y="466.60" width="11.58" height="12.90" fill="#ffffff" stroke="#2a2a2a" stroke-width="0.7" />
<text x="473.79" y="423.85" font-size="6.6" text-anchor="middle" fill="#222" textLength="8.4" lengthAdjust="spacingAndGlyphs">NS</text>
<text x="485.37" y="423.85" font-size="6.6" text-anchor="middle" fill="#222" textLength="8.4" lengthAdjust="spacingAndGlyphs">NS</text>
<text x="496.95" y="423.85" font-size="6.6" text-anchor="middle" fill="#222" textLength="8.4" lengthAdjust="spacingAndGlyphs">NS</text>
<text x="508.68" y="425.15" font-size="7.4" font-weight="bold" text-anchor="middle" fill="#222" letter-spacing="0.3">***</text>
<text x="520.26" y="425.15" font-size="7.4" font-weight="bold" text-anchor="middle" fill="#222" letter-spacing="0.3">***</text>
<text x="531.69" y="423.85" font-size="6.6" text-anchor="middle" fill="#222" textLength="8.4" lengthAdjust="spacingAndGlyphs">NS</text>
<text x="473.94" y="438.05" font-size="7.4" font-weight="bold" text-anchor="middle" fill="#222" letter-spacing="0.3">**</text>
<text x="485.37" y="436.75" font-size="6.6" text-anchor="middle" fill="#222" textLength="8.4" lengthAdjust="spacingAndGlyphs">NS</text>
<text x="497.10" y="438.05" font-size="7.4" font-weight="bold" text-anchor="middle" fill="#222" letter-spacing="0.3">*</text>
<text x="508.68" y="438.05" font-size="7.4" font-weight="bold" text-anchor="middle" fill="#222" letter-spacing="0.3">*</text>
<text x="520.26" y="438.05" font-size="7.4" font-weight="bold" text-anchor="middle" fill="#222" letter-spacing="0.3">**</text>
<text x="531.69" y="436.75" font-size="6.6" text-anchor="middle" fill="#222" textLength="8.4" lengthAdjust="spacingAndGlyphs">NS</text>
<text x="543.27" y="436.75" font-size="6.6" text-anchor="middle" fill="#222" textLength="8.4" lengthAdjust="spacingAndGlyphs">NS</text>
<text x="473.94" y="450.95" font-size="7.4" font-weight="bold" text-anchor="middle" fill="#ffffff" letter-spacing="0.3">***</text>
<text x="485.52" y="450.95" font-size="7.4" font-weight="bold" text-anchor="middle" fill="#ffffff" letter-spacing="0.3">***</text>
<text x="497.10" y="450.95" font-size="7.4" font-weight="bold" text-anchor="middle" fill="#ffffff" letter-spacing="0.3">***</text>
<text x="508.68" y="450.95" font-size="7.4" font-weight="bold" text-anchor="middle" fill="#ffffff" letter-spacing="0.3">***</text>
<text x="520.26" y="450.95" font-size="7.4" font-weight="bold" text-anchor="middle" fill="#222" letter-spacing="0.3">***</text>
<text x="531.84" y="450.95" font-size="7.4" font-weight="bold" text-anchor="middle" fill="#222" letter-spacing="0.3">*</text>
<text x="543.42" y="450.95" font-size="7.4" font-weight="bold" text-anchor="middle" fill="#222" letter-spacing="0.3">***</text>
<text x="473.94" y="463.85" font-size="7.4" font-weight="bold" text-anchor="middle" fill="#ffffff" letter-spacing="0.3">***</text>
<text x="485.52" y="463.85" font-size="7.4" font-weight="bold" text-anchor="middle" fill="#222" letter-spacing="0.3">*</text>
<text x="473.94" y="476.75" font-size="7.4" font-weight="bold" text-anchor="middle" fill="#ffffff" letter-spacing="0.3">***</text>
<text x="485.37" y="475.45" font-size="6.6" text-anchor="middle" fill="#ffffff" textLength="8.4" lengthAdjust="spacingAndGlyphs">NS</text>
<line x1="464.50" y1="380.40" x2="464.50" y2="403.20" stroke="#777" stroke-width="1.2" />
<line x1="464.50" y1="415.90" x2="464.50" y2="477.20" stroke="#777" stroke-width="1.2" />
<line x1="549.06" y1="384.50" x2="552.06" y2="384.50" stroke="#333" stroke-width="0.6" />
<text x="553.90" y="388.26" font-size="9.32" fill="#231f20" >Plasma protein aging</text>
<line x1="549.06" y1="397.50" x2="552.06" y2="397.50" stroke="#333" stroke-width="0.6" />
<text x="553.90" y="401.06" font-size="9.32" fill="#231f20" >Plasma protein AD/HC</text>
<line x1="549.06" y1="420.50" x2="552.06" y2="420.50" stroke="#333" stroke-width="0.6" />
<text x="553.90" y="423.96" font-size="9.32" fill="#231f20" >Brain protein AD/HC</text>
<line x1="549.06" y1="433.50" x2="552.06" y2="433.50" stroke="#333" stroke-width="0.6" />
<text x="553.90" y="436.76" font-size="9.32" fill="#231f20" >Brain RNA AD/HC</text>
<line x1="549.06" y1="446.50" x2="552.06" y2="446.50" stroke="#333" stroke-width="0.6" />
<text x="553.90" y="449.56" font-size="9.32" fill="#231f20" >Neuron scRNA AD/HC</text>
<line x1="549.06" y1="459.50" x2="552.06" y2="459.50" stroke="#333" stroke-width="0.6" />
<text x="553.90" y="463.16" font-size="9.32" fill="#231f20" >Oligodendrocyte scRNA AD/HC</text>
<line x1="549.06" y1="472.50" x2="552.06" y2="472.50" stroke="#333" stroke-width="0.6" />
<text x="553.90" y="476.16" font-size="9.32" fill="#231f20" >Astrocyte scRNA AD/HC</text>
<line x1="473.50" y1="479.60" x2="473.50" y2="482.00" stroke="#333" stroke-width="0.6" />
<text transform="translate(476.54,483.9) rotate(-90)" font-size="7.8" text-anchor="end" fill="#231f20">NRXN3</text>
<line x1="485.50" y1="479.60" x2="485.50" y2="482.00" stroke="#333" stroke-width="0.6" />
<text transform="translate(488.12,483.9) rotate(-90)" font-size="7.8" text-anchor="end" fill="#231f20">LANCL1</text>
<line x1="496.50" y1="479.60" x2="496.50" y2="482.00" stroke="#333" stroke-width="0.6" />
<text transform="translate(499.70,483.9) rotate(-90)" font-size="7.8" text-anchor="end" fill="#231f20">NPTXR</text>
<line x1="508.50" y1="479.60" x2="508.50" y2="482.00" stroke="#333" stroke-width="0.6" />
<text transform="translate(511.28,483.9) rotate(-90)" font-size="7.8" text-anchor="end" fill="#231f20">CPLX1</text>
<line x1="520.50" y1="479.60" x2="520.50" y2="482.00" stroke="#333" stroke-width="0.6" />
<text transform="translate(522.86,483.9) rotate(-90)" font-size="7.8" text-anchor="end" fill="#231f20">OLFM1</text>
<line x1="531.50" y1="479.60" x2="531.50" y2="482.00" stroke="#333" stroke-width="0.6" />
<text transform="translate(534.44,483.9) rotate(-90)" font-size="7.8" text-anchor="end" fill="#231f20">CPLX2</text>
<line x1="543.50" y1="479.60" x2="543.50" y2="482.00" stroke="#333" stroke-width="0.6" />
<text transform="translate(546.02,483.9) rotate(-90)" font-size="7.8" text-anchor="end" fill="#231f20">STMN2</text>
<rect x="456.2" y="383.4" width="4.6" height="2.2" rx="0.6" fill="#b9b9b9"/>
<path d="M456.4,385.6 H460.6 V392 H456.4 Z" fill="#e7b321"/>
<path d="M456.4,392 H460.6 V399.3 A2.1,2.1 0 0 1 456.4,399.3 Z" fill="#ac2f33"/>
<path d="M443.5,446.5 C441.5,443.5 442.5,439.5 446.5,438.3 C449,436.8 454,436.7 457,437.7 C461,438.8 463.5,441.5 463,445 C462.8,447.3 461.5,448.5 460.5,449 C460.3,451 458.5,452 456.8,451.6 L456.6,455.8 L455.3,455.5 L453.8,450.8 C451.5,451 449.3,450.5 448.5,449.3 C446,449.3 444.3,448.3 443.5,446.5 Z" fill="#f2c8cc"/>
<path d="M453.8,449.2 C456,448.3 459,448.2 460.5,449 C460.3,451 458.5,452 456.8,451.6 L456.6,455.8 L455.3,455.5 Z" fill="#eab2b8"/>
<path d="M445,443 C447,441.5 448.5,443 450.5,441.5 C452,440.5 453.5,442 455.5,440.8 M447,446 C449.5,445 451,446.8 453.5,445.5 C455.5,444.5 457,446 459.5,444.8 M449,439.5 C450.5,440.3 452,439 453.5,439.8 M457,442 C458.5,441 460,442.5 461.5,441.8 M446.5,447.8 C448.5,447.2 450.5,448.5 452.5,447.6" stroke="#f9e0e2" stroke-width="0.6" fill="none"/>
<path d="M444.8,445.2 C446.2,444.2 447.5,444.8 448.6,444 M451,443.5 C452.5,442.8 454,444 455.6,443 M457.5,439.6 C459,440.4 460.2,439.8 461.4,440.8 M449.8,448.4 C451.6,449.2 453,448 454.3,448.6" stroke="#e2a8ae" stroke-width="0.45" fill="none"/>
<rect x="566.30" y="487.20" width="5.00" height="19.50" fill="url(#gg)" stroke="none" stroke-width="0.5" />
<line x1="571.30" y1="492.50" x2="573.00" y2="492.50" stroke="#333" stroke-width="0.6" />
<text x="574.00" y="495.71" font-size="9.2" fill="#231f20" >0</text>
<line x1="571.30" y1="501.50" x2="573.00" y2="501.50" stroke="#333" stroke-width="0.6" />
<text x="574.00" y="504.61" font-size="9.2" fill="#231f20" >−0.25</text>
<text x="601.50" y="498.61" font-size="9.2" fill="#231f20" >Effect size</text>
</svg></body></html>
